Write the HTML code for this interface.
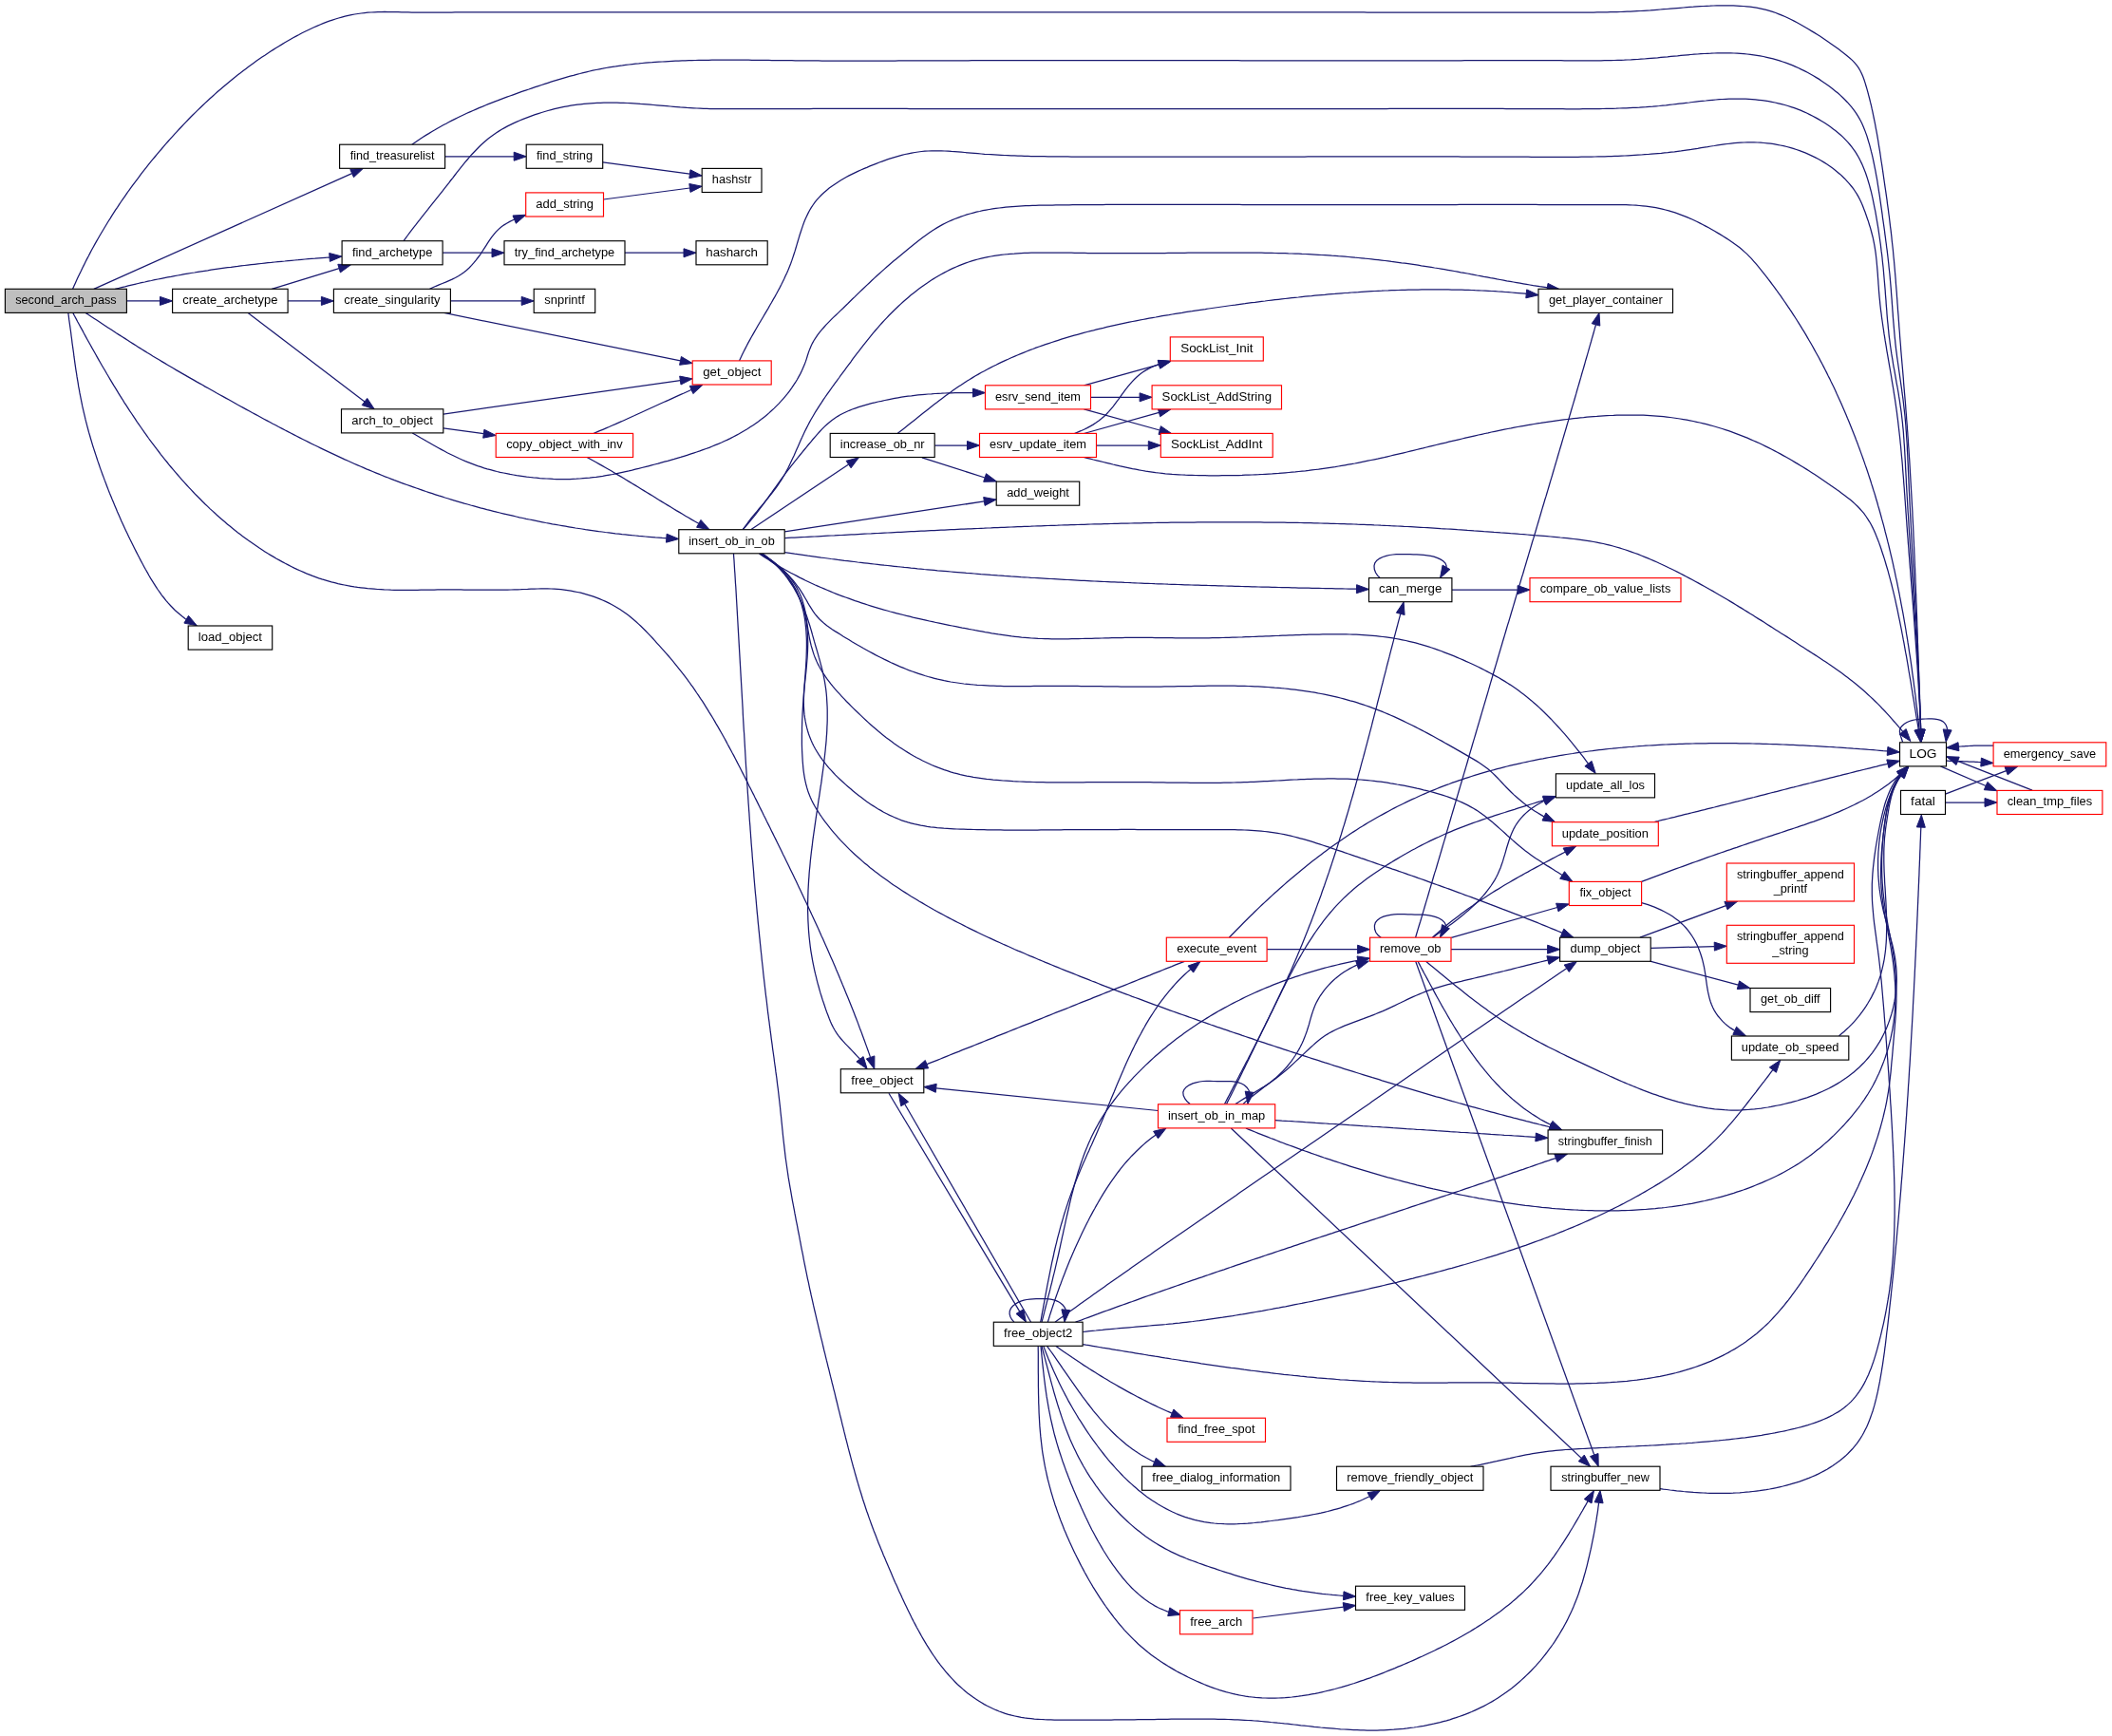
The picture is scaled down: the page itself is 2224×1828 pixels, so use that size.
<!DOCTYPE html>
<html><head><meta charset="utf-8"><title>second_arch_pass call graph</title><style>html,body{margin:0;padding:0;background:#fff;}body{width:2224px;height:1828px;overflow:hidden;}svg{display:block;}text{font-family:"Liberation Sans",sans-serif;}</style></head><body>
<svg xmlns="http://www.w3.org/2000/svg" width="2224" height="1828" viewBox="0 0 2224 1828">
<rect width="100%" height="100%" fill="#ffffff"/>
<g fill="none" stroke="#191970" stroke-width="1.25">
<path d="M76.5,304.4 77.9,301.2 79.4,297.9 80.8,294.7 82.3,291.5 83.8,288.4 85.4,285.2 86.9,282 88.5,278.9 90,275.7 91.6,272.6 93.3,269.5 94.9,266.4 96.5,263.3 98.2,260.2 99.9,257.1 101.6,254.1 103.4,251 105.1,248 106.9,245 108.7,242 110.5,239 112.3,236 114.1,233 116,230.1 117.8,227.1 119.7,224.2 121.6,221.2 123.6,218.3 125.5,215.4 127.4,212.5 129.4,209.6 131.4,206.8 133.4,203.9 135.4,201 137.5,198.2 139.5,195.4 141.6,192.6 143.7,189.8 145.8,187 147.9,184.2 150,181.4 152.2,178.7 154.4,175.9 156.5,173.2 158.7,170.4 161,167.7 163.2,165 165.4,162.3 167.7,159.6 170,157 172.2,154.3 174.5,151.7 176.9,149 179.2,146.4 181.5,143.8 183.9,141.2 186.3,138.6 188.7,136 191.1,133.5 193.5,130.9 195.9,128.4 198.4,125.8 200.8,123.3 203.3,120.8 205.8,118.4 208.3,115.9 210.8,113.5 213.4,111 215.9,108.6 218.5,106.2 221.1,103.8 223.7,101.5 226.3,99.1 228.9,96.8 231.6,94.5 234.2,92.2 236.9,89.9 239.6,87.7 242.3,85.4 245,83.2 247.8,81 250.5,78.8 253.3,76.7 256.1,74.5 258.9,72.4 261.7,70.3 264.5,68.2 267.3,66.2 270.2,64.1 273.1,62.1 276,60.1 278.9,58.2 281.8,56.2 284.7,54.3 287.7,52.4 290.6,50.5 293.6,48.7 296.6,46.9 299.6,45 302.6,43.3 305.7,41.5 308.7,39.8 311.8,38.1 314.9,36.5 318,34.8 321.1,33.3 324.3,31.7 327.4,30.2 330.6,28.8 333.8,27.4 337,26 340.2,24.7 343.4,23.4 346.7,22.2 350,21.1 353.3,20 356.6,19 359.9,18.1 363.3,17.2 366.7,16.4 370.1,15.7 373.5,15 376.9,14.5 380.4,14 383.9,13.6 387.3,13.2 390.9,13 394.4,12.8 397.9,12.7 401.5,12.6 405,12.5 408.6,12.6 412.2,12.6 415.8,12.6 419.3,12.7 422.9,12.8 426.5,12.9 430,12.9 433.5,13 437.1,13 440.6,13 444.1,13.1 447.6,13.1 451.1,13.1 454.6,13.1 458.1,13.1 461.6,13 465.1,13 468.6,13 472.1,13 475.6,13 479.1,12.9 482.6,12.9 486.1,12.9 489.5,12.9 493,12.9 496.5,12.9 500,12.9 503.5,12.9 507,12.8 510.5,12.8 514,12.8 517.5,12.8 521,12.8 524.5,12.8 528,12.8 531.5,12.8 535,12.8 538.5,12.8 542,12.8 545.5,12.8 549,12.8 552.6,12.8 556.1,12.8 559.6,12.8 563.1,12.8 566.6,12.8 570.1,12.8 573.6,12.8 577.1,12.8 580.6,12.8 584.1,12.8 587.6,12.8 591.1,12.8 594.6,12.8 598.1,12.8 601.6,12.8 605.1,12.8 608.7,12.8 612.2,12.8 615.7,12.8 619.2,12.8 622.7,12.8 626.2,12.8 629.7,12.8 633.2,12.8 636.7,12.8 640.2,12.8 643.7,12.8 647.2,12.8 650.8,12.8 654.3,12.8 657.8,12.8 661.3,12.8 664.8,12.8 668.3,12.8 671.8,12.8 675.3,12.8 678.8,12.8 682.3,12.8 685.8,12.8 689.3,12.8 692.9,12.8 696.4,12.8 699.9,12.8 703.4,12.8 706.9,12.8 710.4,12.8 713.9,12.8 717.4,12.8 720.9,12.8 724.4,12.8 727.9,12.8 731.4,12.8 734.9,12.8 738.5,12.8 742,12.9 745.5,12.9 749,12.9 752.5,12.9 756,12.9 759.5,12.9 763,12.9 766.5,12.9 770,12.9 773.5,12.9 777,12.9 780.5,12.9 784,12.9 787.6,12.9 791.1,12.9 794.6,12.9 798.1,12.9 801.6,12.9 805.1,12.9 808.6,12.9 812.1,12.9 815.6,12.9 819.1,12.9 822.6,12.9 826.1,12.9 829.6,12.9 833.1,12.9 836.7,12.9 840.2,12.9 843.7,12.9 847.2,12.9 850.7,12.9 854.2,12.9 857.7,12.9 861.2,12.9 864.7,12.9 868.2,12.9 871.7,12.9 875.2,12.9 878.7,12.9 882.2,12.9 885.8,12.9 889.3,12.9 892.8,12.9 896.3,12.9 899.8,12.9 903.3,12.9 906.8,12.9 910.3,12.9 913.8,12.9 917.3,12.9 920.8,12.9 924.3,12.9 927.8,12.9 931.3,12.9 934.8,12.9 938.4,12.9 941.9,12.9 945.4,12.9 948.9,12.9 952.4,12.9 955.9,12.9 959.4,12.9 962.9,12.9 966.4,12.9 969.9,12.9 973.4,12.9 976.9,12.9 980.4,12.9 983.9,12.9 987.4,12.9 990.9,12.9 994.5,12.9 998,12.9 1001.5,12.9 1005,12.9 1008.5,12.9 1012,12.9 1015.5,12.9 1019,12.9 1022.5,12.9 1026,12.9 1029.5,12.9 1033,12.9 1036.5,12.9 1040,12.9 1043.5,12.9 1047.1,12.9 1050.6,12.9 1054.1,12.9 1057.6,12.9 1061.1,12.9 1064.6,12.9 1068.1,12.9 1071.6,12.9 1075.1,12.9 1078.6,12.9 1082.1,12.9 1085.6,12.9 1089.1,12.9 1092.6,12.9 1096.1,12.9 1099.6,12.9 1103.2,12.9 1106.7,12.9 1110.2,12.9 1113.7,12.9 1117.2,12.9 1120.7,12.9 1124.2,12.9 1127.7,12.9 1131.2,12.9 1134.7,12.9 1138.2,12.9 1141.7,12.9 1145.2,12.9 1148.7,12.9 1152.2,12.9 1155.7,12.9 1159.3,12.9 1162.8,12.9 1166.3,12.9 1169.8,12.9 1173.3,12.9 1176.8,12.9 1180.3,12.9 1183.8,12.9 1187.3,12.9 1190.8,12.9 1194.3,12.9 1197.8,12.9 1201.3,12.9 1204.8,12.9 1208.3,12.9 1211.9,12.9 1215.4,12.9 1218.9,12.9 1222.4,12.9 1225.9,12.9 1229.4,12.9 1232.9,12.9 1236.4,12.9 1239.9,12.9 1243.4,12.9 1246.9,12.9 1250.4,12.9 1253.9,12.9 1257.4,12.9 1260.9,12.9 1264.4,12.9 1268,12.9 1271.5,12.9 1275,12.9 1278.5,12.9 1282,12.9 1285.5,12.9 1289,12.9 1292.5,12.9 1296,12.9 1299.5,12.9 1303,12.9 1306.5,12.9 1310,12.9 1313.5,12.9 1317.1,12.9 1320.6,12.9 1324.1,12.9 1327.6,12.9 1331.1,12.9 1334.6,12.9 1338.1,12.9 1341.6,12.9 1345.1,12.9 1348.6,12.9 1352.1,12.9 1355.6,12.9 1359.1,12.9 1362.6,12.9 1366.1,12.9 1369.7,12.9 1373.2,12.9 1376.7,12.9 1380.2,12.9 1383.7,12.9 1387.2,12.9 1390.7,12.9 1394.2,12.9 1397.7,12.9 1401.2,12.9 1404.7,12.9 1408.2,12.9 1411.7,12.9 1415.2,12.9 1418.8,12.9 1422.3,12.9 1425.8,12.9 1429.3,12.9 1432.8,12.9 1436.3,12.9 1439.8,13 1443.3,13 1446.8,13 1450.3,13 1453.8,13 1457.3,13 1460.8,13 1464.3,13 1467.9,13 1471.4,13 1474.9,13 1478.4,13 1481.9,13 1485.4,13 1488.9,13 1492.4,13 1495.9,13 1499.4,13 1502.9,13 1506.4,13 1509.9,13 1513.4,13 1517,13 1520.5,13 1524,13 1527.5,13 1531,13 1534.5,13 1538,13 1541.5,13 1545,13 1548.5,13 1552,13 1555.5,13 1559,13 1562.5,13 1566,13 1569.6,13 1573.1,13 1576.6,13 1580.1,13 1583.6,13 1587.1,13 1590.6,13 1594.1,13 1597.6,13 1601.1,13 1604.6,13 1608.1,13 1611.6,13 1615.1,13 1618.6,13 1622.2,13 1625.7,13 1629.2,13 1632.7,13 1636.2,13 1639.7,13 1643.2,13 1646.7,13.1 1650.2,13.1 1653.7,13.1 1657.2,13.1 1660.7,13.1 1664.2,13 1667.7,13 1671.2,13 1674.7,13 1678.3,13 1681.8,12.9 1685.3,12.9 1688.8,12.9 1692.3,12.8 1695.8,12.7 1699.3,12.7 1702.8,12.6 1706.3,12.5 1709.8,12.3 1713.3,12.2 1716.8,12.1 1720.3,11.9 1723.8,11.7 1727.3,11.5 1730.8,11.3 1734.3,11.1 1737.8,10.9 1741.3,10.6 1744.8,10.3 1748.3,10 1751.8,9.7 1755.3,9.5 1758.8,9.2 1762.3,8.9 1765.7,8.6 1769.2,8.3 1772.7,8 1776.2,7.7 1779.7,7.4 1783.2,7.2 1786.7,6.9 1790.2,6.7 1793.7,6.5 1797.2,6.3 1800.7,6.2 1804.2,6 1807.8,5.9 1811.3,5.9 1814.8,5.8 1818.3,5.8 1821.8,5.9 1825.3,5.9 1828.8,6.1 1832.3,6.3 1835.8,6.5 1839.3,6.8 1842.8,7.2 1846.2,7.7 1849.7,8.2 1853.1,8.8 1856.5,9.6 1859.9,10.4 1863.3,11.3 1866.6,12.4 1869.9,13.5 1873.2,14.8 1876.4,16.1 1879.7,17.5 1882.9,19 1886,20.5 1889.2,22.1 1892.3,23.8 1895.4,25.5 1898.5,27.2 1901.5,29 1904.5,30.8 1907.5,32.6 1910.5,34.4 1913.5,36.2 1916.4,38.1 1919.3,40 1922.2,41.9 1925.1,43.9 1927.9,45.9 1930.8,47.9 1933.7,50 1936.5,52.1 1939.3,54.3 1942.2,56.4 1945,58.7 1947.7,61 1950.4,63.4 1952.8,65.9 1955.1,68.6 1957.1,71.4 1958.8,74.3 1960.4,77.4 1961.7,80.6 1962.9,83.8 1964,87.1 1965,90.5 1966,93.8 1966.9,97.2 1967.8,100.6 1968.7,104 1969.5,107.4 1970.4,110.8 1971.1,114.2 1971.9,117.6 1972.6,121.1 1973.3,124.5 1974,127.9 1974.7,131.4 1975.3,134.8 1976,138.3 1976.6,141.7 1977.2,145.2 1977.8,148.7 1978.3,152.1 1978.9,155.6 1979.5,159.1 1980,162.5 1980.5,166 1981,169.5 1981.6,173 1982.1,176.4 1982.6,179.9 1983.1,183.4 1983.6,186.8 1984.1,190.3 1984.6,193.8 1985.1,197.3 1985.6,200.7 1986.1,204.2 1986.6,207.7 1987.1,211.1 1987.5,214.6 1988,218.1 1988.5,221.6 1988.9,225 1989.4,228.5 1989.8,232 1990.2,235.4 1990.6,238.9 1991.1,242.4 1991.5,245.9 1991.9,249.4 1992.2,252.8 1992.6,256.3 1993,259.8 1993.4,263.3 1993.7,266.8 1994,270.3 1994.4,273.7 1994.7,277.2 1995,280.7 1995.3,284.2 1995.6,287.7 1995.9,291.2 1996.2,294.7 1996.4,298.2 1996.7,301.7 1997,305.2 1997.3,308.7 1997.5,312.2 1997.8,315.7 1998,319.2 1998.3,322.7 1998.5,326.2 1998.8,329.7 1999.1,333.2 1999.3,336.7 1999.6,340.2 1999.8,343.7 2000.1,347.2 2000.4,350.7 2000.6,354.2 2000.9,357.7 2001.2,361.2 2001.5,364.7 2001.7,368.2 2002,371.7 2002.3,375.2 2002.6,378.7 2002.9,382.2 2003.2,385.6 2003.5,389.1 2003.8,392.6 2004.1,396.1 2004.4,399.6 2004.6,403.1 2004.9,406.6 2005.2,410.1 2005.5,413.6 2005.8,417.1 2006.1,420.6 2006.4,424.1 2006.7,427.6 2006.9,431.1 2007.2,434.5 2007.5,438 2007.7,441.5 2008,445 2008.3,448.5 2008.5,452 2008.8,455.5 2009,459 2009.3,462.5 2009.5,466 2009.7,469.5 2010,473 2010.2,476.5 2010.4,480 2010.7,483.5 2010.9,487 2011.1,490.5 2011.3,494 2011.5,497.5 2011.7,501 2011.9,504.5 2012.1,508 2012.3,511.5 2012.5,515 2012.7,518.5 2012.9,522 2013.1,525.5 2013.3,529 2013.5,532.5 2013.7,536 2013.9,539.5 2014,543 2014.2,546.5 2014.4,550 2014.6,553.5 2014.7,557 2014.9,560.5 2015,564 2015.2,567.5 2015.4,571 2015.5,574.5 2015.7,578 2015.8,581.5 2016,585 2016.1,588.6 2016.3,592.1 2016.4,595.6 2016.6,599.1 2016.7,602.6 2016.9,606.1 2017,609.6 2017.1,613.1 2017.3,616.6 2017.4,620.1 2017.5,623.6 2017.7,627.1 2017.8,630.6 2017.9,634.1 2018.1,637.6 2018.2,641.1 2018.3,644.6 2018.5,648.1 2018.6,651.6 2018.7,655.1 2018.8,658.7 2019,662.2 2019.1,665.7 2019.2,669.2 2019.3,672.7 2019.4,676.2 2019.6,679.7 2019.7,683.2 2019.8,686.7 2019.9,690.2 2020,693.7 2020.2,697.2 2020.3,700.7 2020.4,704.2 2020.5,707.7 2020.6,711.2 2020.7,714.7 2020.9,718.2 2021,721.7 2021.1,725.3 2021.2,728.8 2021.3,732.3 2021.4,735.8 2021.6,739.3 2021.7,742.8 2021.8,746.3 2021.9,749.8 2022,753.3 2022.2,756.8 2022.3,760.3 2022.4,763.8 2022.5,767.3 2022.6,768.3"/>
<path d="M98.8,304.4L370.6,182.6"/>
<path d="M121.2,304.4 124.7,303.5 128.1,302.6 131.6,301.8 135.1,300.9 138.5,300.1 142,299.3 145.4,298.5 148.9,297.7 152.4,297 155.8,296.2 159.3,295.5 162.8,294.7 166.3,294 169.8,293.3 173.2,292.6 176.7,291.9 180.2,291.3 183.7,290.6 187.2,290 190.7,289.4 194.2,288.7 197.7,288.1 201.2,287.5 204.7,287 208.2,286.4 211.7,285.8 215.2,285.3 218.7,284.8 222.2,284.2 225.7,283.7 229.3,283.2 232.8,282.7 236.3,282.2 239.8,281.7 243.3,281.3 246.8,280.8 250.4,280.4 253.9,279.9 257.4,279.5 260.9,279.1 264.5,278.7 268,278.3 271.5,277.9 275.1,277.5 278.6,277.1 282.1,276.7 285.7,276.4 289.2,276 292.7,275.6 296.3,275.3 299.8,275 303.3,274.6 306.9,274.3 310.4,274 314,273.7 317.5,273.3 321,273 324.6,272.7 328.1,272.4 331.7,272.2 335.2,271.9 338.7,271.6 342.3,271.3 345.8,271 347,271"/>
<path d="M133.4,316.9L168.5,316.9"/>
<path d="M90,329.4 93,331.3 95.9,333.3 98.9,335.2 101.8,337.1 104.8,339.1 107.7,341 110.7,342.9 113.7,344.9 116.6,346.8 119.6,348.7 122.5,350.7 125.5,352.6 128.5,354.5 131.5,356.4 134.4,358.3 137.4,360.2 140.4,362.1 143.4,364 146.3,365.9 149.3,367.7 152.3,369.6 155.3,371.5 158.3,373.3 161.3,375.2 164.3,377 167.4,378.8 170.4,380.6 173.4,382.4 176.4,384.2 179.5,386 182.5,387.8 185.5,389.6 188.6,391.4 191.6,393.1 194.7,394.9 197.7,396.6 200.8,398.4 203.9,400.1 206.9,401.9 210,403.6 213.1,405.3 216.1,407.1 219.2,408.8 222.3,410.5 225.4,412.2 228.4,414 231.5,415.7 234.6,417.4 237.7,419.1 240.8,420.8 243.9,422.5 246.9,424.2 250,426 253.1,427.7 256.2,429.4 259.3,431.1 262.4,432.8 265.5,434.5 268.6,436.1 271.7,437.8 274.8,439.5 277.9,441.2 281.1,442.9 284.2,444.5 287.3,446.2 290.4,447.8 293.5,449.5 296.7,451.1 299.8,452.8 302.9,454.4 306.1,456 309.2,457.6 312.4,459.3 315.5,460.9 318.7,462.5 321.8,464 325,465.6 328.1,467.2 331.3,468.8 334.5,470.3 337.7,471.9 340.8,473.4 344,474.9 347.2,476.4 350.4,477.9 353.6,479.4 356.8,480.9 360,482.4 363.2,483.9 366.4,485.3 369.7,486.8 372.9,488.2 376.1,489.6 379.4,491 382.6,492.4 385.8,493.8 389.1,495.1 392.4,496.5 395.6,497.8 398.9,499.1 402.2,500.5 405.4,501.8 408.7,503 412,504.3 415.3,505.6 418.6,506.8 421.9,508.1 425.2,509.3 428.5,510.5 431.8,511.7 435.2,512.9 438.5,514 441.8,515.2 445.2,516.3 448.5,517.5 451.8,518.6 455.2,519.7 458.5,520.8 461.9,521.9 465.3,522.9 468.6,524 472,525 475.4,526.1 478.7,527.1 482.1,528.1 485.5,529.1 488.9,530.1 492.3,531 495.7,532 499.1,532.9 502.5,533.8 505.9,534.8 509.3,535.7 512.7,536.6 516.1,537.4 519.6,538.3 523,539.2 526.4,540 529.8,540.8 533.3,541.6 536.7,542.4 540.2,543.2 543.6,544 547,544.8 550.5,545.5 553.9,546.3 557.4,547 560.9,547.7 564.3,548.4 567.8,549.1 571.2,549.8 574.7,550.5 578.2,551.1 581.6,551.8 585.1,552.4 588.6,553 592.1,553.6 595.6,554.2 599,554.8 602.5,555.4 606,556 609.5,556.5 613,557 616.5,557.6 620,558.1 623.5,558.6 627,559.1 630.5,559.6 634,560 637.5,560.5 641,560.9 644.5,561.3 648,561.8 651.5,562.2 655,562.6 658.5,562.9 662,563.3 665.5,563.7 669.1,564 672.6,564.4 676.1,564.7 679.6,565 683.1,565.3 686.6,565.6 690.2,565.9 693.7,566.1 697.2,566.4 700.7,566.6 701.8,566.7"/>
<path d="M76.8,329.4 78.4,332.5 80.1,335.6 81.7,338.7 83.4,341.8 85.1,344.9 86.8,347.9 88.4,351 90.1,354.1 91.8,357.2 93.5,360.3 95.2,363.3 96.9,366.4 98.7,369.5 100.4,372.5 102.1,375.6 103.8,378.6 105.6,381.7 107.3,384.7 109.1,387.8 110.9,390.8 112.6,393.8 114.4,396.8 116.2,399.9 118,402.9 119.8,405.9 121.7,408.9 123.5,411.9 125.3,414.8 127.2,417.8 129.1,420.8 130.9,423.8 132.8,426.7 134.7,429.7 136.6,432.6 138.6,435.5 140.5,438.4 142.5,441.4 144.4,444.3 146.4,447.1 148.4,450 150.4,452.9 152.5,455.8 154.5,458.6 156.5,461.5 158.6,464.3 160.7,467.1 162.8,469.9 164.9,472.7 167.1,475.5 169.2,478.3 171.4,481.1 173.6,483.8 175.8,486.5 178,489.3 180.2,492 182.5,494.7 184.8,497.4 187.1,500 189.4,502.7 191.7,505.3 194,507.9 196.4,510.5 198.8,513.1 201.2,515.7 203.6,518.2 206,520.8 208.5,523.3 211,525.8 213.4,528.2 215.9,530.7 218.5,533.1 221,535.6 223.6,537.9 226.2,540.3 228.8,542.7 231.4,545 234,547.3 236.7,549.6 239.4,551.9 242.1,554.1 244.8,556.3 247.5,558.5 250.3,560.7 253.1,562.8 255.9,564.9 258.7,567 261.5,569.1 264.4,571.1 267.3,573.1 270.2,575.1 273.1,577.1 276.1,579 279,580.9 282,582.8 285,584.6 288.1,586.4 291.1,588.2 294.2,589.9 297.3,591.6 300.4,593.3 303.5,594.9 306.6,596.5 309.8,598.1 313,599.6 316.2,601 319.4,602.4 322.6,603.8 325.9,605.1 329.1,606.4 332.4,607.6 335.7,608.8 339,609.9 342.4,610.9 345.7,611.9 349.1,612.9 352.5,613.7 355.9,614.6 359.3,615.3 362.7,616 366.1,616.7 369.6,617.3 373,617.9 376.5,618.4 380,618.8 383.5,619.2 387,619.6 390.5,619.9 394,620.2 397.5,620.5 401,620.7 404.5,620.9 408,621 411.6,621.2 415.1,621.3 418.6,621.3 422.1,621.4 425.7,621.4 429.2,621.4 432.7,621.4 436.2,621.3 439.7,621.3 443.2,621.2 446.7,621.2 450.2,621.1 453.7,621 457.3,621 460.8,620.9 464.3,620.9 467.8,620.9 471.3,620.8 474.8,620.9 478.3,620.9 481.8,620.9 485.3,620.9 488.8,621 492.3,621 495.9,621.1 499.4,621.1 502.9,621.1 506.4,621.2 509.9,621.2 513.4,621.2 516.9,621.2 520.4,621.2 523.9,621.2 527.5,621.2 531,621.2 534.5,621.1 538,621 541.5,620.9 545,620.8 548.5,620.7 552.1,620.5 555.6,620.4 559.1,620.2 562.6,620.1 566.1,620 569.7,619.9 573.2,619.9 576.7,619.9 580.2,620 583.7,620.2 587.2,620.4 590.7,620.7 594.2,621.1 597.7,621.6 601.2,622.1 604.6,622.8 608,623.5 611.5,624.2 614.9,625.1 618.2,626.1 621.6,627.1 624.9,628.2 628.2,629.4 631.4,630.6 634.6,632 637.8,633.4 640.9,634.9 644,636.5 647.1,638.2 650.1,640 653,641.8 655.9,643.7 658.8,645.7 661.6,647.8 664.3,650 667,652.2 669.6,654.5 672.2,656.9 674.8,659.3 677.3,661.8 679.8,664.3 682.3,666.9 684.7,669.4 687.2,672 689.6,674.7 691.9,677.3 694.3,679.9 696.7,682.6 699,685.2 701.4,687.9 703.7,690.5 706,693.2 708.3,695.9 710.5,698.6 712.7,701.3 714.9,704.1 717.1,706.8 719.3,709.6 721.4,712.4 723.5,715.2 725.6,718 727.6,720.9 729.7,723.7 731.7,726.6 733.6,729.5 735.6,732.4 737.5,735.3 739.5,738.2 741.4,741.2 743.2,744.1 745.1,747.1 746.9,750.1 748.8,753.1 750.6,756 752.4,759.1 754.1,762.1 755.9,765.1 757.6,768.1 759.4,771.2 761.1,774.3 762.8,777.3 764.5,780.4 766.1,783.5 767.8,786.6 769.5,789.7 771.1,792.8 772.8,795.9 774.4,799 776,802.1 777.6,805.2 779.2,808.3 780.8,811.5 782.4,814.6 784,817.7 785.6,820.9 787.2,824 788.7,827.2 790.3,830.3 791.9,833.5 793.5,836.6 795,839.8 796.6,842.9 798.2,846.1 799.7,849.2 801.3,852.4 802.9,855.5 804.4,858.7 806,861.8 807.5,865 809.1,868.1 810.7,871.3 812.2,874.4 813.8,877.6 815.3,880.7 816.9,883.9 818.4,887 820,890.2 821.5,893.3 823.1,896.5 824.6,899.7 826.2,902.8 827.7,906 829.2,909.1 830.8,912.3 832.3,915.5 833.8,918.6 835.4,921.8 836.9,925 838.4,928.1 839.9,931.3 841.4,934.5 842.9,937.6 844.4,940.8 845.9,944 847.4,947.2 848.9,950.3 850.4,953.5 851.9,956.7 853.4,959.9 854.8,963.1 856.3,966.3 857.8,969.5 859.2,972.6 860.7,975.8 862.2,979 863.6,982.2 865,985.4 866.5,988.6 867.9,991.8 869.3,995 870.8,998.3 872.2,1001.5 873.6,1004.7 875,1007.9 876.4,1011.1 877.8,1014.3 879.2,1017.6 880.5,1020.8 881.9,1024 883.3,1027.3 884.6,1030.5 886,1033.7 887.3,1037 888.7,1040.2 890,1043.5 891.3,1046.7 892.7,1050 894,1053.2 895.3,1056.5 896.6,1059.7 897.9,1063 899.2,1066.3 900.4,1069.5 901.7,1072.8 903,1076.1 904.2,1079.4 905.4,1082.7 906.7,1085.9 907.9,1089.2 909.1,1092.5 910.3,1095.8 911.5,1099.1 912.7,1102.4 913.9,1105.8 915.1,1109.1 916.2,1112.4 916.6,1113.4"/>
<path d="M71.8,329.4 72.3,332.9 72.7,336.4 73.2,339.9 73.7,343.4 74.2,347 74.7,350.5 75.1,354 75.6,357.5 76,361.1 76.5,364.6 77,368.1 77.5,371.7 77.9,375.2 78.4,378.7 78.9,382.3 79.4,385.8 79.9,389.3 80.5,392.9 81,396.4 81.6,399.9 82.2,403.4 82.7,406.9 83.4,410.4 84,413.9 84.7,417.4 85.4,420.9 86.1,424.4 86.8,427.9 87.6,431.3 88.4,434.8 89.2,438.2 90,441.7 90.9,445.1 91.8,448.6 92.7,452 93.6,455.4 94.6,458.8 95.6,462.2 96.6,465.6 97.6,469 98.7,472.4 99.8,475.8 100.9,479.1 102,482.5 103.1,485.9 104.3,489.2 105.4,492.6 106.6,495.9 107.8,499.2 109.1,502.6 110.3,505.9 111.6,509.2 112.8,512.5 114.1,515.9 115.4,519.2 116.8,522.5 118.1,525.8 119.5,529.1 120.8,532.3 122.2,535.6 123.6,538.9 125.1,542.2 126.5,545.4 127.9,548.7 129.4,551.9 130.9,555.2 132.4,558.4 133.9,561.6 135.5,564.9 137,568.1 138.6,571.3 140.2,574.5 141.8,577.7 143.4,580.9 145,584 146.7,587.2 148.3,590.4 150,593.5 151.7,596.7 153.4,599.8 155.2,602.9 156.9,606 158.7,609.1 160.6,612.1 162.5,615.1 164.4,618.1 166.3,621 168.4,623.9 170.4,626.8 172.6,629.5 174.8,632.3 177,634.9 179.4,637.5 181.8,640 184.2,642.5 186.8,644.8 189.5,647.1 192.2,649.3 195,651.4 196.2,652.2"/>
<path d="M286.2,304.4L357.1,282.6"/>
<path d="M303.1,316.9L338.4,316.9"/>
<path d="M261.2,329.4L384,423"/>
<path d="M433.8,152.2 436.7,150.2 439.6,148.2 442.5,146.2 445.5,144.3 448.5,142.4 451.5,140.6 454.5,138.7 457.5,137 460.5,135.2 463.6,133.5 466.6,131.8 469.7,130.2 472.8,128.5 475.9,126.9 479,125.4 482.2,123.8 485.3,122.3 488.5,120.8 491.6,119.3 494.8,117.9 498,116.5 501.2,115.1 504.4,113.7 507.7,112.4 510.9,111 514.1,109.7 517.4,108.4 520.6,107.1 523.9,105.9 527.2,104.6 530.4,103.4 533.7,102.2 537,101 540.3,99.8 543.6,98.6 546.9,97.4 550.3,96.2 553.6,95.1 556.9,94 560.2,92.8 563.6,91.7 566.9,90.6 570.2,89.5 573.6,88.4 576.9,87.3 580.3,86.2 583.6,85.2 587,84.1 590.4,83.1 593.8,82.1 597.1,81.1 600.5,80.2 603.9,79.3 607.3,78.3 610.7,77.5 614.1,76.6 617.5,75.8 620.9,75 624.3,74.2 627.8,73.5 631.2,72.8 634.6,72.2 638.1,71.5 641.5,70.9 645,70.4 648.4,69.9 651.9,69.3 655.4,68.9 658.8,68.4 662.3,68 665.8,67.6 669.3,67.2 672.7,66.9 676.2,66.5 679.7,66.2 683.2,65.9 686.7,65.7 690.2,65.4 693.7,65.2 697.2,65 700.7,64.8 704.2,64.6 707.7,64.4 711.2,64.2 714.7,64.1 718.2,63.9 721.7,63.8 725.2,63.7 728.7,63.6 732.2,63.5 735.7,63.4 739.2,63.4 742.7,63.3 746.2,63.3 749.7,63.2 753.2,63.2 756.7,63.2 760.2,63.1 763.7,63.1 767.2,63.1 770.7,63.1 774.2,63.1 777.7,63.2 781.2,63.2 784.8,63.2 788.3,63.2 791.8,63.3 795.3,63.3 798.8,63.3 802.3,63.4 805.8,63.4 809.3,63.4 812.8,63.5 816.3,63.5 819.8,63.6 823.4,63.6 826.9,63.6 830.4,63.7 833.9,63.7 837.4,63.8 840.9,63.8 844.4,63.8 847.9,63.8 851.4,63.9 854.9,63.9 858.4,63.9 861.9,63.9 865.5,64 869,64 872.5,64 876,64 879.5,64 883,64 886.5,64 890,64 893.5,64 897,64 900.5,64 904,64 907.5,64 911,64 914.6,64 918.1,64 921.6,64 925.1,64 928.6,64 932.1,64 935.6,64 939.1,64 942.6,64 946.1,63.9 949.6,63.9 953.1,63.9 956.6,63.9 960.1,63.9 963.6,63.9 967.1,63.9 970.7,63.9 974.2,63.9 977.7,63.9 981.2,63.8 984.7,63.8 988.2,63.8 991.7,63.8 995.2,63.8 998.7,63.8 1002.2,63.8 1005.7,63.8 1009.2,63.8 1012.7,63.8 1016.2,63.8 1019.7,63.8 1023.2,63.7 1026.8,63.7 1030.3,63.7 1033.8,63.7 1037.3,63.7 1040.8,63.7 1044.3,63.7 1047.8,63.7 1051.3,63.7 1054.8,63.7 1058.3,63.7 1061.8,63.7 1065.3,63.7 1068.8,63.7 1072.3,63.7 1075.8,63.7 1079.3,63.7 1082.9,63.7 1086.4,63.7 1089.9,63.7 1093.4,63.7 1096.9,63.7 1100.4,63.7 1103.9,63.7 1107.4,63.7 1110.9,63.7 1114.4,63.7 1117.9,63.7 1121.4,63.7 1124.9,63.7 1128.4,63.7 1131.9,63.7 1135.4,63.7 1139,63.7 1142.5,63.7 1146,63.7 1149.5,63.7 1153,63.7 1156.5,63.7 1160,63.7 1163.5,63.7 1167,63.7 1170.5,63.7 1174,63.7 1177.5,63.7 1181,63.7 1184.5,63.7 1188,63.7 1191.6,63.7 1195.1,63.7 1198.6,63.7 1202.1,63.7 1205.6,63.7 1209.1,63.7 1212.6,63.7 1216.1,63.7 1219.6,63.7 1223.1,63.7 1226.6,63.7 1230.1,63.7 1233.6,63.7 1237.1,63.7 1240.6,63.7 1244.2,63.7 1247.7,63.7 1251.2,63.7 1254.7,63.7 1258.2,63.7 1261.7,63.7 1265.2,63.7 1268.7,63.7 1272.2,63.7 1275.7,63.7 1279.2,63.7 1282.7,63.7 1286.2,63.7 1289.7,63.7 1293.3,63.7 1296.8,63.7 1300.3,63.7 1303.8,63.7 1307.3,63.8 1310.8,63.8 1314.3,63.8 1317.8,63.8 1321.3,63.8 1324.8,63.8 1328.3,63.8 1331.8,63.8 1335.3,63.8 1338.8,63.8 1342.3,63.8 1345.9,63.8 1349.4,63.8 1352.9,63.8 1356.4,63.8 1359.9,63.8 1363.4,63.8 1366.9,63.8 1370.4,63.8 1373.9,63.8 1377.4,63.8 1380.9,63.8 1384.4,63.8 1387.9,63.8 1391.4,63.8 1394.9,63.8 1398.5,63.8 1402,63.8 1405.5,63.8 1409,63.8 1412.5,63.8 1416,63.8 1419.5,63.8 1423,63.8 1426.5,63.8 1430,63.8 1433.5,63.8 1437,63.8 1440.5,63.8 1444,63.8 1447.6,63.8 1451.1,63.8 1454.6,63.8 1458.1,63.8 1461.6,63.8 1465.1,63.8 1468.6,63.8 1472.1,63.8 1475.6,63.8 1479.1,63.8 1482.6,63.8 1486.1,63.8 1489.6,63.8 1493.1,63.8 1496.6,63.8 1500.2,63.8 1503.7,63.8 1507.2,63.8 1510.7,63.8 1514.2,63.8 1517.7,63.8 1521.2,63.8 1524.7,63.8 1528.2,63.8 1531.7,63.8 1535.2,63.8 1538.7,63.8 1542.2,63.7 1545.7,63.7 1549.3,63.7 1552.8,63.7 1556.3,63.7 1559.8,63.7 1563.3,63.7 1566.8,63.7 1570.3,63.7 1573.8,63.7 1577.3,63.7 1580.8,63.7 1584.3,63.7 1587.8,63.7 1591.3,63.7 1594.8,63.7 1598.3,63.7 1601.9,63.7 1605.4,63.7 1608.9,63.7 1612.4,63.7 1615.9,63.7 1619.4,63.7 1622.9,63.7 1626.4,63.7 1629.9,63.7 1633.4,63.7 1636.9,63.7 1640.4,63.7 1643.9,63.7 1647.4,63.8 1650.9,63.8 1654.4,63.8 1657.9,63.8 1661.4,63.8 1664.9,63.8 1668.4,63.8 1672,63.8 1675.5,63.8 1679,63.8 1682.5,63.8 1686,63.8 1689.5,63.7 1693,63.7 1696.5,63.6 1700,63.5 1703.5,63.4 1707,63.3 1710.5,63.2 1714,63 1717.5,62.9 1721,62.7 1724.5,62.5 1728,62.2 1731.5,62 1735,61.7 1738.5,61.4 1742,61.1 1745.5,60.8 1749,60.4 1752.5,60.1 1756,59.8 1759.5,59.4 1763,59.1 1766.5,58.8 1770,58.4 1773.5,58.1 1777,57.8 1780.5,57.5 1784,57.2 1787.5,57 1791,56.7 1794.5,56.5 1798,56.3 1801.5,56.2 1805,56 1808.5,55.9 1812,55.9 1815.5,55.8 1819,55.9 1822.4,55.9 1825.9,56 1829.4,56.2 1832.8,56.4 1836.3,56.7 1839.8,57 1843.2,57.4 1846.6,57.8 1850.1,58.3 1853.5,58.9 1856.9,59.5 1860.3,60.3 1863.7,61.1 1867.1,61.9 1870.5,62.9 1873.9,63.9 1877.2,65 1880.6,66.2 1883.9,67.4 1887.2,68.7 1890.5,70.1 1893.7,71.5 1896.9,73.1 1900.1,74.6 1903.3,76.3 1906.4,78 1909.5,79.7 1912.6,81.6 1915.6,83.4 1918.5,85.4 1921.5,87.4 1924.4,89.4 1927.2,91.5 1930,93.7 1932.7,95.9 1935.4,98.1 1938,100.4 1940.5,102.8 1943,105.2 1945.4,107.7 1947.7,110.3 1949.9,112.9 1952,115.6 1954,118.3 1955.8,121.2 1957.6,124.1 1959.2,127 1960.7,130.1 1962.1,133.2 1963.4,136.4 1964.6,139.6 1965.8,142.9 1966.8,146.2 1967.8,149.6 1968.8,152.9 1969.7,156.3 1970.5,159.7 1971.4,163.1 1972.2,166.6 1972.9,170 1973.6,173.4 1974.3,176.9 1975,180.4 1975.6,183.8 1976.3,187.3 1976.9,190.8 1977.4,194.3 1978,197.8 1978.5,201.3 1979.1,204.8 1979.6,208.3 1980.1,211.8 1980.6,215.3 1981.1,218.8 1981.6,222.3 1982.1,225.8 1982.5,229.3 1983,232.7 1983.5,236.2 1984,239.7 1984.5,243.1 1984.9,246.6 1985.4,250.1 1985.8,253.5 1986.3,257 1986.7,260.5 1987.2,263.9 1987.6,267.4 1988,270.8 1988.4,274.3 1988.8,277.8 1989.1,281.2 1989.5,284.7 1989.9,288.2 1990.2,291.6 1990.5,295.1 1990.8,298.6 1991.1,302.1 1991.4,305.6 1991.6,309.1 1991.9,312.6 1992.2,316.1 1992.4,319.6 1992.7,323.1 1992.9,326.6 1993.2,330.1 1993.4,333.6 1993.7,337.1 1994,340.6 1994.3,344.1 1994.6,347.6 1994.9,351.1 1995.2,354.6 1995.6,358.1 1995.9,361.6 1996.3,365.1 1996.7,368.6 1997.2,372.1 1997.6,375.6 1998.1,379 1998.6,382.5 1999.1,386 1999.6,389.5 2000.1,392.9 2000.6,396.4 2001.1,399.9 2001.6,403.3 2002.1,406.8 2002.6,410.3 2003,413.7 2003.5,417.2 2004,420.7 2004.4,424.2 2004.8,427.6 2005.2,431.1 2005.6,434.6 2006,438.1 2006.3,441.6 2006.6,445.1 2006.9,448.5 2007.1,452 2007.4,455.5 2007.6,459 2007.8,462.5 2008.1,466 2008.3,469.5 2008.4,473 2008.6,476.5 2008.8,480 2008.9,483.5 2009.1,487.1 2009.3,490.6 2009.4,494.1 2009.6,497.6 2009.7,501.1 2009.9,504.6 2010,508.1 2010.2,511.6 2010.3,515.1 2010.5,518.6 2010.7,522.1 2010.8,525.6 2011,529.1 2011.2,532.6 2011.4,536.1 2011.5,539.6 2011.7,543.1 2011.9,546.6 2012.1,550.1 2012.3,553.6 2012.5,557.1 2012.6,560.6 2012.8,564.2 2013,567.7 2013.2,571.2 2013.4,574.7 2013.6,578.2 2013.8,581.7 2014,585.2 2014.2,588.7 2014.4,592.2 2014.6,595.7 2014.8,599.2 2015,602.7 2015.2,606.2 2015.4,609.7 2015.5,613.2 2015.7,616.7 2015.9,620.2 2016.1,623.7 2016.3,627.2 2016.5,630.7 2016.7,634.2 2016.9,637.7 2017.1,641.2 2017.3,644.7 2017.5,648.2 2017.7,651.7 2017.9,655.2 2018,658.7 2018.2,662.2 2018.4,665.7 2018.6,669.2 2018.8,672.7 2019,676.2 2019.1,679.7 2019.3,683.2 2019.5,686.7 2019.6,690.2 2019.8,693.7 2020,697.2 2020.1,700.7 2020.3,704.2 2020.5,707.7 2020.6,711.2 2020.8,714.7 2020.9,718.2 2021.1,721.7 2021.2,725.2 2021.3,728.7 2021.5,732.2 2021.6,735.7 2021.7,739.2 2021.9,742.7 2022,746.2 2022.1,749.7 2022.2,753.2 2022.3,756.8 2022.4,760.3 2022.6,763.8 2022.7,767.3 2022.7,768.3"/>
<path d="M468.6,164.8L541.2,164.8"/>
<path d="M425,253.7 427.1,250.9 429.2,248 431.3,245.2 433.4,242.4 435.5,239.6 437.7,236.9 439.8,234.1 442,231.4 444.1,228.6 446.3,225.9 448.5,223.1 450.7,220.4 452.8,217.7 455,214.9 457.2,212.2 459.4,209.4 461.6,206.7 463.8,203.9 466,201.2 468.1,198.4 470.3,195.6 472.5,192.8 474.6,190 476.8,187.3 478.9,184.5 481.1,181.7 483.3,178.9 485.5,176.1 487.7,173.4 489.9,170.7 492.2,168 494.4,165.3 496.7,162.7 499.1,160.2 501.5,157.7 503.9,155.2 506.4,152.8 508.9,150.5 511.5,148.2 514.1,146 516.8,143.9 519.6,141.9 522.4,139.9 525.3,138.1 528.3,136.3 531.3,134.6 534.4,132.9 537.5,131.4 540.6,129.9 543.8,128.4 547,127 550.3,125.7 553.6,124.4 556.9,123.1 560.2,121.9 563.5,120.7 566.9,119.6 570.3,118.5 573.6,117.5 577,116.5 580.4,115.6 583.9,114.7 587.3,113.9 590.7,113.1 594.1,112.4 597.6,111.8 601,111.2 604.5,110.7 608,110.2 611.4,109.8 614.9,109.4 618.4,109.1 621.9,108.8 625.3,108.6 628.8,108.4 632.3,108.3 635.8,108.2 639.3,108.1 642.8,108.1 646.3,108.1 649.8,108.2 653.3,108.3 656.8,108.4 660.3,108.5 663.8,108.7 667.3,108.9 670.8,109.1 674.3,109.4 677.8,109.6 681.3,109.9 684.8,110.2 688.3,110.5 691.8,110.8 695.3,111.1 698.8,111.4 702.3,111.7 705.8,112 709.3,112.3 712.8,112.6 716.3,112.9 719.8,113.1 723.3,113.4 726.8,113.6 730.3,113.8 733.8,114 737.3,114.1 740.8,114.3 744.3,114.4 747.8,114.5 751.3,114.5 754.8,114.6 758.4,114.7 761.9,114.7 765.4,114.7 768.9,114.7 772.4,114.7 775.9,114.7 779.4,114.7 782.9,114.7 786.4,114.7 789.9,114.7 793.4,114.7 796.9,114.7 800.4,114.6 803.9,114.6 807.4,114.6 811,114.6 814.5,114.6 818,114.5 821.5,114.5 825,114.5 828.5,114.5 832,114.5 835.5,114.5 839,114.5 842.5,114.5 846,114.5 849.5,114.5 853,114.5 856.5,114.4 860.1,114.4 863.6,114.4 867.1,114.4 870.6,114.4 874.1,114.4 877.6,114.4 881.1,114.4 884.6,114.4 888.1,114.4 891.6,114.4 895.1,114.4 898.6,114.4 902.2,114.4 905.7,114.4 909.2,114.4 912.7,114.4 916.2,114.4 919.7,114.4 923.2,114.4 926.7,114.4 930.2,114.4 933.7,114.4 937.2,114.4 940.7,114.4 944.2,114.4 947.8,114.4 951.3,114.4 954.8,114.4 958.3,114.5 961.8,114.5 965.3,114.5 968.8,114.5 972.3,114.5 975.8,114.5 979.3,114.5 982.8,114.5 986.3,114.5 989.8,114.5 993.4,114.5 996.9,114.5 1000.4,114.5 1003.9,114.5 1007.4,114.5 1010.9,114.5 1014.4,114.5 1017.9,114.5 1021.4,114.5 1024.9,114.5 1028.4,114.5 1031.9,114.5 1035.4,114.5 1039,114.5 1042.5,114.5 1046,114.5 1049.5,114.5 1053,114.5 1056.5,114.5 1060,114.5 1063.5,114.5 1067,114.5 1070.5,114.5 1074,114.5 1077.5,114.5 1081,114.5 1084.6,114.5 1088.1,114.5 1091.6,114.5 1095.1,114.5 1098.6,114.5 1102.1,114.5 1105.6,114.5 1109.1,114.5 1112.6,114.5 1116.1,114.5 1119.6,114.5 1123.1,114.5 1126.6,114.5 1130.1,114.5 1133.7,114.5 1137.2,114.5 1140.7,114.5 1144.2,114.5 1147.7,114.5 1151.2,114.5 1154.7,114.5 1158.2,114.5 1161.7,114.5 1165.2,114.5 1168.7,114.5 1172.2,114.5 1175.7,114.5 1179.3,114.5 1182.8,114.5 1186.3,114.5 1189.8,114.5 1193.3,114.5 1196.8,114.5 1200.3,114.5 1203.8,114.5 1207.3,114.5 1210.8,114.5 1214.3,114.5 1217.8,114.5 1221.3,114.5 1224.9,114.5 1228.4,114.5 1231.9,114.5 1235.4,114.5 1238.9,114.5 1242.4,114.5 1245.9,114.5 1249.4,114.5 1252.9,114.5 1256.4,114.5 1259.9,114.5 1263.4,114.5 1266.9,114.5 1270.4,114.5 1274,114.5 1277.5,114.5 1281,114.5 1284.5,114.5 1288,114.5 1291.5,114.5 1295,114.5 1298.5,114.5 1302,114.5 1305.5,114.5 1309,114.5 1312.5,114.5 1316,114.5 1319.6,114.5 1323.1,114.5 1326.6,114.5 1330.1,114.5 1333.6,114.5 1337.1,114.5 1340.6,114.5 1344.1,114.5 1347.6,114.5 1351.1,114.5 1354.6,114.5 1358.1,114.5 1361.6,114.5 1365.2,114.5 1368.7,114.5 1372.2,114.5 1375.7,114.5 1379.2,114.5 1382.7,114.5 1386.2,114.5 1389.7,114.5 1393.2,114.5 1396.7,114.5 1400.2,114.5 1403.7,114.5 1407.2,114.5 1410.8,114.5 1414.3,114.5 1417.8,114.5 1421.3,114.5 1424.8,114.5 1428.3,114.5 1431.8,114.5 1435.3,114.5 1438.8,114.5 1442.3,114.5 1445.8,114.5 1449.3,114.5 1452.8,114.5 1456.4,114.5 1459.9,114.5 1463.4,114.4 1466.9,114.4 1470.4,114.4 1473.9,114.4 1477.4,114.4 1480.9,114.4 1484.4,114.4 1487.9,114.4 1491.4,114.4 1494.9,114.4 1498.4,114.4 1502,114.4 1505.5,114.4 1509,114.4 1512.5,114.4 1516,114.4 1519.5,114.4 1523,114.4 1526.5,114.4 1530,114.4 1533.5,114.4 1537,114.4 1540.5,114.4 1544.1,114.4 1547.6,114.4 1551.1,114.4 1554.6,114.4 1558.1,114.4 1561.6,114.4 1565.1,114.4 1568.6,114.4 1572.1,114.4 1575.6,114.4 1579.1,114.4 1582.6,114.4 1586.1,114.5 1589.7,114.5 1593.2,114.5 1596.7,114.5 1600.2,114.5 1603.7,114.5 1607.2,114.5 1610.7,114.6 1614.2,114.6 1617.7,114.6 1621.2,114.6 1624.7,114.6 1628.2,114.7 1631.7,114.7 1635.2,114.7 1638.8,114.7 1642.3,114.7 1645.8,114.7 1649.3,114.8 1652.8,114.8 1656.3,114.8 1659.8,114.8 1663.3,114.8 1666.8,114.7 1670.3,114.7 1673.8,114.7 1677.3,114.7 1680.8,114.6 1684.3,114.6 1687.8,114.5 1691.3,114.4 1694.8,114.4 1698.3,114.3 1701.9,114.2 1705.4,114 1708.9,113.9 1712.4,113.8 1715.9,113.6 1719.4,113.4 1722.9,113.3 1726.4,113.1 1729.9,112.8 1733.4,112.6 1736.9,112.3 1740.4,112.1 1743.9,111.8 1747.4,111.5 1750.9,111.1 1754.4,110.8 1757.9,110.4 1761.4,110 1764.8,109.6 1768.3,109.2 1771.8,108.8 1775.3,108.4 1778.8,108 1782.3,107.5 1785.8,107.1 1789.3,106.7 1792.8,106.3 1796.3,106 1799.8,105.6 1803.3,105.3 1806.8,105 1810.3,104.7 1813.8,104.5 1817.2,104.3 1820.7,104.2 1824.2,104.1 1827.7,104 1831.2,104 1834.7,104.1 1838.2,104.2 1841.7,104.4 1845.1,104.6 1848.6,104.9 1852.1,105.3 1855.5,105.7 1859,106.2 1862.4,106.7 1865.8,107.3 1869.2,108 1872.6,108.8 1876,109.6 1879.4,110.5 1882.8,111.5 1886.1,112.6 1889.4,113.7 1892.7,114.9 1896,116.2 1899.3,117.6 1902.5,119 1905.7,120.6 1908.9,122.2 1912,123.9 1915.1,125.6 1918.2,127.5 1921.2,129.3 1924.2,131.3 1927.1,133.3 1929.9,135.4 1932.7,137.6 1935.4,139.8 1938.1,142.1 1940.7,144.4 1943.1,146.9 1945.5,149.4 1947.8,152 1949.9,154.6 1951.9,157.3 1953.9,160.2 1955.7,163.1 1957.4,166 1958.9,169.1 1960.4,172.1 1961.8,175.3 1963.1,178.5 1964.4,181.7 1965.5,185 1966.6,188.4 1967.6,191.7 1968.6,195.1 1969.5,198.5 1970.4,201.9 1971.2,205.4 1972,208.8 1972.7,212.3 1973.4,215.8 1974.1,219.3 1974.8,222.7 1975.4,226.2 1976,229.7 1976.6,233.2 1977.2,236.6 1977.8,240.1 1978.3,243.6 1978.8,247 1979.3,250.5 1979.8,254 1980.3,257.4 1980.7,260.9 1981.1,264.4 1981.6,267.8 1982,271.3 1982.3,274.8 1982.7,278.3 1983.1,281.7 1983.4,285.2 1983.7,288.7 1984,292.2 1984.3,295.7 1984.6,299.1 1984.9,302.6 1985.2,306.1 1985.4,309.6 1985.7,313.1 1986,316.6 1986.2,320.1 1986.5,323.6 1986.8,327.1 1987,330.6 1987.3,334.1 1987.6,337.6 1988,341.1 1988.3,344.6 1988.7,348.1 1989,351.6 1989.4,355.1 1989.9,358.5 1990.3,362 1990.8,365.5 1991.3,369 1991.8,372.4 1992.4,375.9 1993,379.4 1993.5,382.8 1994.1,386.3 1994.8,389.7 1995.4,393.2 1996,396.6 1996.6,400.1 1997.2,403.6 1997.9,407 1998.5,410.5 1999.1,413.9 1999.6,417.4 2000.2,420.8 2000.7,424.3 2001.2,427.8 2001.7,431.2 2002.2,434.7 2002.6,438.2 2003,441.7 2003.4,445.1 2003.7,448.6 2004.1,452.1 2004.4,455.6 2004.6,459.1 2004.9,462.6 2005.1,466.1 2005.4,469.6 2005.6,473.1 2005.8,476.6 2006,480.1 2006.2,483.6 2006.4,487.1 2006.5,490.6 2006.7,494.1 2006.9,497.6 2007.1,501.1 2007.3,504.6 2007.4,508.2 2007.6,511.7 2007.8,515.2 2008,518.7 2008.2,522.2 2008.4,525.7 2008.6,529.2 2008.8,532.7 2009,536.2 2009.2,539.7 2009.5,543.2 2009.7,546.7 2009.9,550.2 2010.1,553.7 2010.3,557.2 2010.5,560.7 2010.8,564.2 2011,567.7 2011.2,571.2 2011.5,574.7 2011.7,578.2 2011.9,581.7 2012.2,585.2 2012.4,588.7 2012.6,592.2 2012.9,595.7 2013.1,599.2 2013.3,602.7 2013.6,606.2 2013.8,609.7 2014,613.2 2014.3,616.7 2014.5,620.2 2014.7,623.7 2015,627.2 2015.2,630.7 2015.4,634.2 2015.7,637.7 2015.9,641.2 2016.1,644.7 2016.4,648.2 2016.6,651.7 2016.8,655.2 2017,658.7 2017.3,662.2 2017.5,665.7 2017.7,669.2 2017.9,672.7 2018.1,676.2 2018.4,679.7 2018.6,683.2 2018.8,686.7 2019,690.2 2019.2,693.7 2019.4,697.2 2019.6,700.7 2019.8,704.2 2020,707.7 2020.2,711.2 2020.3,714.7 2020.5,718.2 2020.7,721.7 2020.9,725.2 2021,728.7 2021.2,732.2 2021.4,735.7 2021.5,739.2 2021.7,742.7 2021.8,746.2 2022,749.7 2022.1,753.2 2022.2,756.7 2022.4,760.3 2022.5,763.8 2022.6,767.3 2022.6,768.3"/>
<path d="M466.1,266.2L518,266.2"/>
<path d="M452.5,304.4 455.7,302.8 459,301.3 462.4,299.9 465.8,298.5 469.3,297.1 472.7,295.6 476.1,294.1 479.4,292.5 482.6,290.7 485.7,288.8 488.6,286.7 491.4,284.4 494.1,282 496.6,279.4 499,276.7 501.3,273.9 503.5,271 505.7,268.1 507.7,265 509.7,261.9 511.7,258.8 513.7,255.7 515.7,252.7 517.8,249.7 520,246.9 522.3,244.1 524.8,241.6 527.5,239.2 530.4,237.1 533.5,235.2 536.7,233.4 540.1,231.8 541.7,231.1"/>
<path d="M474.4,316.9L549.2,316.9"/>
<path d="M467.5,329.4L716.5,379.9"/>
<path d="M466.8,436.1L716.4,400.6"/>
<path d="M466.8,450.8L509.3,456.7"/>
<path d="M434.3,456 437.4,457.8 440.4,459.5 443.4,461.3 446.5,463 449.5,464.8 452.6,466.5 455.6,468.3 458.7,470 461.8,471.7 464.8,473.4 467.9,475 471,476.7 474.1,478.2 477.3,479.8 480.4,481.3 483.6,482.8 486.8,484.2 490,485.6 493.2,486.9 496.5,488.2 499.7,489.4 503,490.6 506.4,491.7 509.7,492.8 513.1,493.8 516.5,494.7 519.9,495.6 523.3,496.5 526.7,497.3 530.2,498 533.6,498.7 537.1,499.4 540.5,500 544,500.6 547.5,501.1 551,501.6 554.5,502.1 558,502.5 561.5,502.9 565,503.2 568.5,503.6 572,503.8 575.5,504 579,504.2 582.5,504.4 586,504.5 589.5,504.5 593,504.5 596.5,504.5 600,504.5 603.5,504.3 607,504.2 610.5,504 613.9,503.7 617.4,503.4 620.9,503.1 624.4,502.7 627.8,502.3 631.3,501.8 634.7,501.3 638.2,500.7 641.6,500.1 645.1,499.5 648.5,498.8 651.9,498.1 655.3,497.4 658.8,496.6 662.2,495.9 665.6,495.1 669,494.2 672.5,493.4 675.9,492.5 679.3,491.7 682.7,490.8 686.1,489.9 689.5,489 693,488.1 696.4,487.1 699.8,486.2 703.2,485.3 706.6,484.3 710,483.4 713.4,482.4 716.8,481.4 720.2,480.3 723.5,479.3 726.9,478.2 730.2,477.1 733.6,476 736.9,474.9 740.2,473.7 743.5,472.5 746.8,471.3 750,470 753.2,468.7 756.5,467.4 759.7,466 762.8,464.5 766,463.1 769.1,461.6 772.2,460 775.3,458.4 778.3,456.8 781.3,455 784.3,453.3 787.3,451.5 790.2,449.6 793.1,447.7 796,445.7 798.8,443.7 801.6,441.6 804.4,439.4 807.1,437.2 809.8,434.9 812.4,432.5 815,430.1 817.5,427.6 820,425.1 822.5,422.4 824.8,419.8 827.1,417.1 829.4,414.3 831.5,411.5 833.6,408.6 835.6,405.7 837.6,402.7 839.4,399.7 841.1,396.6 842.8,393.6 844.3,390.4 845.7,387.3 847.1,384.1 848.3,380.9 849.4,377.6 850.4,374.3 851.4,371.1 852.6,367.9 853.9,364.7 855.4,361.6 857.1,358.5 859,355.6 861,352.7 863.1,349.9 865.4,347.2 867.7,344.5 870,341.9 872.5,339.4 874.9,336.9 877.4,334.4 880,332 882.5,329.6 885,327.1 887.6,324.7 890.1,322.2 892.7,319.8 895.2,317.3 897.7,314.8 900.3,312.4 902.8,309.9 905.4,307.4 907.9,305 910.5,302.5 913,300.1 915.6,297.7 918.1,295.3 920.7,292.9 923.3,290.5 925.8,288.2 928.4,285.9 931,283.6 933.6,281.3 936.2,279 938.8,276.8 941.4,274.6 944,272.4 946.7,270.2 949.4,268 952.1,265.8 954.8,263.6 957.5,261.3 960.3,259.1 963.1,256.8 965.9,254.5 968.8,252.3 971.7,250.1 974.6,247.9 977.6,245.8 980.5,243.7 983.6,241.8 986.6,239.9 989.6,238.1 992.7,236.4 995.9,234.8 999,233.3 1002.2,231.9 1005.4,230.5 1008.6,229.3 1011.8,228.1 1015.1,227 1018.3,225.9 1021.6,225 1025,224.1 1028.3,223.2 1031.7,222.5 1035,221.7 1038.4,221.1 1041.8,220.5 1045.2,219.9 1048.7,219.4 1052.1,219 1055.6,218.6 1059,218.2 1062.5,217.9 1066,217.6 1069.5,217.3 1073,217.1 1076.5,216.9 1080,216.7 1083.5,216.6 1087.1,216.4 1090.6,216.3 1094.1,216.2 1097.7,216.2 1101.2,216.1 1104.7,216 1108.3,216 1111.8,215.9 1115.4,215.9 1118.9,215.8 1122.4,215.8 1126,215.8 1129.5,215.7 1133,215.7 1136.5,215.7 1140.1,215.6 1143.6,215.6 1147.1,215.6 1150.6,215.5 1154.2,215.5 1157.7,215.5 1161.2,215.5 1164.7,215.4 1168.3,215.4 1171.8,215.4 1175.3,215.4 1178.8,215.4 1182.3,215.4 1185.8,215.3 1189.4,215.3 1192.9,215.3 1196.4,215.3 1199.9,215.3 1203.4,215.3 1206.9,215.3 1210.4,215.3 1213.9,215.3 1217.4,215.3 1220.9,215.3 1224.5,215.3 1228,215.3 1231.5,215.3 1235,215.3 1238.5,215.3 1242,215.3 1245.5,215.3 1249,215.3 1252.5,215.3 1256,215.3 1259.5,215.3 1263,215.3 1266.5,215.3 1270,215.4 1273.5,215.4 1277,215.4 1280.5,215.4 1284,215.4 1287.5,215.4 1291,215.4 1294.5,215.4 1298,215.4 1301.5,215.4 1305.1,215.4 1308.6,215.5 1312.1,215.5 1315.6,215.5 1319.1,215.5 1322.6,215.5 1326.1,215.5 1329.6,215.5 1333.1,215.5 1336.6,215.5 1340.1,215.5 1343.6,215.6 1347.1,215.6 1350.6,215.6 1354.1,215.6 1357.6,215.6 1361.1,215.6 1364.6,215.6 1368.1,215.6 1371.6,215.6 1375.2,215.6 1378.7,215.6 1382.2,215.6 1385.7,215.6 1389.2,215.6 1392.7,215.6 1396.2,215.6 1399.7,215.6 1403.2,215.6 1406.7,215.6 1410.3,215.6 1413.8,215.6 1417.3,215.6 1420.8,215.6 1424.3,215.6 1427.8,215.6 1431.3,215.6 1434.9,215.6 1438.4,215.6 1441.9,215.6 1445.4,215.6 1448.9,215.6 1452.4,215.6 1455.9,215.6 1459.5,215.6 1463,215.6 1466.5,215.6 1470,215.6 1473.5,215.5 1477,215.5 1480.5,215.5 1484.1,215.5 1487.6,215.5 1491.1,215.5 1494.6,215.5 1498.1,215.5 1501.6,215.5 1505.2,215.5 1508.7,215.5 1512.2,215.5 1515.7,215.5 1519.2,215.5 1522.7,215.5 1526.2,215.5 1529.8,215.5 1533.3,215.5 1536.8,215.4 1540.3,215.4 1543.8,215.4 1547.3,215.4 1550.8,215.4 1554.3,215.4 1557.9,215.4 1561.4,215.4 1564.9,215.4 1568.4,215.4 1571.9,215.4 1575.4,215.4 1578.9,215.4 1582.4,215.4 1585.9,215.4 1589.4,215.4 1592.9,215.4 1596.4,215.4 1600,215.4 1603.5,215.4 1607,215.4 1610.5,215.4 1614,215.4 1617.5,215.4 1621,215.5 1624.5,215.5 1628,215.5 1631.5,215.5 1635,215.5 1638.5,215.5 1642,215.5 1645.5,215.5 1649,215.5 1652.5,215.5 1656,215.5 1659.5,215.5 1663,215.5 1666.5,215.5 1670,215.5 1673.6,215.5 1677.1,215.5 1680.6,215.5 1684.1,215.5 1687.6,215.5 1691.2,215.5 1694.7,215.5 1698.2,215.5 1701.8,215.5 1705.3,215.5 1708.8,215.6 1712.3,215.7 1715.8,215.8 1719.3,216 1722.8,216.2 1726.3,216.5 1729.8,216.8 1733.3,217.2 1736.7,217.6 1740.2,218.1 1743.6,218.7 1747,219.4 1750.4,220.1 1753.8,221 1757.2,221.9 1760.5,222.9 1763.9,223.9 1767.2,225.1 1770.5,226.3 1773.8,227.6 1777,228.9 1780.3,230.3 1783.5,231.8 1786.7,233.3 1789.9,234.9 1793,236.5 1796.1,238.1 1799.3,239.8 1802.3,241.5 1805.4,243.3 1808.5,245.1 1811.5,246.9 1814.5,248.7 1817.5,250.6 1820.4,252.4 1823.3,254.4 1826.1,256.4 1828.9,258.4 1831.7,260.6 1834.3,262.8 1836.9,265.1 1839.5,267.4 1841.9,269.9 1844.4,272.4 1846.7,275.1 1849,277.7 1851.3,280.4 1853.5,283.1 1855.7,285.9 1857.9,288.7 1860.1,291.4 1862.2,294.2 1864.4,297 1866.5,299.8 1868.6,302.7 1870.7,305.5 1872.7,308.4 1874.8,311.2 1876.8,314.1 1878.8,317 1880.8,319.9 1882.8,322.8 1884.7,325.7 1886.7,328.6 1888.6,331.6 1890.5,334.5 1892.4,337.5 1894.2,340.4 1896.1,343.4 1897.9,346.4 1899.8,349.4 1901.6,352.4 1903.3,355.4 1905.1,358.5 1906.9,361.5 1908.6,364.5 1910.3,367.6 1912,370.7 1913.7,373.7 1915.4,376.8 1917,379.9 1918.7,383 1920.3,386.1 1921.9,389.2 1923.5,392.4 1925,395.5 1926.6,398.6 1928.1,401.8 1929.7,405 1931.2,408.1 1932.7,411.3 1934.1,414.5 1935.6,417.7 1937.1,420.9 1938.5,424.1 1939.9,427.3 1941.3,430.5 1942.7,433.7 1944.1,436.9 1945.4,440.2 1946.8,443.4 1948.1,446.7 1949.4,449.9 1950.7,453.2 1952,456.4 1953.3,459.7 1954.5,463 1955.8,466.3 1957,469.6 1958.2,472.8 1959.4,476.1 1960.6,479.4 1961.8,482.8 1963,486.1 1964.1,489.4 1965.3,492.7 1966.4,496 1967.5,499.4 1968.6,502.7 1969.7,506 1970.7,509.4 1971.8,512.7 1972.8,516.1 1973.9,519.4 1974.9,522.8 1975.9,526.2 1976.9,529.5 1977.8,532.9 1978.8,536.3 1979.8,539.7 1980.7,543 1981.6,546.4 1982.6,549.8 1983.5,553.2 1984.4,556.6 1985.2,560 1986.1,563.4 1987,566.8 1987.8,570.2 1988.7,573.6 1989.5,577 1990.3,580.4 1991.1,583.8 1991.9,587.2 1992.7,590.7 1993.5,594.1 1994.2,597.5 1995,600.9 1995.7,604.4 1996.4,607.8 1997.2,611.2 1997.9,614.7 1998.6,618.1 1999.3,621.6 2000,625 2000.6,628.4 2001.3,631.9 2001.9,635.3 2002.6,638.8 2003.2,642.2 2003.9,645.7 2004.5,649.2 2005.1,652.6 2005.7,656.1 2006.3,659.5 2006.9,663 2007.4,666.5 2008,669.9 2008.6,673.4 2009.1,676.9 2009.7,680.3 2010.2,683.8 2010.7,687.3 2011.3,690.8 2011.8,694.2 2012.3,697.7 2012.8,701.2 2013.3,704.7 2013.7,708.1 2014.2,711.6 2014.7,715.1 2015.2,718.6 2015.6,722.1 2016.1,725.5 2016.5,729 2017,732.5 2017.4,736 2017.8,739.5 2018.2,743 2018.7,746.4 2019.1,749.9 2019.5,753.4 2019.9,756.9 2020.3,760.4 2020.6,763.9 2021,767.4 2021.1,768.4"/>
<path d="M634.8,170.8L726.4,183.2"/>
<path d="M635.5,210L726.4,198"/>
<path d="M658,266.2L720,266.2"/>
<path d="M624.8,456.5 628.1,455.1 631.4,453.7 634.8,452.3 638.1,450.9 641.4,449.5 644.7,448 648,446.6 651.3,445.1 654.6,443.7 657.9,442.2 661.1,440.7 664.4,439.2 667.7,437.8 671,436.3 674.3,434.8 677.6,433.3 680.8,431.8 684.1,430.3 687.4,428.8 690.7,427.3 693.9,425.8 697.2,424.3 700.5,422.8 703.8,421.4 707.1,419.9 710.3,418.4 713.6,416.9 716.9,415.4 720.2,414 723.5,412.5 726.8,411 728.1,410.5"/>
<path d="M618.1,481.5 621.3,483.2 624.5,485 627.7,486.8 630.9,488.6 634.1,490.4 637.3,492.2 640.4,494 643.6,495.8 646.7,497.7 649.9,499.6 653,501.4 656.2,503.3 659.3,505.2 662.4,507.1 665.5,509 668.7,510.9 671.8,512.8 674.9,514.7 678,516.6 681.1,518.5 684.2,520.4 687.4,522.3 690.5,524.2 693.6,526.2 696.7,528.1 699.8,530 702.9,531.9 706.1,533.8 709.2,535.7 712.3,537.6 715.4,539.4 718.6,541.3 721.7,543.2 724.9,545 728,546.9 731.2,548.7 734.4,550.5 735.8,551.3"/>
<path d="M778.5,380 780,376.8 781.5,373.6 783,370.5 784.6,367.4 786.2,364.2 787.8,361.1 789.5,358.1 791.2,355 793,351.9 794.7,348.9 796.5,345.8 798.2,342.8 800,339.7 801.8,336.7 803.6,333.7 805.4,330.6 807.2,327.6 809,324.6 810.7,321.5 812.5,318.5 814.2,315.4 816,312.4 817.7,309.3 819.3,306.2 821,303.1 822.6,300 824.1,296.9 825.7,293.7 827.1,290.6 828.6,287.4 830,284.2 831.3,280.9 832.6,277.7 833.8,274.4 834.9,271.1 836,267.7 837.1,264.4 838.1,261 839.1,257.6 840.1,254.3 841.1,250.9 842.1,247.5 843.2,244.2 844.3,240.9 845.4,237.6 846.6,234.3 847.9,231.1 849.3,228 850.8,224.9 852.4,221.8 854.1,218.9 856,216 858,213.1 860.2,210.4 862.5,207.8 865,205.2 867.7,202.7 870.4,200.4 873.2,198.1 876.1,195.9 879.1,193.9 882.1,191.9 885.1,190 888.1,188.2 891.1,186.5 894.1,184.9 897.2,183.4 900.3,181.9 903.4,180.4 906.5,179 909.6,177.6 912.8,176.3 916,174.9 919.3,173.6 922.6,172.3 925.9,171 929.2,169.8 932.5,168.6 935.9,167.4 939.3,166.3 942.7,165.3 946.1,164.3 949.6,163.4 953,162.5 956.5,161.8 960,161.1 963.4,160.5 966.9,160 970.4,159.5 973.9,159.2 977.4,159 980.9,158.8 984.3,158.8 987.8,158.8 991.3,158.9 994.8,159 998.3,159.1 1001.8,159.4 1005.3,159.6 1008.8,159.9 1012.3,160.2 1015.8,160.5 1019.3,160.8 1022.8,161.1 1026.2,161.4 1029.7,161.7 1033.2,162 1036.7,162.3 1040.2,162.5 1043.7,162.7 1047.2,162.9 1050.8,163.1 1054.3,163.3 1057.8,163.5 1061.3,163.6 1064.8,163.8 1068.3,163.9 1071.8,164.1 1075.3,164.2 1078.8,164.3 1082.3,164.4 1085.8,164.5 1089.3,164.5 1092.8,164.6 1096.4,164.7 1099.9,164.7 1103.4,164.8 1106.9,164.8 1110.4,164.8 1113.9,164.9 1117.4,164.9 1120.9,164.9 1124.5,164.9 1128,165 1131.5,165 1135,165 1138.5,165 1142,165 1145.5,165 1149,165 1152.6,165 1156.1,165 1159.6,165 1163.1,165.1 1166.6,165.1 1170.1,165.1 1173.6,165.1 1177.1,165.1 1180.7,165.1 1184.2,165.1 1187.7,165.1 1191.2,165.1 1194.7,165.1 1198.2,165.1 1201.7,165.1 1205.2,165.1 1208.8,165.1 1212.3,165.1 1215.8,165.1 1219.3,165.1 1222.8,165.1 1226.3,165.1 1229.8,165.1 1233.3,165.1 1236.9,165.1 1240.4,165.1 1243.9,165.1 1247.4,165.1 1250.9,165.1 1254.4,165.1 1257.9,165.1 1261.4,165.1 1264.9,165.1 1268.5,165.1 1272,165.1 1275.5,165.1 1279,165.1 1282.5,165.1 1286,165.1 1289.5,165.1 1293,165.1 1296.6,165.1 1300.1,165.1 1303.6,165.1 1307.1,165.1 1310.6,165 1314.1,165 1317.6,165 1321.1,165 1324.6,165 1328.2,165 1331.7,165 1335.2,165 1338.7,165 1342.2,165 1345.7,165 1349.2,165 1352.7,165 1356.2,165 1359.8,165 1363.3,165 1366.8,165 1370.3,165 1373.8,165 1377.3,164.9 1380.8,164.9 1384.3,164.9 1387.9,164.9 1391.4,164.9 1394.9,164.9 1398.4,164.9 1401.9,164.9 1405.4,164.9 1408.9,164.9 1412.4,164.9 1415.9,164.9 1419.5,164.9 1423,164.9 1426.5,164.9 1430,164.9 1433.5,164.9 1437,164.9 1440.5,164.9 1444,164.9 1447.6,164.9 1451.1,164.9 1454.6,164.9 1458.1,164.9 1461.6,164.9 1465.1,164.9 1468.6,164.9 1472.1,164.9 1475.6,164.9 1479.2,164.9 1482.7,164.9 1486.2,164.9 1489.7,164.9 1493.2,164.9 1496.7,164.9 1500.2,164.9 1503.7,164.9 1507.3,164.9 1510.8,164.9 1514.3,164.9 1517.8,164.9 1521.3,164.9 1524.8,164.9 1528.3,164.9 1531.8,164.9 1535.4,164.9 1538.9,165 1542.4,165 1545.9,165 1549.4,165 1552.9,165 1556.4,165 1560,165 1563.5,165 1567,165 1570.5,165.1 1574,165.1 1577.5,165.1 1581,165.1 1584.5,165.1 1588.1,165.1 1591.6,165.1 1595.1,165.2 1598.6,165.2 1602.1,165.2 1605.6,165.2 1609.1,165.2 1612.7,165.3 1616.2,165.3 1619.7,165.3 1623.2,165.3 1626.7,165.3 1630.2,165.3 1633.7,165.3 1637.3,165.4 1640.8,165.4 1644.3,165.4 1647.8,165.3 1651.3,165.3 1654.8,165.3 1658.3,165.3 1661.8,165.3 1665.3,165.2 1668.9,165.2 1672.4,165.1 1675.9,165.1 1679.4,165 1682.9,164.9 1686.4,164.9 1689.9,164.8 1693.4,164.7 1696.9,164.6 1700.4,164.4 1703.9,164.3 1707.4,164.1 1710.9,164 1714.4,163.8 1717.9,163.6 1721.4,163.4 1724.9,163.2 1728.4,163 1731.9,162.7 1735.4,162.5 1738.9,162.2 1742.4,161.9 1745.9,161.6 1749.4,161.3 1752.9,160.9 1756.3,160.6 1759.8,160.2 1763.3,159.8 1766.8,159.3 1770.3,158.9 1773.8,158.4 1777.3,157.9 1780.8,157.4 1784.3,156.8 1787.7,156.3 1791.2,155.7 1794.7,155.1 1798.2,154.6 1801.7,154 1805.2,153.5 1808.7,152.9 1812.2,152.4 1815.7,151.9 1819.1,151.5 1822.6,151.1 1826.1,150.7 1829.6,150.4 1833.1,150.2 1836.6,150 1840.1,149.9 1843.6,149.9 1847.1,149.9 1850.6,150 1854,150.2 1857.5,150.5 1861,150.8 1864.4,151.2 1867.9,151.7 1871.3,152.3 1874.7,153 1878.2,153.7 1881.6,154.5 1884.9,155.4 1888.3,156.4 1891.7,157.5 1895,158.6 1898.3,159.8 1901.6,161.2 1904.8,162.6 1908,164.1 1911.2,165.6 1914.4,167.3 1917.5,169 1920.6,170.9 1923.6,172.8 1926.5,174.7 1929.4,176.8 1932.2,178.9 1934.9,181.2 1937.6,183.4 1940.1,185.8 1942.6,188.2 1945,190.8 1947.3,193.3 1949.5,196 1951.6,198.7 1953.5,201.5 1955.4,204.4 1957.1,207.4 1958.7,210.4 1960.1,213.6 1961.5,216.8 1962.7,220 1964,223.3 1965.2,226.7 1966.3,230 1967.5,233.4 1968.5,236.7 1969.6,240.1 1970.5,243.5 1971.4,247 1972.3,250.4 1973,253.8 1973.7,257.3 1974.3,260.8 1974.8,264.2 1975.3,267.7 1975.7,271.2 1976.1,274.7 1976.4,278.2 1976.7,281.6 1977,285.1 1977.3,288.6 1977.5,292.1 1977.8,295.7 1978,299.2 1978.3,302.7 1978.5,306.2 1978.8,309.6 1979.1,313.1 1979.5,316.6 1979.8,320.1 1980.2,323.6 1980.6,327.1 1981.1,330.6 1981.5,334.1 1982,337.5 1982.5,341 1983,344.5 1983.5,347.9 1984,351.4 1984.6,354.9 1985.1,358.4 1985.7,361.8 1986.3,365.3 1986.8,368.8 1987.4,372.2 1988,375.7 1988.6,379.1 1989.2,382.6 1989.8,386.1 1990.4,389.5 1991,393 1991.6,396.5 1992.1,399.9 1992.7,403.4 1993.3,406.9 1993.9,410.3 1994.4,413.8 1995,417.3 1995.5,420.7 1996,424.2 1996.5,427.7 1997,431.1 1997.5,434.6 1997.9,438.1 1998.4,441.6 1998.8,445.1 1999.2,448.6 1999.6,452 2000,455.5 2000.4,459 2000.8,462.5 2001.1,466 2001.5,469.5 2001.8,473 2002.1,476.5 2002.4,480 2002.8,483.5 2003.1,487 2003.4,490.5 2003.6,494 2003.9,497.5 2004.2,501 2004.5,504.5 2004.7,508 2005,511.5 2005.3,515 2005.5,518.5 2005.8,522 2006,525.5 2006.3,529 2006.5,532.5 2006.8,536 2007,539.5 2007.3,543 2007.5,546.5 2007.8,550 2008,553.5 2008.3,557 2008.5,560.5 2008.8,564 2009.1,567.5 2009.3,571 2009.6,574.5 2009.9,578 2010.1,581.6 2010.4,585.1 2010.7,588.6 2010.9,592.1 2011.2,595.6 2011.5,599.1 2011.8,602.6 2012,606.1 2012.3,609.6 2012.6,613.1 2012.8,616.6 2013.1,620.1 2013.4,623.6 2013.7,627.1 2013.9,630.6 2014.2,634.1 2014.5,637.6 2014.7,641.1 2015,644.6 2015.3,648.1 2015.5,651.6 2015.8,655.1 2016,658.6 2016.3,662.1 2016.5,665.6 2016.8,669.1 2017,672.6 2017.3,676.1 2017.5,679.6 2017.8,683.1 2018,686.6 2018.3,690.1 2018.5,693.6 2018.7,697.1 2019,700.6 2019.2,704.1 2019.4,707.6 2019.6,711.1 2019.8,714.6 2020,718.1 2020.2,721.7 2020.4,725.2 2020.6,728.7 2020.8,732.2 2021,735.7 2021.2,739.2 2021.4,742.7 2021.6,746.2 2021.7,749.7 2021.9,753.2 2022,756.7 2022.2,760.2 2022.3,763.7 2022.5,767.3 2022.5,768.3"/>
<path d="M782.2,557.7 784.2,554.8 786.3,552 788.4,549.2 790.5,546.5 792.7,543.7 795,541 797.2,538.3 799.5,535.5 801.8,532.8 804.1,530.1 806.3,527.4 808.6,524.6 810.8,521.9 813,519.1 815.1,516.3 817.2,513.5 819.3,510.6 821.2,507.7 823.1,504.8 824.9,501.8 826.7,498.7 828.3,495.7 830,492.6 831.5,489.4 833,486.3 834.5,483.1 836,479.9 837.4,476.7 838.8,473.5 840.3,470.2 841.7,467 843.1,463.8 844.6,460.6 846,457.4 847.5,454.2 849.1,451.1 850.7,448 852.3,444.9 854,441.8 855.8,438.7 857.5,435.7 859.4,432.7 861.2,429.8 863.1,426.8 865.1,423.9 867,420.9 869,418 871,415.1 873,412.3 875.1,409.4 877.1,406.5 879.2,403.7 881.3,400.8 883.4,398 885.4,395.2 887.5,392.3 889.6,389.5 891.7,386.7 893.8,383.9 895.9,381.1 897.9,378.2 900,375.4 902.1,372.6 904.3,369.9 906.4,367.1 908.5,364.3 910.7,361.6 912.9,358.8 915.1,356.1 917.3,353.4 919.5,350.7 921.8,348 924.1,345.3 926.4,342.7 928.8,340 931.2,337.4 933.6,334.9 936,332.3 938.5,329.8 941,327.3 943.6,324.8 946.2,322.3 948.8,319.9 951.4,317.5 954,315.2 956.7,312.9 959.4,310.6 962.2,308.4 965,306.2 967.8,304.1 970.6,302 973.5,299.9 976.4,298 979.3,296 982.2,294.1 985.2,292.3 988.2,290.5 991.3,288.8 994.3,287.1 997.4,285.5 1000.5,283.9 1003.7,282.4 1006.9,281 1010.1,279.7 1013.3,278.4 1016.5,277.2 1019.8,276 1023.1,274.9 1026.5,273.9 1029.8,273 1033.2,272.2 1036.6,271.4 1040.1,270.7 1043.5,270 1047,269.4 1050.5,268.9 1054,268.4 1057.5,268 1061.1,267.7 1064.6,267.3 1068.1,267.1 1071.7,266.8 1075.2,266.6 1078.8,266.4 1082.3,266.3 1085.9,266.2 1089.4,266.1 1093,266 1096.5,266 1100.1,266 1103.6,266 1107.1,266 1110.6,266 1114.1,266 1117.7,266 1121.2,266.1 1124.7,266.1 1128.2,266.2 1131.7,266.3 1135.2,266.3 1138.7,266.4 1142.2,266.4 1145.7,266.5 1149.2,266.5 1152.7,266.6 1156.2,266.6 1159.7,266.7 1163.2,266.7 1166.7,266.7 1170.3,266.7 1173.8,266.7 1177.3,266.7 1180.8,266.7 1184.3,266.7 1187.8,266.7 1191.3,266.7 1194.8,266.7 1198.4,266.7 1201.9,266.7 1205.4,266.7 1208.9,266.6 1212.4,266.6 1215.9,266.6 1219.4,266.5 1223,266.5 1226.5,266.5 1230,266.4 1233.5,266.4 1237,266.4 1240.6,266.3 1244.1,266.3 1247.6,266.3 1251.1,266.2 1254.6,266.2 1258.2,266.2 1261.7,266.1 1265.2,266.1 1268.7,266.1 1272.2,266.1 1275.8,266 1279.3,266 1282.8,266 1286.3,266 1289.8,266 1293.4,266 1296.9,266 1300.4,266 1303.9,266 1307.5,266 1311,266 1314.5,266.1 1318,266.1 1321.5,266.1 1325.1,266.2 1328.6,266.2 1332.1,266.3 1335.6,266.3 1339.1,266.4 1342.6,266.5 1346.2,266.6 1349.7,266.6 1353.2,266.7 1356.7,266.9 1360.2,267 1363.7,267.1 1367.3,267.2 1370.8,267.4 1374.3,267.5 1377.8,267.7 1381.3,267.9 1384.8,268.1 1388.3,268.3 1391.8,268.5 1395.3,268.7 1398.9,268.9 1402.4,269.2 1405.9,269.4 1409.4,269.7 1412.9,269.9 1416.4,270.2 1419.9,270.5 1423.4,270.8 1426.9,271.2 1430.4,271.5 1433.9,271.8 1437.4,272.2 1440.9,272.5 1444.4,272.9 1447.9,273.3 1451.4,273.7 1454.9,274.1 1458.4,274.5 1461.8,274.9 1465.3,275.4 1468.8,275.8 1472.3,276.3 1475.8,276.8 1479.3,277.2 1482.8,277.7 1486.2,278.2 1489.7,278.7 1493.2,279.2 1496.7,279.8 1500.2,280.3 1503.6,280.8 1507.1,281.4 1510.6,282 1514.1,282.5 1517.5,283.1 1521,283.7 1524.5,284.3 1527.9,284.9 1531.4,285.5 1534.9,286.1 1538.3,286.8 1541.8,287.4 1545.2,288 1548.7,288.7 1552.2,289.3 1555.6,290 1559.1,290.6 1562.5,291.3 1566,291.9 1569.5,292.6 1572.9,293.2 1576.4,293.9 1579.8,294.5 1583.3,295.1 1586.7,295.8 1590.2,296.4 1593.7,297 1597.1,297.6 1600.6,298.2 1604.1,298.8 1607.5,299.4 1611,300 1614.5,300.6 1617.9,301.1 1621.4,301.7 1624.9,302.2 1628.4,302.7 1629.4,302.9"/>
<path d="M782.2,557.7 784.6,555.1 786.9,552.4 789.2,549.7 791.4,546.9 793.7,544.2 795.9,541.4 798,538.6 800.2,535.7 802.3,532.9 804.4,530.1 806.5,527.2 808.6,524.3 810.6,521.4 812.7,518.6 814.7,515.7 816.8,512.8 818.9,509.9 820.9,507.1 823,504.2 825.1,501.4 827.2,498.5 829.3,495.7 831.5,492.9 833.6,490.1 835.8,487.3 838,484.6 840.2,481.8 842.5,479 844.7,476.3 847,473.5 849.2,470.8 851.5,468 853.8,465.3 856.1,462.5 858.4,459.8 860.8,457.1 863.2,454.5 865.6,451.9 868.1,449.4 870.7,447 873.3,444.7 876.1,442.5 878.9,440.5 881.8,438.6 884.8,436.8 887.8,435.2 891,433.7 894.2,432.3 897.4,431 900.8,429.8 904.1,428.6 907.5,427.6 910.9,426.6 914.4,425.6 917.8,424.7 921.3,423.9 924.8,423 928.3,422.3 931.8,421.5 935.2,420.8 938.7,420.1 942.2,419.4 945.7,418.8 949.2,418.2 952.7,417.7 956.2,417.2 959.7,416.8 963.2,416.3 966.8,415.9 970.3,415.6 973.8,415.3 977.3,415 980.8,414.8 984.4,414.5 987.9,414.3 991.4,414.2 995,414 998.5,413.9 1002,413.8 1005.6,413.7 1009.1,413.7 1012.7,413.6 1016.2,413.6 1019.8,413.6 1023.3,413.6 1024.5,413.6"/>
<path d="M790.6,557.7L893.6,489"/>
<path d="M984.2,469L1018.5,469"/>
<path d="M970.9,481.8L1037.1,503"/>
<path d="M826.2,559.8L1036.4,527.9"/>
<path d="M826.2,566.6 829.7,566.4 833.2,566.2 836.7,566.1 840.2,565.9 843.7,565.7 847.2,565.5 850.7,565.3 854.2,565.1 857.7,565 861.2,564.8 864.7,564.6 868.2,564.4 871.7,564.2 875.2,564 878.7,563.9 882.3,563.7 885.8,563.5 889.3,563.3 892.8,563.1 896.3,562.9 899.8,562.8 903.3,562.6 906.8,562.4 910.3,562.2 913.8,562 917.3,561.9 920.8,561.7 924.3,561.5 927.8,561.3 931.3,561.1 934.8,561 938.3,560.8 941.8,560.6 945.3,560.4 948.8,560.3 952.4,560.1 955.9,559.9 959.4,559.7 962.9,559.6 966.4,559.4 969.9,559.2 973.4,559.1 976.9,558.9 980.4,558.7 983.9,558.6 987.4,558.4 990.9,558.2 994.4,558.1 997.9,557.9 1001.4,557.7 1005,557.6 1008.5,557.4 1012,557.2 1015.5,557.1 1019,556.9 1022.5,556.8 1026,556.6 1029.5,556.5 1033,556.3 1036.5,556.2 1040,556 1043.5,555.9 1047,555.7 1050.5,555.6 1054.1,555.4 1057.6,555.3 1061.1,555.1 1064.6,555 1068.1,554.8 1071.6,554.7 1075.1,554.6 1078.6,554.4 1082.1,554.3 1085.6,554.2 1089.1,554 1092.6,553.9 1096.2,553.8 1099.7,553.6 1103.2,553.5 1106.7,553.4 1110.2,553.3 1113.7,553.2 1117.2,553 1120.7,552.9 1124.2,552.8 1127.7,552.7 1131.2,552.6 1134.7,552.5 1138.3,552.4 1141.8,552.3 1145.3,552.1 1148.8,552 1152.3,551.9 1155.8,551.8 1159.3,551.8 1162.8,551.7 1166.3,551.6 1169.8,551.5 1173.3,551.4 1176.9,551.3 1180.4,551.2 1183.9,551.1 1187.4,551.1 1190.9,551 1194.4,550.9 1197.9,550.8 1201.4,550.8 1204.9,550.7 1208.4,550.6 1211.9,550.6 1215.4,550.5 1219,550.4 1222.5,550.4 1226,550.3 1229.5,550.3 1233,550.2 1236.5,550.2 1240,550.1 1243.5,550.1 1247,550.1 1250.5,550 1254,550 1257.6,550 1261.1,549.9 1264.6,549.9 1268.1,549.9 1271.6,549.9 1275.1,549.8 1278.6,549.8 1282.1,549.8 1285.6,549.8 1289.1,549.8 1292.6,549.8 1296.1,549.8 1299.7,549.8 1303.2,549.8 1306.7,549.8 1310.2,549.8 1313.7,549.8 1317.2,549.9 1320.7,549.9 1324.2,549.9 1327.7,549.9 1331.2,550 1334.7,550 1338.2,550 1341.8,550.1 1345.3,550.1 1348.8,550.2 1352.3,550.2 1355.8,550.3 1359.3,550.3 1362.8,550.4 1366.3,550.4 1369.8,550.5 1373.3,550.6 1376.8,550.7 1380.3,550.7 1383.8,550.8 1387.4,550.9 1390.9,551 1394.4,551.1 1397.9,551.2 1401.4,551.3 1404.9,551.4 1408.4,551.5 1411.9,551.6 1415.4,551.7 1418.9,551.8 1422.4,551.9 1425.9,552 1429.4,552.2 1432.9,552.3 1436.5,552.4 1440,552.6 1443.5,552.7 1447,552.9 1450.5,553 1454,553.2 1457.5,553.3 1461,553.5 1464.5,553.7 1468,553.8 1471.5,554 1475,554.2 1478.5,554.4 1482,554.5 1485.5,554.7 1489,554.9 1492.5,555.1 1496,555.3 1499.6,555.5 1503.1,555.7 1506.6,555.9 1510.1,556.1 1513.6,556.3 1517.1,556.6 1520.6,556.8 1524.1,557 1527.6,557.2 1531.1,557.4 1534.6,557.7 1538.1,557.9 1541.6,558.1 1545.1,558.4 1548.6,558.6 1552.1,558.9 1555.6,559.1 1559.1,559.3 1562.6,559.6 1566.1,559.8 1569.6,560.1 1573.1,560.4 1576.7,560.6 1580.2,560.9 1583.7,561.1 1587.2,561.4 1590.7,561.7 1594.2,561.9 1597.7,562.2 1601.2,562.5 1604.7,562.7 1608.2,563 1611.7,563.3 1615.2,563.6 1618.7,563.8 1622.2,564.1 1625.7,564.4 1629.2,564.7 1632.7,565 1636.2,565.3 1639.7,565.6 1643.2,566 1646.7,566.3 1650.2,566.7 1653.7,567.1 1657.2,567.5 1660.7,567.9 1664.2,568.4 1667.7,568.9 1671.1,569.4 1674.6,569.9 1678.1,570.5 1681.5,571.1 1684.9,571.8 1688.4,572.5 1691.8,573.3 1695.2,574.2 1698.5,575 1701.9,576 1705.2,576.9 1708.6,578 1711.9,579 1715.2,580.2 1718.5,581.3 1721.8,582.5 1725.1,583.7 1728.3,585 1731.6,586.3 1734.8,587.6 1738,589 1741.2,590.4 1744.4,591.8 1747.6,593.3 1750.8,594.7 1754,596.2 1757.1,597.8 1760.3,599.3 1763.4,600.8 1766.6,602.4 1769.7,604 1772.8,605.6 1775.9,607.2 1779,608.9 1782.1,610.5 1785.2,612.2 1788.3,613.9 1791.4,615.6 1794.4,617.3 1797.5,619 1800.6,620.7 1803.6,622.4 1806.7,624.2 1809.7,626 1812.7,627.7 1815.7,629.5 1818.8,631.3 1821.8,633.1 1824.8,634.9 1827.8,636.7 1830.8,638.6 1833.8,640.4 1836.8,642.3 1839.8,644.1 1842.8,646 1845.8,647.8 1848.7,649.7 1851.7,651.6 1854.7,653.4 1857.7,655.3 1860.6,657.2 1863.6,659.1 1866.6,661 1869.5,662.9 1872.5,664.8 1875.4,666.7 1878.4,668.5 1881.4,670.4 1884.3,672.3 1887.3,674.2 1890.2,676.1 1893.2,678 1896.1,679.9 1899.1,681.8 1902,683.7 1905,685.6 1907.9,687.5 1910.9,689.4 1913.8,691.3 1916.8,693.2 1919.7,695.2 1922.6,697.1 1925.5,699.1 1928.4,701 1931.3,703 1934.1,705 1937,707.1 1939.8,709.1 1942.6,711.2 1945.4,713.3 1948.2,715.4 1950.9,717.6 1953.7,719.7 1956.4,722 1959.1,724.2 1961.7,726.5 1964.3,728.8 1966.9,731.2 1969.5,733.6 1972.1,736 1974.6,738.5 1977.1,740.9 1979.6,743.4 1982,746 1984.5,748.5 1986.9,751.1 1989.2,753.7 1991.6,756.3 1993.9,759 1996.3,761.6 1998.6,764.3 2000.8,766.9 2003.1,769.6 2003.7,770.4"/>
<path d="M826.2,581.6 829.7,582.1 833.2,582.6 836.7,583.2 840.2,583.7 843.7,584.2 847.1,584.7 850.6,585.2 854.1,585.6 857.6,586.1 861.1,586.6 864.6,587.1 868.1,587.5 871.6,588 875.1,588.5 878.6,588.9 882.1,589.4 885.6,589.8 889.1,590.3 892.6,590.7 896.1,591.1 899.6,591.5 903.1,592 906.6,592.4 910.1,592.8 913.6,593.2 917.1,593.6 920.6,594 924.1,594.4 927.6,594.8 931.1,595.2 934.6,595.5 938.1,595.9 941.6,596.3 945.1,596.7 948.6,597 952.1,597.4 955.6,597.7 959.2,598.1 962.7,598.4 966.2,598.8 969.7,599.1 973.2,599.5 976.7,599.8 980.2,600.1 983.7,600.4 987.2,600.8 990.7,601.1 994.2,601.4 997.8,601.7 1001.3,602 1004.8,602.3 1008.3,602.6 1011.8,602.9 1015.3,603.2 1018.8,603.5 1022.3,603.7 1025.9,604 1029.4,604.3 1032.9,604.6 1036.4,604.8 1039.9,605.1 1043.4,605.4 1046.9,605.6 1050.5,605.9 1054,606.1 1057.5,606.4 1061,606.6 1064.5,606.9 1068,607.1 1071.6,607.3 1075.1,607.6 1078.6,607.8 1082.1,608 1085.6,608.3 1089.1,608.5 1092.7,608.7 1096.2,608.9 1099.7,609.1 1103.2,609.3 1106.7,609.5 1110.3,609.7 1113.8,609.9 1117.3,610.1 1120.8,610.3 1124.3,610.5 1127.9,610.7 1131.4,610.9 1134.9,611.1 1138.4,611.3 1141.9,611.4 1145.5,611.6 1149,611.8 1152.5,612 1156,612.1 1159.6,612.3 1163.1,612.5 1166.6,612.6 1170.1,612.8 1173.6,612.9 1177.2,613.1 1180.7,613.2 1184.2,613.4 1187.7,613.5 1191.3,613.7 1194.8,613.8 1198.3,614 1201.8,614.1 1205.4,614.3 1208.9,614.4 1212.4,614.5 1215.9,614.7 1219.5,614.8 1223,614.9 1226.5,615 1230,615.2 1233.6,615.3 1237.1,615.4 1240.6,615.5 1244.1,615.6 1247.7,615.8 1251.2,615.9 1254.7,616 1258.2,616.1 1261.8,616.2 1265.3,616.3 1268.8,616.4 1272.3,616.5 1275.9,616.6 1279.4,616.7 1282.9,616.8 1286.4,616.9 1290,617 1293.5,617.1 1297,617.2 1300.5,617.3 1304.1,617.4 1307.6,617.5 1311.1,617.6 1314.6,617.7 1318.2,617.8 1321.7,617.9 1325.2,618 1328.7,618.1 1332.3,618.1 1335.8,618.2 1339.3,618.3 1342.8,618.4 1346.4,618.5 1349.9,618.6 1353.4,618.6 1356.9,618.7 1360.5,618.8 1364,618.9 1367.5,619 1371,619 1374.6,619.1 1378.1,619.2 1381.6,619.3 1385.1,619.3 1388.7,619.4 1392.2,619.5 1395.7,619.6 1399.2,619.6 1402.7,619.7 1406.3,619.8 1409.8,619.9 1413.3,619.9 1416.8,620 1420.4,620.1 1423.9,620.1 1427.4,620.2 1428.5,620.2"/>
<path d="M799.5,583 802.4,585 805.4,586.9 808.4,588.8 811.3,590.7 814.3,592.6 817.4,594.4 820.4,596.2 823.4,598 826.5,599.8 829.6,601.5 832.7,603.2 835.8,604.8 838.9,606.4 842,608.1 845.2,609.6 848.3,611.2 851.5,612.7 854.7,614.2 857.9,615.7 861.1,617.1 864.3,618.5 867.6,619.9 870.8,621.3 874.1,622.7 877.3,624 880.6,625.3 883.9,626.6 887.2,627.8 890.5,629 893.8,630.2 897.1,631.4 900.4,632.6 903.8,633.7 907.1,634.8 910.5,635.9 913.8,637 917.2,638.1 920.5,639.1 923.9,640.1 927.3,641.1 930.7,642.1 934.1,643 937.5,644 940.9,644.9 944.3,645.8 947.7,646.7 951.1,647.5 954.5,648.4 958,649.2 961.4,650.1 964.8,650.9 968.3,651.7 971.7,652.4 975.1,653.2 978.6,654 982,654.7 985.5,655.5 988.9,656.2 992.4,656.9 995.9,657.6 999.3,658.3 1002.8,659 1006.2,659.7 1009.7,660.4 1013.2,661.1 1016.6,661.7 1020.1,662.4 1023.6,663 1027,663.7 1030.5,664.3 1034,664.9 1037.4,665.6 1040.9,666.2 1044.4,666.8 1047.8,667.3 1051.3,667.9 1054.8,668.4 1058.3,668.9 1061.7,669.4 1065.2,669.9 1068.7,670.3 1072.2,670.7 1075.7,671.1 1079.2,671.4 1082.7,671.7 1086.2,672 1089.7,672.2 1093.2,672.4 1096.8,672.5 1100.3,672.6 1103.8,672.7 1107.3,672.8 1110.9,672.8 1114.4,672.9 1117.9,672.9 1121.5,672.8 1125,672.8 1128.5,672.7 1132.1,672.7 1135.6,672.6 1139.1,672.5 1142.6,672.4 1146.2,672.4 1149.7,672.3 1153.2,672.2 1156.8,672.1 1160.3,672 1163.8,671.9 1167.3,671.8 1170.8,671.7 1174.4,671.6 1177.9,671.5 1181.4,671.5 1184.9,671.4 1188.5,671.4 1192,671.3 1195.5,671.3 1199,671.3 1202.6,671.3 1206.1,671.4 1209.6,671.4 1213.1,671.4 1216.7,671.5 1220.2,671.5 1223.7,671.6 1227.3,671.6 1230.8,671.7 1234.3,671.7 1237.8,671.8 1241.4,671.8 1244.9,671.9 1248.4,671.9 1251.9,671.9 1255.5,671.9 1259,671.9 1262.5,671.9 1266,671.9 1269.6,671.8 1273.1,671.8 1276.6,671.7 1280.1,671.6 1283.6,671.6 1287.2,671.5 1290.7,671.4 1294.2,671.3 1297.7,671.2 1301.2,671.1 1304.8,671 1308.3,670.9 1311.8,670.7 1315.3,670.6 1318.8,670.5 1322.4,670.3 1325.9,670.2 1329.4,670.1 1332.9,669.9 1336.4,669.8 1340,669.6 1343.5,669.5 1347,669.4 1350.5,669.2 1354.1,669.1 1357.6,668.9 1361.1,668.8 1364.6,668.7 1368.2,668.6 1371.7,668.4 1375.2,668.3 1378.8,668.2 1382.3,668.1 1385.8,668 1389.4,668 1392.9,667.9 1396.4,667.8 1400,667.8 1403.5,667.8 1407,667.8 1410.5,667.8 1414.1,667.8 1417.6,667.9 1421.1,668 1424.6,668.1 1428.1,668.2 1431.6,668.4 1435.1,668.6 1438.7,668.8 1442.1,669.1 1445.6,669.4 1449.1,669.7 1452.6,670.1 1456.1,670.5 1459.6,670.9 1463,671.4 1466.5,671.9 1469.9,672.5 1473.4,673.1 1476.8,673.8 1480.3,674.5 1483.7,675.3 1487.1,676.1 1490.5,676.9 1493.9,677.9 1497.3,678.8 1500.7,679.8 1504.1,680.9 1507.5,682 1510.8,683.1 1514.2,684.3 1517.5,685.5 1520.8,686.8 1524.1,688.1 1527.4,689.4 1530.7,690.7 1534,692.1 1537.3,693.5 1540.6,694.9 1543.8,696.4 1547,697.8 1550.3,699.3 1553.5,700.8 1556.7,702.3 1559.8,703.9 1563,705.5 1566.1,707.1 1569.2,708.7 1572.3,710.4 1575.4,712.1 1578.5,713.8 1581.5,715.6 1584.5,717.4 1587.4,719.2 1590.4,721.1 1593.3,723.1 1596.2,725.1 1599,727.1 1601.8,729.2 1604.6,731.3 1607.4,733.5 1610.1,735.7 1612.8,737.9 1615.4,740.2 1618.1,742.5 1620.7,744.9 1623.2,747.3 1625.8,749.7 1628.3,752.2 1630.8,754.7 1633.3,757.2 1635.7,759.8 1638.1,762.4 1640.5,765 1642.9,767.6 1645.3,770.3 1647.6,772.9 1649.9,775.6 1652.2,778.4 1654.5,781.1 1656.7,783.8 1658.9,786.6 1661.1,789.3 1663.3,792.1 1665.5,794.9 1667.7,797.7 1669.8,800.5 1671.9,803.3 1672.5,804.1"/>
<path d="M800,583 803.1,584.7 806.2,586.5 809.2,588.4 812.1,590.3 815,592.4 817.8,594.5 820.5,596.7 823.2,599 825.8,601.4 828.3,603.8 830.7,606.3 833.1,608.9 835.4,611.5 837.6,614.3 839.7,617.1 841.8,619.9 843.7,622.9 845.6,625.9 847.4,629 849.2,632 850.9,635.1 852.7,638.2 854.6,641.2 856.5,644.1 858.5,646.8 860.7,649.5 863,652 865.4,654.3 868,656.6 870.7,658.7 873.5,660.7 876.3,662.7 879.2,664.6 882.2,666.4 885.2,668.3 888.1,670.2 891.1,672 894.2,673.8 897.2,675.7 900.2,677.5 903.3,679.3 906.4,681 909.4,682.8 912.5,684.5 915.7,686.2 918.8,687.9 921.9,689.6 925.1,691.2 928.2,692.8 931.4,694.4 934.6,695.9 937.8,697.5 941,698.9 944.3,700.4 947.5,701.8 950.8,703.1 954.1,704.5 957.3,705.8 960.6,707 963.9,708.2 967.3,709.3 970.6,710.4 973.9,711.5 977.3,712.5 980.7,713.4 984,714.3 987.4,715.2 990.8,715.9 994.2,716.7 997.7,717.3 1001.1,718 1004.5,718.5 1008,719 1011.4,719.5 1014.9,720 1018.4,720.3 1021.9,720.7 1025.4,721 1028.9,721.3 1032.4,721.5 1035.9,721.7 1039.4,721.9 1042.9,722.1 1046.4,722.2 1049.9,722.3 1053.5,722.4 1057,722.5 1060.5,722.5 1064.1,722.5 1067.6,722.5 1071.2,722.5 1074.7,722.5 1078.3,722.5 1081.8,722.5 1085.3,722.5 1088.9,722.4 1092.4,722.4 1096,722.4 1099.5,722.3 1103,722.3 1106.6,722.3 1110.1,722.3 1113.6,722.3 1117.2,722.3 1120.7,722.3 1124.2,722.4 1127.7,722.4 1131.3,722.4 1134.8,722.4 1138.3,722.5 1141.8,722.5 1145.3,722.5 1148.8,722.6 1152.3,722.6 1155.9,722.7 1159.4,722.7 1162.9,722.8 1166.4,722.8 1169.9,722.8 1173.4,722.9 1176.9,722.9 1180.4,723 1183.9,723 1187.4,723 1190.9,723 1194.5,723.1 1198,723.1 1201.5,723.1 1205,723.1 1208.5,723.1 1212,723.1 1215.5,723 1219,723 1222.6,723 1226.1,722.9 1229.6,722.9 1233.1,722.8 1236.6,722.8 1240.2,722.7 1243.7,722.7 1247.2,722.6 1250.7,722.5 1254.3,722.5 1257.8,722.4 1261.3,722.4 1264.8,722.3 1268.4,722.3 1271.9,722.2 1275.4,722.2 1278.9,722.2 1282.5,722.2 1286,722.1 1289.5,722.1 1293.1,722.2 1296.6,722.2 1300.1,722.2 1303.6,722.3 1307.2,722.3 1310.7,722.4 1314.2,722.5 1317.7,722.6 1321.2,722.8 1324.8,722.9 1328.3,723.1 1331.8,723.3 1335.3,723.5 1338.8,723.8 1342.3,724.1 1345.9,724.3 1349.4,724.7 1352.9,725 1356.4,725.4 1359.9,725.8 1363.4,726.2 1366.8,726.6 1370.3,727.1 1373.8,727.6 1377.3,728.1 1380.7,728.7 1384.2,729.2 1387.7,729.9 1391.1,730.5 1394.6,731.2 1398,731.9 1401.4,732.6 1404.8,733.4 1408.2,734.2 1411.6,735 1415,735.9 1418.4,736.8 1421.8,737.8 1425.2,738.7 1428.5,739.7 1431.9,740.8 1435.2,741.9 1438.5,743 1441.8,744.2 1445.1,745.4 1448.4,746.6 1451.7,747.9 1455,749.2 1458.2,750.5 1461.5,751.9 1464.7,753.3 1468,754.7 1471.2,756.1 1474.4,757.6 1477.6,759.1 1480.8,760.7 1483.9,762.2 1487.1,763.8 1490.3,765.4 1493.4,767 1496.6,768.6 1499.7,770.3 1502.8,771.9 1506,773.6 1509.1,775.3 1512.2,777 1515.3,778.7 1518.4,780.4 1521.5,782.2 1524.5,783.9 1527.6,785.6 1530.7,787.4 1533.7,789.1 1536.8,790.9 1539.8,792.6 1542.9,794.4 1545.9,796.1 1548.9,797.9 1551.9,799.6 1554.9,801.4 1557.8,803.3 1560.7,805.2 1563.5,807.2 1566.3,809.3 1569,811.6 1571.6,813.9 1574.1,816.3 1576.6,818.8 1579.1,821.4 1581.5,824 1583.9,826.6 1586.4,829.2 1588.9,831.7 1591.4,834.2 1593.9,836.6 1596.6,839 1599.2,841.3 1601.9,843.6 1604.6,845.8 1607.4,847.9 1610.2,850 1613.1,852 1616,854 1619,855.8 1622,857.6 1625,859.4 1626,859.9"/>
<path d="M801,583 804.1,584.8 807.2,586.6 810.2,588.6 813.1,590.6 816,592.8 818.7,595 821.4,597.4 824,599.8 826.5,602.3 828.8,604.8 831.1,607.5 833.2,610.2 835.3,613.1 837.2,616 839,618.9 840.6,622 842.1,625.1 843.5,628.2 844.7,631.5 845.7,634.8 846.6,638.1 847.4,641.5 848.1,645 848.7,648.5 849.3,652 849.8,655.5 850.3,659 850.8,662.5 851.4,666 852,669.5 852.6,673 853.4,676.5 854.2,679.9 855.2,683.2 856.2,686.6 857.3,689.9 858.5,693.1 859.9,696.3 861.4,699.4 863,702.5 864.7,705.5 866.5,708.5 868.5,711.4 870.5,714.3 872.6,717.1 874.7,719.9 876.9,722.7 879.2,725.4 881.6,728.1 884,730.7 886.4,733.3 888.9,735.9 891.3,738.5 893.9,741 896.4,743.6 898.9,746.1 901.4,748.5 904,751 906.5,753.4 909.1,755.9 911.6,758.2 914.2,760.6 916.8,763 919.4,765.3 922.1,767.5 924.7,769.8 927.4,772 930.1,774.2 932.9,776.4 935.7,778.5 938.5,780.6 941.3,782.7 944.2,784.7 947.1,786.7 950,788.6 953,790.5 956,792.4 959,794.2 962.1,796 965.2,797.7 968.4,799.3 971.5,801 974.7,802.5 977.9,804 981.1,805.5 984.4,806.9 987.7,808.2 991,809.4 994.3,810.6 997.6,811.7 1001,812.8 1004.4,813.8 1007.8,814.7 1011.2,815.6 1014.6,816.3 1018,817.1 1021.5,817.7 1024.9,818.4 1028.4,818.9 1031.8,819.4 1035.3,819.9 1038.8,820.4 1042.3,820.7 1045.8,821.1 1049.3,821.4 1052.8,821.7 1056.3,822 1059.8,822.2 1063.4,822.4 1066.9,822.7 1070.4,822.8 1073.9,823 1077.4,823.1 1080.9,823.3 1084.5,823.4 1088,823.5 1091.5,823.6 1095,823.6 1098.6,823.7 1102.1,823.8 1105.6,823.8 1109.1,823.8 1112.6,823.8 1116.2,823.9 1119.7,823.9 1123.2,823.9 1126.7,823.8 1130.3,823.8 1133.8,823.8 1137.3,823.8 1140.8,823.8 1144.4,823.7 1147.9,823.7 1151.4,823.7 1154.9,823.6 1158.5,823.6 1162,823.6 1165.5,823.6 1169,823.5 1172.6,823.5 1176.1,823.5 1179.6,823.5 1183.1,823.5 1186.7,823.5 1190.2,823.5 1193.7,823.6 1197.2,823.6 1200.7,823.6 1204.3,823.6 1207.8,823.7 1211.3,823.7 1214.8,823.8 1218.3,823.8 1221.9,823.9 1225.4,823.9 1228.9,824 1232.4,824 1235.9,824.1 1239.5,824.1 1243,824.2 1246.5,824.2 1250,824.2 1253.5,824.3 1257,824.3 1260.6,824.3 1264.1,824.3 1267.6,824.3 1271.1,824.3 1274.6,824.3 1278.2,824.3 1281.7,824.3 1285.2,824.3 1288.7,824.2 1292.3,824.2 1295.8,824.1 1299.3,824 1302.8,823.9 1306.3,823.8 1309.9,823.7 1313.4,823.6 1316.9,823.4 1320.4,823.3 1324,823.1 1327.5,822.9 1331,822.7 1334.6,822.6 1338.1,822.4 1341.6,822.2 1345.1,822 1348.7,821.8 1352.2,821.6 1355.7,821.4 1359.2,821.2 1362.8,821 1366.3,820.9 1369.8,820.7 1373.3,820.6 1376.9,820.4 1380.4,820.3 1383.9,820.2 1387.4,820.1 1390.9,820 1394.5,820 1398,819.9 1401.5,819.9 1405,819.9 1408.5,820 1412,820 1415.5,820.1 1419,820.2 1422.5,820.4 1426,820.6 1429.5,820.8 1433,821 1436.5,821.3 1440,821.6 1443.5,822 1447,822.4 1450.4,822.8 1453.9,823.2 1457.4,823.7 1460.9,824.2 1464.4,824.8 1467.8,825.3 1471.3,826 1474.8,826.6 1478.2,827.2 1481.7,827.9 1485.2,828.6 1488.7,829.4 1492.1,830.2 1495.6,830.9 1499,831.8 1502.5,832.6 1506,833.5 1509.4,834.4 1512.8,835.4 1516.2,836.4 1519.6,837.4 1523,838.5 1526.3,839.6 1529.6,840.9 1532.9,842.1 1536.2,843.5 1539.4,844.9 1542.5,846.4 1545.6,847.9 1548.7,849.6 1551.7,851.3 1554.7,853.1 1557.6,855 1560.4,857 1563.2,859.1 1566,861.2 1568.7,863.4 1571.4,865.6 1574.1,867.9 1576.7,870.2 1579.4,872.6 1582,874.9 1584.6,877.3 1587.2,879.7 1589.9,882 1592.5,884.4 1595.2,886.7 1597.8,889 1600.5,891.3 1603.3,893.5 1606,895.7 1608.8,897.8 1611.7,899.9 1614.5,901.9 1617.4,903.9 1620.3,905.8 1623.3,907.8 1626.2,909.7 1629.2,911.6 1632.2,913.4 1635.2,915.3 1638.2,917.2 1641.2,919 1644.2,920.9 1645.1,921.5"/>
<path d="M802,583 805,584.8 807.9,586.8 810.7,588.9 813.5,591.1 816.2,593.4 818.8,595.8 821.3,598.2 823.7,600.8 826,603.5 828.2,606.2 830.4,609.1 832.4,612 834.3,614.9 836.2,618 837.9,621 839.5,624.2 841,627.4 842.4,630.6 843.7,633.9 844.9,637.2 846,640.5 846.9,643.9 847.7,647.2 848.4,650.6 849,654 849.5,657.5 849.9,660.9 850.2,664.4 850.4,667.9 850.6,671.4 850.7,674.9 850.7,678.4 850.6,681.9 850.5,685.4 850.3,688.9 850.1,692.5 849.8,696 849.5,699.6 849.2,703.1 848.9,706.7 848.5,710.2 848.1,713.7 847.8,717.3 847.4,720.8 847.1,724.3 846.8,727.8 846.6,731.4 846.4,734.9 846.3,738.4 846.3,741.9 846.5,745.4 846.7,748.9 847,752.4 847.5,755.9 848.1,759.4 848.8,762.8 849.6,766.2 850.5,769.5 851.5,772.8 852.7,776.1 854,779.3 855.4,782.4 856.9,785.5 858.5,788.5 860.3,791.5 862.1,794.4 864.1,797.3 866.1,800.1 868.2,802.9 870.4,805.6 872.6,808.3 875,810.9 877.4,813.5 879.8,816.1 882.4,818.6 884.9,821 887.6,823.5 890.2,825.9 892.9,828.3 895.6,830.6 898.4,832.9 901.2,835.2 904,837.4 906.8,839.6 909.7,841.8 912.6,843.9 915.5,845.9 918.4,847.9 921.4,849.8 924.4,851.7 927.5,853.4 930.5,855.2 933.6,856.8 936.7,858.4 939.9,859.8 943.1,861.2 946.3,862.5 949.5,863.8 952.8,864.9 956.1,865.9 959.4,866.8 962.8,867.7 966.2,868.4 969.6,869.1 973,869.7 976.4,870.3 979.9,870.8 983.4,871.2 986.8,871.6 990.3,871.9 993.8,872.2 997.4,872.4 1000.9,872.6 1004.4,872.8 1007.9,873 1011.5,873.1 1015,873.2 1018.6,873.3 1022.1,873.4 1025.6,873.5 1029.1,873.6 1032.7,873.7 1036.2,873.7 1039.7,873.8 1043.3,873.8 1046.8,873.9 1050.3,873.9 1053.8,873.9 1057.4,874 1060.9,874 1064.4,874 1067.9,874 1071.4,874 1074.9,874 1078.5,874 1082,874 1085.5,874 1089,874 1092.5,874 1096,873.9 1099.6,873.9 1103.1,873.9 1106.6,873.9 1110.1,873.8 1113.6,873.8 1117.1,873.8 1120.6,873.7 1124.1,873.7 1127.7,873.7 1131.2,873.7 1134.7,873.6 1138.2,873.6 1141.7,873.6 1145.2,873.6 1148.7,873.5 1152.2,873.5 1155.7,873.5 1159.3,873.5 1162.8,873.5 1166.3,873.5 1169.8,873.5 1173.3,873.5 1176.8,873.5 1180.3,873.4 1183.9,873.4 1187.4,873.4 1190.9,873.4 1194.4,873.4 1197.9,873.5 1201.4,873.5 1205,873.5 1208.5,873.5 1212,873.5 1215.5,873.5 1219,873.5 1222.6,873.5 1226.1,873.5 1229.6,873.5 1233.1,873.5 1236.6,873.5 1240.2,873.5 1243.7,873.5 1247.2,873.5 1250.7,873.6 1254.2,873.6 1257.8,873.6 1261.3,873.6 1264.8,873.6 1268.3,873.6 1271.9,873.6 1275.4,873.6 1278.9,873.6 1282.5,873.6 1286,873.6 1289.5,873.6 1293,873.7 1296.6,873.7 1300.1,873.7 1303.6,873.8 1307.1,873.9 1310.6,874 1314.1,874.2 1317.6,874.4 1321.1,874.6 1324.6,874.9 1328.1,875.2 1331.6,875.5 1335.1,875.9 1338.5,876.4 1342,876.9 1345.4,877.4 1348.9,878 1352.3,878.7 1355.7,879.4 1359.1,880.2 1362.5,881 1365.9,881.9 1369.3,882.8 1372.7,883.7 1376.1,884.7 1379.5,885.7 1382.8,886.7 1386.2,887.8 1389.6,888.9 1392.9,890 1396.3,891.1 1399.6,892.2 1403,893.3 1406.3,894.5 1409.7,895.6 1413,896.7 1416.3,897.9 1419.7,899 1423,900.2 1426.4,901.3 1429.7,902.4 1433,903.6 1436.4,904.7 1439.7,905.9 1443,907 1446.4,908.2 1449.7,909.3 1453,910.5 1456.4,911.6 1459.7,912.8 1463,913.9 1466.3,915.1 1469.7,916.2 1473,917.4 1476.3,918.5 1479.6,919.7 1482.9,920.9 1486.3,922 1489.6,923.2 1492.9,924.4 1496.2,925.5 1499.5,926.7 1502.8,927.9 1506.1,929.1 1509.5,930.3 1512.8,931.5 1516.1,932.6 1519.4,933.8 1522.7,935 1526,936.2 1529.3,937.4 1532.6,938.6 1535.9,939.8 1539.2,941 1542.5,942.3 1545.8,943.5 1549.1,944.7 1552.3,945.9 1555.6,947.1 1558.9,948.4 1562.2,949.6 1565.5,950.8 1568.8,952.1 1572.1,953.3 1575.4,954.6 1578.6,955.8 1581.9,957.1 1585.2,958.3 1588.5,959.6 1591.7,960.9 1595,962.2 1598.3,963.4 1601.6,964.7 1604.8,966 1608.1,967.3 1611.4,968.6 1614.6,969.9 1617.9,971.2 1621.2,972.5 1624.4,973.8 1627.7,975.2 1631,976.5 1634.2,977.8 1637.5,979.2 1640.7,980.5 1644,981.8 1645,982.3"/>
<path d="M802,583 804.7,585.1 807.5,587.3 810.3,589.4 813,591.7 815.8,594 818.5,596.3 821.1,598.7 823.6,601.2 826.1,603.7 828.4,606.4 830.6,609.1 832.7,611.9 834.6,614.8 836.3,617.8 838,620.9 839.5,624 840.8,627.2 842.1,630.5 843.2,633.8 844.2,637.1 845.1,640.5 846,643.9 846.7,647.3 847.3,650.7 847.8,654.2 848.2,657.6 848.6,661.1 848.9,664.6 849.1,668.1 849.3,671.6 849.4,675.1 849.4,678.6 849.4,682.1 849.3,685.7 849.2,689.2 849.1,692.7 848.9,696.3 848.7,699.8 848.5,703.3 848.2,706.9 848,710.4 847.7,713.9 847.4,717.5 847.1,721 846.9,724.5 846.6,728 846.3,731.5 846.1,735 845.9,738.4 845.6,741.9 845.4,745.4 845.2,748.9 845,752.4 844.9,755.8 844.7,759.3 844.6,762.8 844.5,766.3 844.5,769.8 844.4,773.3 844.4,776.8 844.4,780.3 844.4,783.8 844.5,787.3 844.6,790.8 844.8,794.4 845,797.9 845.2,801.5 845.5,805 845.8,808.6 846.2,812.1 846.7,815.6 847.3,819.1 848,822.6 848.8,826 849.7,829.4 850.7,832.8 851.9,836.1 853.2,839.3 854.6,842.5 856.2,845.6 857.9,848.7 859.6,851.7 861.5,854.7 863.4,857.6 865.4,860.5 867.4,863.3 869.5,866.2 871.7,868.9 873.8,871.7 876,874.4 878.3,877.1 880.6,879.7 882.9,882.3 885.2,884.9 887.6,887.4 890.1,889.9 892.5,892.4 895,894.9 897.5,897.3 900.1,899.7 902.7,902 905.3,904.3 907.9,906.6 910.6,908.9 913.3,911.1 916,913.4 918.7,915.5 921.5,917.7 924.3,919.8 927.1,922 929.9,924 932.8,926.1 935.6,928.1 938.5,930.2 941.4,932.2 944.3,934.1 947.3,936.1 950.2,938 953.2,939.9 956.2,941.8 959.2,943.7 962.2,945.5 965.2,947.3 968.3,949.2 971.3,950.9 974.3,952.7 977.4,954.5 980.5,956.2 983.5,958 986.6,959.7 989.7,961.4 992.8,963 995.9,964.7 999,966.4 1002.1,968 1005.2,969.6 1008.3,971.2 1011.5,972.8 1014.6,974.4 1017.7,976 1020.9,977.6 1024,979.1 1027.2,980.6 1030.4,982.2 1033.5,983.7 1036.7,985.2 1039.9,986.7 1043,988.1 1046.2,989.6 1049.4,991.1 1052.6,992.5 1055.8,994 1059,995.4 1062.2,996.8 1065.4,998.2 1068.6,999.7 1071.8,1001.1 1075.1,1002.4 1078.3,1003.8 1081.5,1005.2 1084.7,1006.6 1088,1007.9 1091.2,1009.3 1094.4,1010.7 1097.7,1012 1100.9,1013.4 1104.1,1014.7 1107.4,1016 1110.6,1017.3 1113.9,1018.7 1117.1,1020 1120.4,1021.3 1123.6,1022.6 1126.9,1023.9 1130.1,1025.2 1133.4,1026.5 1136.7,1027.8 1139.9,1029.1 1143.2,1030.4 1146.5,1031.7 1149.7,1033 1153,1034.2 1156.3,1035.5 1159.5,1036.8 1162.8,1038.1 1166.1,1039.3 1169.4,1040.6 1172.6,1041.8 1175.9,1043.1 1179.2,1044.3 1182.5,1045.6 1185.8,1046.8 1189.1,1048 1192.3,1049.3 1195.6,1050.5 1198.9,1051.7 1202.2,1052.9 1205.5,1054.2 1208.8,1055.4 1212.1,1056.6 1215.4,1057.8 1218.7,1059 1222,1060.2 1225.3,1061.4 1228.6,1062.6 1231.9,1063.8 1235.2,1065 1238.5,1066.2 1241.8,1067.3 1245.1,1068.5 1248.5,1069.7 1251.8,1070.9 1255.1,1072 1258.4,1073.2 1261.7,1074.4 1265,1075.5 1268.3,1076.7 1271.7,1077.8 1275,1079 1278.3,1080.1 1281.6,1081.3 1284.9,1082.4 1288.3,1083.6 1291.6,1084.7 1294.9,1085.9 1298.2,1087 1301.6,1088.1 1304.9,1089.2 1308.2,1090.4 1311.6,1091.5 1314.9,1092.6 1318.2,1093.7 1321.5,1094.9 1324.9,1096 1328.2,1097.1 1331.5,1098.2 1334.9,1099.3 1338.2,1100.4 1341.6,1101.5 1344.9,1102.6 1348.2,1103.7 1351.6,1104.8 1354.9,1105.9 1358.2,1107 1361.6,1108.1 1364.9,1109.2 1368.3,1110.3 1371.6,1111.3 1374.9,1112.4 1378.3,1113.5 1381.6,1114.6 1385,1115.7 1388.3,1116.7 1391.7,1117.8 1395,1118.9 1398.4,1119.9 1401.7,1121 1405,1122.1 1408.4,1123.1 1411.7,1124.2 1415.1,1125.3 1418.4,1126.3 1421.8,1127.4 1425.1,1128.4 1428.5,1129.5 1431.8,1130.5 1435.2,1131.6 1438.5,1132.6 1441.9,1133.6 1445.2,1134.7 1448.6,1135.7 1452,1136.7 1455.3,1137.8 1458.7,1138.8 1462,1139.8 1465.4,1140.8 1468.7,1141.8 1472.1,1142.8 1475.5,1143.9 1478.8,1144.9 1482.2,1145.9 1485.6,1146.9 1488.9,1147.9 1492.3,1148.9 1495.7,1149.9 1499,1150.8 1502.4,1151.8 1505.8,1152.8 1509.1,1153.8 1512.5,1154.8 1515.9,1155.7 1519.3,1156.7 1522.6,1157.7 1526,1158.6 1529.4,1159.6 1532.8,1160.5 1536.1,1161.5 1539.5,1162.4 1542.9,1163.4 1546.3,1164.3 1549.7,1165.3 1553,1166.2 1556.4,1167.1 1559.8,1168 1563.2,1169 1566.6,1169.9 1570,1170.8 1573.4,1171.7 1576.8,1172.6 1580.2,1173.5 1583.6,1174.4 1587,1175.3 1590.4,1176.2 1593.8,1177.1 1597.2,1177.9 1600.6,1178.8 1604,1179.7 1607.4,1180.6 1610.8,1181.4 1614.2,1182.3 1617.6,1183.1 1621,1184 1624.4,1184.8 1627.8,1185.7 1631.2,1186.5 1632.3,1186.7"/>
<path d="M803,583 805.9,585.1 808.7,587.2 811.4,589.5 814.1,591.8 816.6,594.3 819.1,596.8 821.5,599.3 823.8,602 826,604.7 828.2,607.5 830.2,610.4 832.2,613.3 834.2,616.3 836,619.3 837.8,622.4 839.5,625.5 841.1,628.6 842.6,631.8 844.1,635 845.5,638.3 846.8,641.6 848.1,644.9 849.3,648.2 850.4,651.5 851.5,654.9 852.6,658.2 853.6,661.6 854.6,665 855.5,668.4 856.5,671.8 857.4,675.2 858.4,678.6 859.4,682 860.4,685.4 861.4,688.8 862.3,692.2 863.3,695.6 864.2,699.1 865.1,702.5 866,705.9 866.8,709.4 867.5,712.8 868.2,716.3 868.8,719.8 869.3,723.2 869.8,726.7 870.2,730.2 870.5,733.7 870.7,737.2 870.9,740.8 871.1,744.3 871.2,747.8 871.2,751.3 871.2,754.9 871.2,758.4 871.1,761.9 870.9,765.5 870.8,769 870.6,772.6 870.3,776.1 870.1,779.6 869.8,783.1 869.4,786.7 869.1,790.2 868.7,793.7 868.3,797.2 867.9,800.7 867.5,804.2 867.1,807.7 866.6,811.2 866.1,814.7 865.6,818.2 865.2,821.7 864.7,825.2 864.1,828.7 863.6,832.2 863.1,835.7 862.6,839.2 862,842.7 861.5,846.2 861,849.7 860.5,853.2 859.9,856.7 859.4,860.2 858.9,863.7 858.4,867.2 857.9,870.7 857.4,874.2 856.9,877.7 856.4,881.2 855.9,884.7 855.5,888.2 855.1,891.7 854.6,895.3 854.2,898.8 853.8,902.3 853.4,905.8 853.1,909.3 852.8,912.8 852.4,916.3 852.1,919.9 851.9,923.4 851.6,926.9 851.4,930.4 851.2,933.9 851,937.5 850.9,941 850.8,944.5 850.7,948 850.6,951.5 850.6,955 850.6,958.6 850.7,962.1 850.8,965.6 850.9,969.1 851.1,972.6 851.3,976.2 851.5,979.7 851.8,983.2 852.1,986.7 852.5,990.2 852.9,993.7 853.3,997.2 853.8,1000.8 854.4,1004.3 855,1007.8 855.6,1011.3 856.3,1014.8 857,1018.3 857.7,1021.7 858.5,1025.2 859.4,1028.7 860.2,1032.1 861.1,1035.6 862.1,1039 863,1042.4 864,1045.9 865.1,1049.2 866.1,1052.6 867.3,1056 868.4,1059.3 869.5,1062.6 870.7,1066 872,1069.2 873.2,1072.5 874.5,1075.7 875.9,1078.9 877.5,1082 879.2,1085 881,1087.9 883.1,1090.8 885.3,1093.5 887.6,1096.2 890,1098.8 892.5,1101.4 895,1104 897.5,1106.6 900,1109.2 902.4,1111.8 904.8,1114.4 905.5,1115.2"/>
<path d="M772.5,583 772.7,586.5 773,590 773.2,593.5 773.4,597 773.6,600.5 773.9,604 774.1,607.5 774.3,611 774.5,614.5 774.8,618 775,621.5 775.2,625 775.4,628.5 775.6,632 775.8,635.5 776,639 776.2,642.5 776.4,646 776.6,649.5 776.8,653 777,656.5 777.2,660.1 777.4,663.6 777.6,667.1 777.8,670.6 778,674.1 778.2,677.6 778.4,681.1 778.6,684.6 778.8,688.1 779,691.6 779.2,695.1 779.4,698.6 779.6,702.1 779.8,705.6 780,709.1 780.2,712.6 780.4,716.1 780.6,719.6 780.8,723.1 781,726.6 781.2,730.1 781.4,733.6 781.6,737.1 781.8,740.6 782,744.1 782.2,747.6 782.3,751.1 782.5,754.7 782.7,758.2 782.9,761.7 783.1,765.2 783.3,768.7 783.6,772.2 783.8,775.7 784,779.2 784.2,782.7 784.4,786.2 784.6,789.7 784.8,793.2 785,796.7 785.2,800.2 785.4,803.7 785.6,807.2 785.9,810.7 786.1,814.2 786.3,817.7 786.5,821.2 786.7,824.7 787,828.2 787.2,831.7 787.4,835.2 787.7,838.7 787.9,842.2 788.1,845.7 788.4,849.2 788.6,852.7 788.9,856.2 789.1,859.7 789.3,863.2 789.6,866.7 789.9,870.2 790.1,873.7 790.4,877.2 790.6,880.7 790.9,884.2 791.1,887.7 791.4,891.2 791.7,894.7 792,898.2 792.2,901.7 792.5,905.2 792.8,908.7 793.1,912.2 793.4,915.7 793.7,919.2 793.9,922.7 794.2,926.2 794.5,929.7 794.8,933.2 795.1,936.7 795.4,940.2 795.8,943.7 796.1,947.2 796.4,950.7 796.7,954.2 797,957.6 797.3,961.1 797.7,964.6 798,968.1 798.3,971.6 798.7,975.1 799,978.6 799.4,982.1 799.7,985.6 800.1,989.1 800.4,992.6 800.8,996.1 801.1,999.5 801.5,1003 801.9,1006.5 802.2,1010 802.6,1013.5 803,1017 803.4,1020.5 803.7,1024 804.1,1027.5 804.5,1030.9 804.9,1034.4 805.3,1037.9 805.7,1041.4 806.1,1044.9 806.5,1048.4 807,1051.9 807.4,1055.3 807.8,1058.8 808.2,1062.3 808.6,1065.8 809.1,1069.3 809.5,1072.8 810,1076.2 810.4,1079.7 810.9,1083.2 811.3,1086.7 811.8,1090.2 812.2,1093.6 812.7,1097.1 813.2,1100.6 813.6,1104.1 814.1,1107.5 814.6,1111 815.1,1114.5 815.5,1118 816,1121.5 816.5,1124.9 816.9,1128.4 817.4,1131.9 817.9,1135.4 818.3,1138.9 818.7,1142.3 819.2,1145.8 819.6,1149.3 820,1152.8 820.4,1156.3 820.8,1159.8 821.2,1163.3 821.6,1166.7 821.9,1170.2 822.3,1173.7 822.7,1177.2 823,1180.7 823.4,1184.2 823.7,1187.7 824.1,1191.2 824.4,1194.7 824.8,1198.2 825.2,1201.7 825.6,1205.1 826,1208.6 826.4,1212.1 826.8,1215.6 827.2,1219.1 827.7,1222.5 828.2,1226 828.7,1229.5 829.2,1233 829.7,1236.4 830.2,1239.9 830.8,1243.3 831.4,1246.8 832,1250.3 832.6,1253.7 833.2,1257.2 833.8,1260.6 834.4,1264.1 835.1,1267.5 835.7,1271 836.4,1274.4 837,1277.9 837.7,1281.3 838.3,1284.8 839,1288.2 839.7,1291.6 840.3,1295.1 841,1298.5 841.7,1302 842.3,1305.4 843,1308.9 843.6,1312.3 844.3,1315.8 845,1319.2 845.7,1322.7 846.3,1326.1 847,1329.6 847.7,1333 848.4,1336.5 849.1,1339.9 849.8,1343.3 850.5,1346.8 851.3,1350.2 852,1353.6 852.7,1357.1 853.5,1360.5 854.2,1363.9 855,1367.3 855.8,1370.8 856.5,1374.2 857.3,1377.6 858.1,1381 858.9,1384.4 859.7,1387.9 860.5,1391.3 861.3,1394.7 862.1,1398.1 862.9,1401.5 863.7,1404.9 864.5,1408.3 865.4,1411.7 866.2,1415.1 867,1418.5 867.8,1422 868.7,1425.4 869.5,1428.8 870.3,1432.2 871.2,1435.6 872,1439 872.9,1442.4 873.7,1445.8 874.5,1449.2 875.4,1452.6 876.2,1456 877.1,1459.4 877.9,1462.8 878.8,1466.2 879.6,1469.6 880.4,1473 881.3,1476.5 882.1,1479.9 882.9,1483.3 883.8,1486.7 884.6,1490.1 885.5,1493.5 886.3,1496.9 887.1,1500.3 888,1503.7 888.8,1507.2 889.7,1510.6 890.5,1514 891.4,1517.4 892.3,1520.8 893.1,1524.2 894,1527.6 894.9,1531 895.8,1534.4 896.7,1537.8 897.6,1541.1 898.5,1544.5 899.5,1547.9 900.4,1551.3 901.4,1554.7 902.3,1558 903.3,1561.4 904.3,1564.8 905.3,1568.1 906.4,1571.5 907.4,1574.8 908.4,1578.2 909.5,1581.5 910.6,1584.8 911.7,1588.2 912.8,1591.5 914,1594.8 915.1,1598.1 916.3,1601.4 917.5,1604.7 918.7,1608 919.9,1611.3 921.2,1614.6 922.5,1617.8 923.7,1621.1 925,1624.4 926.3,1627.6 927.7,1630.9 929,1634.1 930.3,1637.4 931.7,1640.6 933,1643.8 934.4,1647.1 935.8,1650.3 937.2,1653.5 938.6,1656.7 939.9,1659.9 941.3,1663.2 942.7,1666.4 944.2,1669.6 945.6,1672.8 947,1676 948.5,1679.1 949.9,1682.3 951.4,1685.5 952.9,1688.7 954.4,1691.8 955.9,1695 957.4,1698.1 959,1701.3 960.5,1704.4 962.1,1707.5 963.8,1710.6 965.4,1713.7 967.1,1716.8 968.8,1719.9 970.5,1723 972.3,1726.1 974.1,1729.1 975.9,1732.1 977.8,1735.1 979.7,1738.1 981.6,1741.1 983.6,1744 985.6,1746.9 987.7,1749.8 989.8,1752.6 992,1755.4 994.2,1758.1 996.4,1760.8 998.7,1763.5 1001.1,1766.1 1003.5,1768.7 1005.9,1771.2 1008.4,1773.7 1011,1776 1013.6,1778.4 1016.3,1780.7 1019,1782.9 1021.8,1785 1024.6,1787.1 1027.5,1789.1 1030.5,1791 1033.4,1792.8 1036.4,1794.6 1039.5,1796.3 1042.6,1797.8 1045.7,1799.3 1048.9,1800.7 1052.1,1802 1055.3,1803.2 1058.6,1804.3 1061.9,1805.3 1065.2,1806.2 1068.6,1807 1071.9,1807.7 1075.3,1808.4 1078.8,1808.9 1082.2,1809.3 1085.7,1809.7 1089.2,1810.1 1092.7,1810.3 1096.2,1810.5 1099.7,1810.7 1103.2,1810.8 1106.7,1810.9 1110.3,1811 1113.8,1811 1117.4,1811 1120.9,1811 1124.4,1811 1128,1811 1131.5,1811 1135,1811 1138.5,1811 1142.1,1811 1145.6,1811 1149.1,1811 1152.6,1811 1156.1,1811 1159.6,1811 1163.1,1811 1166.6,1811 1170.1,1811 1173.6,1810.9 1177.1,1810.9 1180.6,1810.9 1184.1,1810.9 1187.6,1810.8 1191.1,1810.8 1194.6,1810.8 1198.1,1810.7 1201.6,1810.7 1205.1,1810.6 1208.6,1810.6 1212.1,1810.5 1215.6,1810.5 1219.2,1810.4 1222.7,1810.4 1226.2,1810.3 1229.7,1810.3 1233.2,1810.2 1236.7,1810.2 1240.3,1810.1 1243.8,1810.1 1247.3,1810.1 1250.8,1810.1 1254.3,1810 1257.8,1810 1261.4,1810 1264.9,1810 1268.4,1810.1 1271.9,1810.1 1275.4,1810.1 1278.9,1810.2 1282.5,1810.3 1286,1810.3 1289.5,1810.4 1293,1810.5 1296.5,1810.6 1300,1810.8 1303.5,1810.9 1307,1811.1 1310.5,1811.3 1314,1811.5 1317.5,1811.7 1321,1812 1324.5,1812.2 1328,1812.5 1331.5,1812.8 1335,1813.1 1338.5,1813.5 1342,1813.8 1345.4,1814.2 1348.9,1814.5 1352.4,1814.9 1355.9,1815.2 1359.4,1815.6 1362.8,1816 1366.3,1816.4 1369.8,1816.8 1373.3,1817.1 1376.8,1817.5 1380.2,1817.9 1383.7,1818.3 1387.2,1818.6 1390.7,1819 1394.2,1819.3 1397.7,1819.6 1401.1,1819.9 1404.6,1820.2 1408.1,1820.5 1411.6,1820.8 1415.1,1821 1418.6,1821.2 1422.1,1821.4 1425.6,1821.6 1429.1,1821.7 1432.6,1821.8 1436.1,1821.9 1439.6,1822 1443.1,1822 1446.6,1822 1450.1,1822 1453.7,1821.9 1457.2,1821.8 1460.7,1821.6 1464.2,1821.4 1467.8,1821.2 1471.3,1820.9 1474.8,1820.6 1478.3,1820.3 1481.8,1819.9 1485.3,1819.4 1488.9,1819 1492.3,1818.5 1495.8,1817.9 1499.3,1817.3 1502.8,1816.6 1506.2,1815.9 1509.7,1815.2 1513.1,1814.4 1516.5,1813.6 1519.9,1812.7 1523.3,1811.8 1526.7,1810.8 1530,1809.7 1533.3,1808.7 1536.6,1807.5 1539.9,1806.3 1543.2,1805.1 1546.4,1803.8 1549.7,1802.5 1552.8,1801.1 1556,1799.6 1559.1,1798.1 1562.3,1796.6 1565.3,1795 1568.4,1793.3 1571.4,1791.6 1574.4,1789.8 1577.3,1787.9 1580.2,1786 1583.1,1784.1 1586,1782.1 1588.8,1780 1591.6,1777.9 1594.3,1775.7 1597,1773.5 1599.7,1771.2 1602.3,1768.9 1604.9,1766.5 1607.4,1764.1 1609.9,1761.7 1612.4,1759.2 1614.8,1756.6 1617.2,1754.1 1619.6,1751.4 1621.9,1748.8 1624.1,1746.1 1626.3,1743.3 1628.5,1740.5 1630.6,1737.7 1632.7,1734.9 1634.8,1732 1636.8,1729.1 1638.7,1726.1 1640.6,1723.2 1642.4,1720.2 1644.2,1717.1 1646,1714.1 1647.7,1711 1649.4,1707.9 1651,1704.7 1652.5,1701.6 1654,1698.4 1655.5,1695.2 1656.9,1692 1658.2,1688.8 1659.5,1685.5 1660.8,1682.2 1662,1679 1663.1,1675.7 1664.2,1672.3 1665.3,1669 1666.4,1665.7 1667.4,1662.3 1668.3,1659 1669.3,1655.6 1670.2,1652.2 1671.1,1648.8 1671.9,1645.4 1672.7,1642 1673.5,1638.6 1674.3,1635.1 1675.1,1631.7 1675.8,1628.3 1676.5,1624.8 1677.2,1621.4 1677.9,1618 1678.6,1614.5 1679.2,1611.1 1679.8,1607.6 1680.4,1604.1 1681,1600.7 1681.5,1597.2 1682.1,1593.7 1682.6,1590.3 1683,1586.8 1683.5,1583.3 1683.6,1582.3"/>
<path d="M945.1,456.5 947.9,454.3 950.6,452.2 953.4,450 956.1,447.8 958.9,445.6 961.6,443.4 964.4,441.2 967.1,439 969.9,436.8 972.7,434.6 975.4,432.4 978.2,430.2 981,428 983.8,425.8 986.6,423.7 989.4,421.5 992.2,419.4 995,417.3 997.8,415.2 1000.7,413.2 1003.6,411.1 1006.5,409.1 1009.4,407.1 1012.3,405.2 1015.2,403.2 1018.2,401.3 1021.2,399.5 1024.2,397.6 1027.2,395.8 1030.2,394.1 1033.3,392.3 1036.4,390.7 1039.5,389 1042.6,387.4 1045.7,385.7 1048.9,384.2 1052,382.6 1055.2,381.1 1058.4,379.6 1061.6,378.2 1064.8,376.7 1068.1,375.3 1071.3,374 1074.6,372.6 1077.8,371.3 1081.1,370 1084.4,368.7 1087.7,367.5 1091,366.2 1094.3,365 1097.6,363.9 1101,362.7 1104.3,361.6 1107.6,360.5 1111,359.4 1114.3,358.3 1117.7,357.2 1121.1,356.2 1124.4,355.2 1127.8,354.2 1131.2,353.2 1134.5,352.3 1137.9,351.3 1141.3,350.4 1144.7,349.5 1148.1,348.6 1151.5,347.8 1154.9,346.9 1158.4,346.1 1161.8,345.3 1165.2,344.4 1168.6,343.7 1172.1,342.9 1175.5,342.1 1178.9,341.4 1182.4,340.6 1185.8,339.9 1189.3,339.2 1192.7,338.5 1196.2,337.8 1199.6,337.2 1203.1,336.5 1206.6,335.8 1210,335.2 1213.5,334.6 1217,334 1220.4,333.3 1223.9,332.7 1227.4,332.1 1230.9,331.6 1234.3,331 1237.8,330.4 1241.3,329.8 1244.8,329.3 1248.3,328.7 1251.8,328.2 1255.3,327.7 1258.7,327.1 1262.2,326.6 1265.7,326.1 1269.2,325.6 1272.7,325 1276.2,324.5 1279.7,324 1283.2,323.5 1286.7,323 1290.2,322.5 1293.7,322 1297.2,321.5 1300.7,321.1 1304.2,320.6 1307.7,320.1 1311.1,319.7 1314.6,319.2 1318.1,318.7 1321.6,318.3 1325.1,317.8 1328.6,317.4 1332.1,317 1335.6,316.5 1339.1,316.1 1342.6,315.7 1346.1,315.3 1349.6,314.9 1353.1,314.5 1356.6,314.1 1360.2,313.7 1363.7,313.3 1367.2,313 1370.7,312.6 1374.2,312.2 1377.7,311.9 1381.2,311.6 1384.7,311.2 1388.2,310.9 1391.7,310.6 1395.2,310.3 1398.7,309.9 1402.2,309.6 1405.7,309.4 1409.2,309.1 1412.7,308.8 1416.2,308.5 1419.8,308.3 1423.3,308 1426.8,307.8 1430.3,307.6 1433.8,307.3 1437.3,307.1 1440.8,306.9 1444.3,306.7 1447.8,306.5 1451.4,306.3 1454.9,306.2 1458.4,306 1461.9,305.9 1465.4,305.7 1468.9,305.6 1472.4,305.5 1475.9,305.4 1479.5,305.3 1483,305.2 1486.5,305.1 1490,305 1493.5,305 1497,304.9 1500.5,304.9 1504.1,304.9 1507.6,304.8 1511.1,304.8 1514.6,304.8 1518.1,304.9 1521.6,304.9 1525.2,304.9 1528.7,305 1532.2,305 1535.7,305.1 1539.2,305.2 1542.8,305.3 1546.3,305.4 1549.8,305.5 1553.3,305.7 1556.8,305.8 1560.4,306 1563.9,306.1 1567.4,306.3 1570.9,306.5 1574.4,306.7 1577.9,307 1581.5,307.2 1585,307.5 1588.5,307.7 1592,308 1595.6,308.3 1599.1,308.6 1602.6,308.9 1606.1,309.2 1607.3,309.4"/>
<path d="M1141.4,405.8L1220.5,383.8"/>
<path d="M1148.5,418.3L1200.1,418.3"/>
<path d="M1141.4,430.9L1221.2,453"/>
<path d="M1131.4,456.5 1134.8,455.1 1138.2,453.7 1141.5,452.2 1144.8,450.6 1148,448.9 1151.1,447.1 1154.2,445.1 1157.1,443 1159.9,440.8 1162.6,438.5 1165.2,436 1167.6,433.4 1170,430.6 1172.3,427.8 1174.5,424.9 1176.7,422 1178.8,419.1 1180.9,416.1 1183.1,413.1 1185.3,410.2 1187.5,407.4 1189.8,404.6 1192.2,401.9 1194.7,399.3 1197.3,396.8 1199.9,394.5 1202.8,392.3 1205.7,390.4 1208.8,388.6 1212.1,387 1215.4,385.5 1218.8,384.2 1220.5,383.7"/>
<path d="M1141.4,456.5L1220.5,434.4"/>
<path d="M1154.5,469L1209.3,469"/>
<path d="M1141.2,481.5 1144.6,482.3 1148,483.1 1151.4,484 1154.8,484.8 1158.2,485.6 1161.7,486.5 1165.1,487.3 1168.5,488.1 1171.9,489 1175.4,489.8 1178.8,490.6 1182.2,491.3 1185.7,492.1 1189.1,492.8 1192.5,493.6 1196,494.2 1199.4,494.9 1202.9,495.5 1206.4,496.1 1209.8,496.6 1213.3,497.1 1216.8,497.6 1220.2,498 1223.7,498.4 1227.2,498.8 1230.7,499.1 1234.2,499.4 1237.7,499.6 1241.2,499.8 1244.7,500 1248.2,500.2 1251.7,500.3 1255.2,500.4 1258.7,500.5 1262.3,500.6 1265.8,500.7 1269.3,500.7 1272.8,500.8 1276.3,500.8 1279.8,500.8 1283.4,500.8 1286.9,500.7 1290.4,500.7 1293.9,500.7 1297.4,500.6 1300.9,500.5 1304.5,500.5 1308,500.4 1311.5,500.2 1315,500.1 1318.5,500 1322,499.8 1325.6,499.7 1329.1,499.5 1332.6,499.3 1336.1,499.1 1339.6,498.9 1343.1,498.6 1346.6,498.4 1350.1,498.1 1353.6,497.8 1357.1,497.5 1360.6,497.2 1364.1,496.9 1367.6,496.5 1371.1,496.1 1374.6,495.8 1378.1,495.4 1381.6,494.9 1385.1,494.5 1388.5,494.1 1392,493.6 1395.5,493.1 1399,492.6 1402.4,492.1 1405.9,491.6 1409.4,491 1412.8,490.4 1416.3,489.8 1419.7,489.2 1423.2,488.6 1426.6,488 1430.1,487.3 1433.5,486.6 1437,485.9 1440.4,485.2 1443.8,484.5 1447.3,483.8 1450.7,483.1 1454.1,482.3 1457.6,481.6 1461,480.8 1464.4,480 1467.8,479.2 1471.2,478.4 1474.7,477.6 1478.1,476.8 1481.5,476 1484.9,475.2 1488.3,474.4 1491.8,473.5 1495.2,472.7 1498.6,471.9 1502,471 1505.4,470.2 1508.8,469.4 1512.3,468.5 1515.7,467.7 1519.1,466.9 1522.5,466.1 1525.9,465.2 1529.4,464.4 1532.8,463.6 1536.2,462.8 1539.6,462 1543,461.2 1546.5,460.4 1549.9,459.6 1553.3,458.8 1556.8,458 1560.2,457.3 1563.7,456.5 1567.1,455.8 1570.5,455 1574,454.3 1577.4,453.6 1580.9,452.9 1584.3,452.2 1587.8,451.5 1591.2,450.9 1594.7,450.2 1598.1,449.5 1601.6,448.9 1605.1,448.3 1608.5,447.7 1612,447.1 1615.4,446.5 1618.9,445.9 1622.4,445.4 1625.8,444.8 1629.3,444.3 1632.8,443.8 1636.3,443.3 1639.7,442.8 1643.2,442.3 1646.7,441.9 1650.2,441.5 1653.7,441.1 1657.1,440.7 1660.6,440.3 1664.1,439.9 1667.6,439.6 1671.1,439.2 1674.6,438.9 1678.1,438.6 1681.6,438.4 1685.1,438.1 1688.6,437.9 1692.1,437.7 1695.6,437.5 1699.1,437.4 1702.6,437.2 1706.1,437.1 1709.6,437 1713.1,437 1716.6,437 1720.1,437 1723.6,437 1727.1,437.1 1730.6,437.2 1734.1,437.4 1737.6,437.6 1741.1,437.8 1744.6,438.1 1748.2,438.4 1751.7,438.7 1755.2,439.1 1758.7,439.5 1762.2,440 1765.7,440.5 1769.1,441 1772.6,441.6 1776.1,442.2 1779.6,442.8 1783,443.5 1786.5,444.3 1789.9,445 1793.4,445.8 1796.8,446.7 1800.2,447.6 1803.6,448.5 1807,449.5 1810.3,450.5 1813.7,451.5 1817,452.6 1820.3,453.7 1823.7,454.9 1826.9,456.1 1830.2,457.3 1833.5,458.6 1836.7,459.9 1840,461.2 1843.2,462.6 1846.4,464 1849.6,465.4 1852.8,466.8 1855.9,468.3 1859.1,469.9 1862.2,471.4 1865.4,473 1868.5,474.6 1871.6,476.2 1874.7,477.9 1877.7,479.6 1880.8,481.3 1883.9,483 1886.9,484.8 1889.9,486.6 1892.9,488.4 1895.9,490.2 1898.9,492 1901.9,493.9 1904.9,495.8 1907.9,497.7 1910.8,499.6 1913.8,501.5 1916.7,503.5 1919.6,505.5 1922.5,507.5 1925.4,509.5 1928.3,511.5 1931.2,513.5 1934.1,515.6 1937,517.6 1939.8,519.7 1942.6,521.8 1945.4,523.9 1948.2,526.1 1950.8,528.3 1953.4,530.6 1955.9,533 1958.3,535.5 1960.6,538.1 1962.8,540.7 1964.8,543.5 1966.7,546.3 1968.6,549.3 1970.3,552.3 1971.9,555.4 1973.4,558.5 1974.8,561.8 1976.1,565 1977.4,568.3 1978.7,571.6 1979.9,575 1981,578.3 1982.1,581.7 1983.2,585 1984.3,588.4 1985.3,591.8 1986.3,595.2 1987.3,598.5 1988.3,601.9 1989.2,605.3 1990.1,608.7 1991,612.1 1991.9,615.5 1992.7,618.9 1993.6,622.4 1994.4,625.8 1995.2,629.2 1996,632.6 1996.7,636.1 1997.5,639.5 1998.2,642.9 1998.9,646.4 1999.6,649.8 2000.3,653.2 2001,656.7 2001.7,660.1 2002.4,663.6 2003,667 2003.7,670.5 2004.3,673.9 2005,677.4 2005.6,680.8 2006.2,684.3 2006.8,687.7 2007.5,691.2 2008.1,694.7 2008.7,698.1 2009.3,701.6 2009.8,705 2010.4,708.5 2011,712 2011.6,715.4 2012.2,718.9 2012.7,722.4 2013.3,725.8 2013.9,729.3 2014.4,732.8 2015,736.2 2015.6,739.7 2016.1,743.2 2016.7,746.6 2017.3,750.1 2017.8,753.6 2018.4,757 2019,760.5 2019.6,764 2020.1,767.4 2020.3,768.5"/>
<path d="M1453.4,608.6 1450.7,606.1 1448.6,603 1447.3,599.5 1447,595.9 1447.8,592.8 1449.8,590.2 1452.7,588.1 1456.1,586.5 1459.6,585.4 1463.1,584.5 1466.7,584 1470.3,583.6 1473.8,583.5 1477.4,583.5 1481,583.6 1484.7,583.7 1488.3,583.8 1491.9,583.9 1495.6,584.1 1499.2,584.4 1502.8,584.8 1506.4,585.4 1509.9,586.2 1513.3,587.4 1516.7,588.9 1519.7,590.8 1522,593.1 1523.1,595.9 1523,597.4"/>
<path d="M1528.9,621.1L1598.1,621.1"/>
<path d="M2003.6,781.5 2002.7,778.8 2001.7,775.8 2000.8,772.8 2000.4,769.9 2000.9,767.1 2002.6,764.7 2005,762.6 2007.7,760.8 2010.5,759.5 2013.2,758.6 2015.9,758 2018.7,757.6 2021.5,757.3 2024.5,757.1 2027.7,757 2030.9,756.9 2034.2,756.9 2037.4,757.1 2040.5,757.6 2043.3,758.4 2045.7,759.6 2047.7,761.3 2049.2,763.5 2050.2,766.2 2050.6,768.4"/>
<path d="M2099.1,785.1 2097.4,785.1 2095.7,785 2094,785 2092.2,785 2090.5,785 2088.8,785 2087.1,785 2085.4,785.1 2083.7,785.1 2082,785.1 2080.3,785.2 2078.5,785.2 2076.8,785.3 2075.1,785.4 2073.4,785.5 2071.7,785.6 2070,785.6 2068.3,785.8 2066.6,785.9 2064.9,786 2063.2,786.1 2062.4,786.2"/>
<path d="M2049.5,801.2 2051.2,801.2 2052.9,801.3 2054.6,801.3 2056.3,801.4 2058.1,801.4 2059.8,801.5 2061.5,801.5 2063.2,801.6 2064.9,801.6 2066.6,801.7 2068.3,801.8 2070,801.8 2071.8,801.9 2073.5,802 2075.2,802 2076.9,802.1 2078.6,802.2 2080.3,802.3 2082,802.4 2083.7,802.5 2085.4,802.6 2086.1,802.6"/>
<path d="M2140,832.2L2061.6,801.4"/>
<path d="M2043.4,806.9L2091.1,827.5"/>
<path d="M2048.5,836.2L2112.6,811.7"/>
<path d="M2048.5,845L2090,845"/>
<path d="M1294.3,987.2 1296.7,984.7 1299.2,982.2 1301.6,979.7 1304.1,977.2 1306.6,974.7 1309,972.2 1311.5,969.7 1314,967.2 1316.5,964.7 1319.1,962.3 1321.6,959.8 1324.1,957.4 1326.7,954.9 1329.2,952.5 1331.8,950.1 1334.4,947.7 1337,945.3 1339.6,942.9 1342.2,940.5 1344.8,938.2 1347.5,935.8 1350.1,933.5 1352.8,931.1 1355.4,928.8 1358.1,926.5 1360.8,924.2 1363.5,921.9 1366.2,919.7 1368.9,917.4 1371.6,915.2 1374.4,912.9 1377.1,910.7 1379.9,908.5 1382.7,906.3 1385.5,904.2 1388.3,902 1391.1,899.9 1393.9,897.8 1396.7,895.7 1399.6,893.6 1402.4,891.5 1405.3,889.5 1408.2,887.4 1411.1,885.4 1414,883.4 1416.9,881.4 1419.8,879.5 1422.7,877.5 1425.7,875.6 1428.7,873.7 1431.6,871.8 1434.6,870 1437.6,868.1 1440.6,866.3 1443.7,864.5 1446.7,862.7 1449.7,861 1452.8,859.3 1455.9,857.6 1459,855.9 1462.1,854.2 1465.2,852.5 1468.3,850.9 1471.4,849.3 1474.6,847.7 1477.7,846.2 1480.9,844.6 1484,843.1 1487.2,841.6 1490.4,840.2 1493.6,838.7 1496.8,837.3 1500.1,835.9 1503.3,834.5 1506.5,833.1 1509.8,831.8 1513.1,830.5 1516.3,829.2 1519.6,827.9 1522.9,826.7 1526.2,825.5 1529.5,824.2 1532.8,823.1 1536.2,821.9 1539.5,820.8 1542.8,819.7 1546.2,818.6 1549.5,817.5 1552.9,816.4 1556.3,815.4 1559.6,814.4 1563,813.4 1566.4,812.4 1569.8,811.5 1573.2,810.6 1576.6,809.6 1580,808.8 1583.5,807.9 1586.9,807 1590.3,806.2 1593.7,805.4 1597.2,804.6 1600.6,803.8 1604.1,803 1607.5,802.3 1611,801.5 1614.4,800.8 1617.9,800.1 1621.3,799.4 1624.8,798.8 1628.3,798.1 1631.7,797.5 1635.2,796.9 1638.7,796.3 1642.1,795.7 1645.6,795.1 1649.1,794.5 1652.6,794 1656,793.5 1659.5,792.9 1663,792.4 1666.5,792 1670,791.5 1673.5,791 1676.9,790.6 1680.4,790.1 1683.9,789.7 1687.4,789.3 1690.9,788.9 1694.4,788.5 1697.9,788.2 1701.4,787.8 1704.9,787.5 1708.4,787.2 1711.9,786.8 1715.4,786.5 1719,786.3 1722.5,786 1726,785.7 1729.5,785.5 1733,785.2 1736.5,785 1740,784.8 1743.5,784.6 1747.1,784.4 1750.6,784.2 1754.1,784 1757.6,783.8 1761.1,783.7 1764.6,783.6 1768.2,783.4 1771.7,783.3 1775.2,783.2 1778.7,783.1 1782.3,783 1785.8,782.9 1789.3,782.9 1792.8,782.8 1796.4,782.8 1799.9,782.7 1803.4,782.7 1806.9,782.7 1810.5,782.7 1814,782.6 1817.5,782.7 1821.1,782.7 1824.6,782.7 1828.1,782.7 1831.6,782.8 1835.2,782.8 1838.7,782.9 1842.2,782.9 1845.8,783 1849.3,783.1 1852.8,783.2 1856.4,783.3 1859.9,783.4 1863.4,783.5 1866.9,783.6 1870.5,783.7 1874,783.8 1877.5,784 1881,784.1 1884.6,784.3 1888.1,784.4 1891.6,784.6 1895.2,784.8 1898.7,784.9 1902.2,785.1 1905.7,785.3 1909.2,785.5 1912.8,785.7 1916.3,785.9 1919.8,786.1 1923.3,786.3 1926.9,786.5 1930.4,786.7 1933.9,787 1937.4,787.2 1940.9,787.4 1944.4,787.7 1947.9,787.9 1951.5,788.2 1955,788.4 1958.5,788.7 1962,788.9 1965.5,789.2 1969,789.5 1972.5,789.7 1976,790 1979.5,790.3 1983,790.6 1986.5,790.8 1987.5,790.9"/>
<path d="M1742.5,865.3 1746,864.5 1749.5,863.6 1753,862.8 1756.5,862 1760,861.1 1763.5,860.3 1767,859.4 1770.4,858.6 1773.9,857.7 1777.4,856.9 1780.9,856 1784.4,855.2 1787.9,854.3 1791.4,853.4 1794.9,852.6 1798.3,851.7 1801.8,850.8 1805.3,850 1808.8,849.1 1812.3,848.2 1815.8,847.4 1819.3,846.5 1822.7,845.6 1826.2,844.7 1829.7,843.9 1833.2,843 1836.7,842.1 1840.2,841.2 1843.6,840.3 1847.1,839.5 1850.6,838.6 1854.1,837.7 1857.6,836.8 1861.1,835.9 1864.5,835 1868,834.2 1871.5,833.3 1875,832.4 1878.5,831.5 1882,830.6 1885.4,829.7 1888.9,828.9 1892.4,828 1895.9,827.1 1899.4,826.2 1902.8,825.3 1906.3,824.5 1909.8,823.6 1913.3,822.7 1916.8,821.8 1920.3,820.9 1923.7,820.1 1927.2,819.2 1930.7,818.3 1934.2,817.4 1937.7,816.6 1941.2,815.7 1944.7,814.8 1948.1,814 1951.6,813.1 1955.1,812.2 1958.6,811.4 1962.1,810.5 1965.6,809.7 1969.1,808.8 1972.6,807.9 1976.1,807.1 1979.5,806.2 1983,805.4 1986.5,804.6 1987.9,804.2"/>
<path d="M1728.6,928.4 1731.9,927.1 1735.3,925.9 1738.6,924.6 1741.9,923.3 1745.3,922.1 1748.6,920.9 1751.9,919.6 1755.3,918.4 1758.6,917.1 1761.9,915.9 1765.3,914.7 1768.6,913.5 1771.9,912.3 1775.3,911.1 1778.6,909.9 1781.9,908.7 1785.3,907.5 1788.6,906.3 1792,905.1 1795.3,903.9 1798.6,902.7 1802,901.5 1805.3,900.4 1808.7,899.2 1812,898 1815.4,896.9 1818.7,895.7 1822.1,894.6 1825.4,893.4 1828.8,892.3 1832.2,891.1 1835.5,890 1838.9,888.8 1842.3,887.7 1845.6,886.6 1849,885.4 1852.4,884.3 1855.7,883.2 1859.1,882 1862.5,880.9 1865.9,879.8 1869.3,878.7 1872.6,877.6 1876,876.5 1879.4,875.3 1882.8,874.2 1886.2,873.1 1889.6,872 1893,870.9 1896.4,869.7 1899.8,868.6 1903.1,867.4 1906.5,866.2 1909.9,865.1 1913.2,863.9 1916.6,862.6 1919.9,861.4 1923.2,860.1 1926.5,858.8 1929.8,857.5 1933.1,856.2 1936.4,854.8 1939.6,853.4 1942.8,852 1946.1,850.5 1949.2,849 1952.4,847.5 1955.6,845.9 1958.7,844.3 1961.8,842.7 1964.9,841 1967.9,839.2 1971,837.5 1973.9,835.6 1976.9,833.7 1979.9,831.8 1982.8,829.8 1985.6,827.8 1988.5,825.7 1991.3,823.5 1994.1,821.3 1996.8,819 1999.5,816.6 2000.6,815.7"/>
<path d="M1454.2,987.2 1451.1,984.8 1448.8,981.8 1447.6,978.3 1447.4,974.8 1448.3,971.6 1450.4,968.9 1453.3,966.8 1456.8,965.2 1460.6,964.1 1464.3,963.3 1467.9,962.8 1471.6,962.6 1475.3,962.6 1478.9,962.7 1482.5,962.8 1486.2,962.9 1489.9,963 1493.6,963 1497.3,963.1 1501,963.4 1504.7,963.8 1508.4,964.6 1512,965.6 1515.5,967 1518.7,968.9 1521.1,971.3 1522.5,974.1 1522.5,975.7"/>
<path d="M1334.1,999.7L1429.6,999.7"/>
<path d="M1247.3,1012.3 1244,1013.6 1240.7,1014.9 1237.4,1016.2 1234.1,1017.6 1230.8,1018.9 1227.5,1020.2 1224.2,1021.5 1220.9,1022.8 1217.6,1024.1 1214.3,1025.4 1211,1026.8 1207.7,1028.1 1204.5,1029.4 1201.2,1030.7 1197.9,1032 1194.6,1033.3 1191.3,1034.7 1188,1036 1184.7,1037.3 1181.4,1038.6 1178.1,1039.9 1174.8,1041.2 1171.5,1042.5 1168.2,1043.9 1164.9,1045.2 1161.6,1046.5 1158.3,1047.8 1155,1049.1 1151.7,1050.4 1148.4,1051.8 1145.1,1053.1 1141.8,1054.4 1138.5,1055.7 1135.2,1057 1131.9,1058.3 1128.7,1059.6 1125.4,1061 1122.1,1062.3 1118.8,1063.6 1115.5,1064.9 1112.2,1066.2 1108.9,1067.5 1105.6,1068.9 1102.3,1070.2 1099,1071.5 1095.7,1072.8 1092.4,1074.1 1089.1,1075.4 1085.8,1076.8 1082.5,1078.1 1079.2,1079.4 1075.9,1080.7 1072.6,1082 1069.3,1083.3 1066,1084.7 1062.7,1086 1059.5,1087.3 1056.2,1088.6 1052.9,1089.9 1049.6,1091.2 1046.3,1092.6 1043,1093.9 1039.7,1095.2 1036.4,1096.5 1033.1,1097.8 1029.8,1099.2 1026.5,1100.5 1023.2,1101.8 1019.9,1103.1 1016.6,1104.4 1013.3,1105.7 1010,1107.1 1006.7,1108.4 1003.4,1109.7 1000.1,1111 996.8,1112.3 993.6,1113.6 990.3,1115 987,1116.3 983.7,1117.6 980.4,1118.9 977.1,1120.2 976,1120.7"/>
<path d="M1490.6,987.2 1491.6,983.8 1492.6,980.4 1493.6,977 1494.6,973.7 1495.7,970.3 1496.7,966.9 1497.7,963.5 1498.7,960.1 1499.7,956.7 1500.7,953.3 1501.7,949.9 1502.7,946.6 1503.7,943.2 1504.7,939.8 1505.7,936.4 1506.7,933 1507.7,929.6 1508.7,926.2 1509.7,922.8 1510.7,919.4 1511.8,916.1 1512.8,912.7 1513.8,909.3 1514.8,905.9 1515.8,902.5 1516.8,899.1 1517.8,895.7 1518.8,892.3 1519.8,888.9 1520.8,885.6 1521.8,882.2 1522.8,878.8 1523.7,875.4 1524.7,872 1525.7,868.6 1526.7,865.2 1527.7,861.8 1528.7,858.4 1529.7,855 1530.7,851.7 1531.7,848.3 1532.7,844.9 1533.7,841.5 1534.7,838.1 1535.7,834.7 1536.7,831.3 1537.7,827.9 1538.7,824.5 1539.7,821.1 1540.7,817.7 1541.7,814.4 1542.7,811 1543.7,807.6 1544.7,804.2 1545.7,800.8 1546.6,797.4 1547.6,794 1548.6,790.6 1549.6,787.2 1550.6,783.8 1551.6,780.4 1552.6,777.1 1553.6,773.7 1554.6,770.3 1555.6,766.9 1556.6,763.5 1557.6,760.1 1558.6,756.7 1559.6,753.3 1560.6,749.9 1561.6,746.5 1562.6,743.1 1563.6,739.8 1564.6,736.4 1565.6,733 1566.6,729.6 1567.6,726.2 1568.5,722.8 1569.5,719.4 1570.5,716 1571.5,712.6 1572.5,709.2 1573.5,705.8 1574.5,702.5 1575.5,699.1 1576.5,695.7 1577.5,692.3 1578.5,688.9 1579.5,685.5 1580.5,682.1 1581.5,678.7 1582.5,675.3 1583.5,672 1584.5,668.6 1585.5,665.2 1586.5,661.8 1587.5,658.4 1588.6,655 1589.6,651.6 1590.6,648.2 1591.6,644.8 1592.6,641.5 1593.6,638.1 1594.6,634.7 1595.6,631.3 1596.6,627.9 1597.6,624.5 1598.6,621.1 1599.6,617.7 1600.6,614.4 1601.6,611 1602.6,607.6 1603.7,604.2 1604.7,600.8 1605.7,597.4 1606.7,594 1607.7,590.6 1608.7,587.3 1609.7,583.9 1610.7,580.5 1611.7,577.1 1612.7,573.7 1613.7,570.3 1614.8,566.9 1615.8,563.5 1616.8,560.2 1617.8,556.8 1618.8,553.4 1619.8,550 1620.8,546.6 1621.8,543.2 1622.8,539.8 1623.8,536.4 1624.8,533 1625.8,529.7 1626.8,526.3 1627.9,522.9 1628.9,519.5 1629.9,516.1 1630.9,512.7 1631.9,509.3 1632.9,505.9 1633.9,502.6 1634.9,499.2 1635.9,495.8 1636.9,492.4 1637.9,489 1638.9,485.6 1639.9,482.2 1640.9,478.8 1641.9,475.4 1642.9,472 1643.9,468.7 1644.9,465.3 1645.9,461.9 1646.9,458.5 1647.9,455.1 1648.9,451.7 1649.9,448.3 1650.9,444.9 1651.9,441.5 1652.8,438.1 1653.8,434.7 1654.8,431.3 1655.8,427.9 1656.8,424.6 1657.8,421.2 1658.8,417.8 1659.8,414.4 1660.7,411 1661.7,407.6 1662.7,404.2 1663.7,400.8 1664.7,397.4 1665.6,394 1666.6,390.6 1667.6,387.2 1668.6,383.8 1669.5,380.4 1670.5,377 1671.5,373.6 1672.5,370.2 1673.4,366.8 1674.4,363.4 1675.4,360 1676.3,356.6 1677.3,353.2 1678.3,349.8 1679.2,346.4 1680.2,343 1680.5,341.9"/>
<path d="M1508.8,987.2 1511.7,985.1 1514.5,983 1517.4,980.9 1520.3,978.8 1523.3,976.7 1526.2,974.6 1529.1,972.4 1532,970.2 1534.9,968 1537.7,965.7 1540.5,963.5 1543.3,961.1 1546.1,958.8 1548.8,956.4 1551.5,953.9 1554.1,951.5 1556.6,948.9 1559.1,946.3 1561.5,943.7 1563.8,941 1566,938.2 1568.1,935.4 1570.2,932.5 1572.1,929.6 1574,926.6 1575.7,923.5 1577.3,920.3 1578.7,917 1580.1,913.7 1581.3,910.3 1582.5,906.9 1583.5,903.4 1584.6,899.9 1585.6,896.3 1586.6,892.8 1587.7,889.3 1588.8,885.8 1589.9,882.4 1591.2,879.1 1592.6,875.8 1594.1,872.6 1595.8,869.5 1597.7,866.6 1599.7,863.8 1602,861.1 1604.4,858.5 1606.9,856.1 1609.6,853.7 1612.5,851.6 1615.4,849.5 1618.5,847.5 1621.6,845.7 1624.9,844 1626.3,843.3"/>
<path d="M1508.4,987.2 1511.1,984.8 1513.8,982.4 1516.5,980 1519.3,977.7 1522,975.4 1524.8,973.1 1527.6,970.8 1530.5,968.6 1533.3,966.4 1536.2,964.2 1539,962.1 1541.9,959.9 1544.8,957.8 1547.7,955.7 1550.7,953.7 1553.6,951.6 1556.6,949.6 1559.6,947.6 1562.6,945.7 1565.6,943.7 1568.6,941.8 1571.7,939.8 1574.7,937.9 1577.8,936.1 1580.8,934.2 1583.9,932.3 1587,930.5 1590.1,928.7 1593.2,926.9 1596.3,925.1 1599.5,923.3 1602.6,921.6 1605.7,919.8 1608.9,918.1 1612,916.3 1615.2,914.6 1618.4,912.9 1621.5,911.2 1624.7,909.5 1627.9,907.8 1631.1,906.1 1634.2,904.4 1637.4,902.7 1640.6,901 1643.8,899.4 1647,897.7 1648.2,897.1"/>
<path d="M1528.3,987.4L1639.8,955.5"/>
<path d="M1528,999.7L1629.6,999.7"/>
<path d="M1501.2,1012.1 1503.9,1014.3 1506.6,1016.6 1509.4,1018.8 1512.1,1021 1514.8,1023.3 1517.5,1025.5 1520.3,1027.8 1523,1030 1525.7,1032.2 1528.5,1034.5 1531.2,1036.7 1534,1038.9 1536.7,1041.1 1539.5,1043.3 1542.2,1045.5 1545,1047.7 1547.8,1049.9 1550.6,1052.1 1553.4,1054.2 1556.2,1056.3 1559.1,1058.4 1561.9,1060.5 1564.8,1062.6 1567.6,1064.7 1570.5,1066.7 1573.4,1068.8 1576.3,1070.8 1579.2,1072.7 1582.2,1074.7 1585.1,1076.6 1588.1,1078.5 1591.1,1080.4 1594.1,1082.2 1597.1,1084 1600.1,1085.8 1603.1,1087.6 1606.2,1089.3 1609.2,1091.1 1612.3,1092.8 1615.4,1094.5 1618.5,1096.1 1621.6,1097.8 1624.7,1099.4 1627.9,1101.1 1631,1102.7 1634.2,1104.3 1637.3,1105.8 1640.5,1107.4 1643.6,1109 1646.8,1110.5 1650,1112.1 1653.2,1113.6 1656.4,1115.1 1659.6,1116.6 1662.8,1118.1 1666,1119.6 1669.2,1121.1 1672.4,1122.6 1675.6,1124.1 1678.8,1125.6 1682,1127.1 1685.2,1128.6 1688.4,1130 1691.7,1131.5 1694.9,1133 1698.1,1134.4 1701.3,1135.9 1704.6,1137.3 1707.8,1138.7 1711,1140.1 1714.3,1141.5 1717.6,1142.8 1720.8,1144.2 1724.1,1145.5 1727.4,1146.8 1730.6,1148.1 1733.9,1149.3 1737.2,1150.6 1740.5,1151.8 1743.9,1152.9 1747.2,1154.1 1750.5,1155.2 1753.9,1156.3 1757.2,1157.3 1760.6,1158.4 1764,1159.3 1767.4,1160.3 1770.8,1161.2 1774.2,1162.1 1777.7,1162.9 1781.1,1163.7 1784.6,1164.4 1788,1165.1 1791.5,1165.7 1795,1166.3 1798.5,1166.9 1802,1167.3 1805.5,1167.8 1809,1168.1 1812.5,1168.4 1816,1168.7 1819.5,1168.9 1823,1169 1826.6,1169 1830.1,1169 1833.6,1168.9 1837.1,1168.7 1840.6,1168.5 1844.1,1168.2 1847.6,1167.9 1851.1,1167.5 1854.6,1167.1 1858.1,1166.5 1861.6,1166 1865.1,1165.4 1868.5,1164.7 1872,1164 1875.5,1163.3 1878.9,1162.5 1882.3,1161.7 1885.8,1160.8 1889.2,1159.9 1892.6,1159 1896,1157.9 1899.3,1156.9 1902.7,1155.8 1906,1154.6 1909.3,1153.4 1912.6,1152.1 1915.9,1150.7 1919.1,1149.3 1922.3,1147.8 1925.5,1146.3 1928.6,1144.6 1931.7,1142.9 1934.8,1141.1 1937.8,1139.3 1940.8,1137.3 1943.7,1135.3 1946.6,1133.2 1949.4,1131.1 1952.1,1128.9 1954.8,1126.6 1957.5,1124.2 1960,1121.8 1962.5,1119.3 1964.9,1116.7 1967.2,1114 1969.4,1111.3 1971.6,1108.6 1973.7,1105.7 1975.6,1102.8 1977.5,1099.9 1979.4,1096.9 1981.1,1093.9 1982.7,1090.8 1984.3,1087.6 1985.7,1084.4 1987.1,1081.2 1988.4,1077.9 1989.6,1074.6 1990.7,1071.3 1991.8,1067.9 1992.7,1064.5 1993.6,1061.1 1994.3,1057.7 1995,1054.2 1995.6,1050.7 1996.1,1047.2 1996.5,1043.7 1996.8,1040.2 1997,1036.7 1997.2,1033.2 1997.2,1029.6 1997.1,1026.1 1997,1022.6 1996.8,1019.1 1996.4,1015.6 1996,1012.1 1995.5,1008.6 1994.9,1005.1 1994.2,1001.6 1993.5,998.2 1992.7,994.7 1991.8,991.3 1990.9,987.9 1990,984.5 1989.1,981 1988.2,977.6 1987.2,974.2 1986.3,970.8 1985.4,967.4 1984.5,963.9 1983.6,960.5 1982.8,957.1 1982.1,953.7 1981.4,950.2 1980.8,946.8 1980.2,943.3 1979.7,939.8 1979.2,936.4 1978.8,932.9 1978.5,929.4 1978.2,925.9 1977.9,922.4 1977.8,918.9 1977.6,915.4 1977.6,911.9 1977.6,908.4 1977.6,904.8 1977.8,901.3 1977.9,897.8 1978.2,894.2 1978.5,890.7 1978.8,887.1 1979.2,883.6 1979.7,880.1 1980.2,876.5 1980.8,873 1981.5,869.5 1982.2,866 1982.9,862.6 1983.7,859.1 1984.6,855.7 1985.5,852.2 1986.5,848.8 1987.5,845.5 1988.6,842.1 1989.8,838.9 1991.1,835.6 1992.5,832.4 1993.9,829.3 1995.5,826.2 1997.2,823.1 1999,820.2 2000.9,817.3 2001.5,816.5"/>
<path d="M1095.7,1392.2 1096.4,1388.7 1097,1385.2 1097.6,1381.8 1098.3,1378.3 1098.9,1374.8 1099.6,1371.3 1100.2,1367.8 1100.9,1364.3 1101.5,1360.8 1102.2,1357.3 1102.8,1353.9 1103.5,1350.4 1104.2,1346.9 1104.9,1343.4 1105.6,1339.9 1106.3,1336.4 1107,1332.9 1107.7,1329.4 1108.5,1326 1109.3,1322.5 1110,1319 1110.8,1315.5 1111.6,1312.1 1112.5,1308.6 1113.3,1305.2 1114.2,1301.7 1115.1,1298.3 1116,1294.8 1116.9,1291.4 1117.9,1288 1118.9,1284.6 1119.9,1281.1 1120.9,1277.7 1122,1274.4 1123.1,1271 1124.2,1267.6 1125.3,1264.2 1126.5,1260.9 1127.7,1257.5 1128.9,1254.2 1130.1,1250.9 1131.4,1247.6 1132.7,1244.3 1134,1241 1135.3,1237.7 1136.7,1234.4 1138,1231.2 1139.4,1228 1140.8,1224.7 1142.3,1221.5 1143.7,1218.3 1145.1,1215.1 1146.6,1211.9 1148,1208.6 1149.5,1205.4 1150.9,1202.2 1152.3,1199 1153.8,1195.7 1155.2,1192.5 1156.6,1189.2 1158,1186 1159.4,1182.7 1160.8,1179.4 1162.2,1176.1 1163.6,1172.8 1165,1169.5 1166.3,1166.2 1167.7,1162.9 1169.1,1159.6 1170.4,1156.3 1171.8,1153 1173.2,1149.7 1174.5,1146.4 1175.9,1143.1 1177.3,1139.8 1178.7,1136.5 1180.1,1133.2 1181.5,1129.9 1183,1126.6 1184.4,1123.3 1185.8,1120.1 1187.3,1116.8 1188.8,1113.6 1190.3,1110.4 1191.8,1107.1 1193.4,1103.9 1194.9,1100.7 1196.5,1097.6 1198.1,1094.4 1199.8,1091.3 1201.5,1088.2 1203.1,1085.1 1204.9,1082 1206.6,1078.9 1208.4,1075.9 1210.2,1072.9 1212.1,1069.9 1214,1067 1215.9,1064 1217.9,1061.1 1219.9,1058.2 1221.9,1055.4 1224,1052.6 1226.1,1049.8 1228.3,1047.1 1230.5,1044.3 1232.8,1041.7 1235.1,1039 1237.4,1036.4 1239.8,1033.8 1242.3,1031.3 1244.8,1028.8 1247.4,1026.3 1250,1023.9 1252.7,1021.5 1253.8,1020.6"/>
<path d="M1097,1392.2 1097.9,1388.8 1098.8,1385.3 1099.7,1381.9 1100.5,1378.5 1101.4,1375 1102.3,1371.6 1103.2,1368.2 1104,1364.7 1104.9,1361.3 1105.8,1357.9 1106.6,1354.4 1107.5,1351 1108.3,1347.6 1109.1,1344.1 1110,1340.7 1110.8,1337.3 1111.6,1333.8 1112.4,1330.4 1113.2,1326.9 1114,1323.5 1114.8,1320 1115.5,1316.6 1116.3,1313.1 1117,1309.6 1117.8,1306.2 1118.5,1302.7 1119.3,1299.3 1120,1295.8 1120.8,1292.3 1121.6,1288.9 1122.3,1285.4 1123.1,1281.9 1123.9,1278.5 1124.7,1275 1125.5,1271.6 1126.3,1268.1 1127.1,1264.6 1127.9,1261.2 1128.8,1257.7 1129.7,1254.3 1130.6,1250.9 1131.5,1247.4 1132.4,1244 1133.4,1240.6 1134.4,1237.2 1135.4,1233.8 1136.5,1230.4 1137.6,1227 1138.7,1223.7 1139.9,1220.4 1141.1,1217 1142.3,1213.7 1143.6,1210.4 1145,1207.2 1146.3,1203.9 1147.8,1200.7 1149.2,1197.5 1150.8,1194.3 1152.3,1191.2 1154,1188.1 1155.7,1185 1157.4,1181.9 1159.2,1178.9 1161.1,1175.9 1163,1172.9 1164.9,1170 1166.9,1167.1 1169,1164.2 1171.1,1161.3 1173.2,1158.5 1175.4,1155.7 1177.6,1152.9 1179.8,1150.2 1182.1,1147.4 1184.4,1144.7 1186.7,1142.1 1189.1,1139.4 1191.5,1136.8 1193.9,1134.2 1196.4,1131.6 1198.9,1129.1 1201.4,1126.6 1203.9,1124.1 1206.4,1121.6 1209,1119.2 1211.6,1116.8 1214.2,1114.4 1216.8,1112 1219.5,1109.7 1222.2,1107.4 1224.9,1105.1 1227.6,1102.9 1230.4,1100.6 1233.1,1098.4 1235.9,1096.2 1238.7,1094.1 1241.5,1092 1244.4,1089.9 1247.2,1087.8 1250.1,1085.7 1253,1083.7 1255.9,1081.7 1258.9,1079.7 1261.8,1077.8 1264.8,1075.9 1267.8,1074 1270.8,1072.1 1273.8,1070.2 1276.9,1068.4 1279.9,1066.6 1283,1064.8 1286.1,1063.1 1289.2,1061.4 1292.3,1059.7 1295.4,1058 1298.5,1056.4 1301.7,1054.7 1304.9,1053.2 1308,1051.6 1311.2,1050 1314.4,1048.5 1317.7,1047 1320.9,1045.5 1324.1,1044.1 1327.4,1042.7 1330.6,1041.3 1333.9,1039.9 1337.2,1038.6 1340.5,1037.2 1343.8,1035.9 1347.1,1034.7 1350.4,1033.4 1353.8,1032.2 1357.1,1031 1360.5,1029.8 1363.8,1028.7 1367.2,1027.6 1370.6,1026.5 1373.9,1025.4 1377.3,1024.3 1380.7,1023.3 1384.1,1022.3 1387.5,1021.3 1390.9,1020.4 1394.4,1019.4 1397.8,1018.5 1401.2,1017.7 1404.6,1016.8 1408.1,1016 1411.5,1015.2 1415,1014.4 1418.4,1013.6 1421.9,1012.9 1425.3,1012.2 1428.8,1011.5 1429.8,1011.3"/>
<path d="M1103.3,1392.2 1104.4,1388.8 1105.4,1385.4 1106.5,1382 1107.6,1378.6 1108.7,1375.2 1109.9,1371.8 1111,1368.4 1112.2,1365 1113.4,1361.6 1114.6,1358.2 1115.8,1354.8 1117.1,1351.5 1118.3,1348.1 1119.6,1344.7 1120.9,1341.4 1122.2,1338 1123.5,1334.7 1124.9,1331.3 1126.2,1328 1127.6,1324.7 1129,1321.4 1130.5,1318.1 1131.9,1314.8 1133.4,1311.5 1134.9,1308.2 1136.4,1304.9 1137.9,1301.7 1139.4,1298.4 1141,1295.2 1142.6,1291.9 1144.2,1288.7 1145.9,1285.5 1147.5,1282.3 1149.2,1279.1 1150.9,1275.9 1152.7,1272.8 1154.4,1269.6 1156.2,1266.5 1158,1263.4 1159.8,1260.3 1161.7,1257.2 1163.6,1254.1 1165.5,1251.1 1167.5,1248.1 1169.5,1245.1 1171.6,1242.2 1173.6,1239.3 1175.7,1236.4 1177.9,1233.5 1180.1,1230.7 1182.3,1227.9 1184.6,1225.2 1186.9,1222.5 1189.3,1219.9 1191.7,1217.2 1194.2,1214.7 1196.7,1212.2 1199.3,1209.7 1201.9,1207.3 1204.6,1204.9 1207.3,1202.6 1210.1,1200.3 1212.9,1198.1 1215.8,1196 1217.1,1195.1"/>
<path d="M1085.6,1392.2L952.7,1162.5"/>
<path d="M936,1151.2L1073.8,1381.1"/>
<path d="M1067.9,1392.2 1065.5,1389.5 1063.9,1386.5 1063.1,1383.5 1063.3,1380.5 1064.5,1377.7 1066.5,1375.3 1069.1,1373.2 1072,1371.4 1075,1370.1 1078.1,1369.2 1081.2,1368.5 1084.4,1368.1 1087.7,1367.9 1091,1367.7 1094.4,1367.6 1097.7,1367.6 1101.1,1367.6 1104.5,1367.9 1107.7,1368.4 1110.8,1369.2 1113.8,1370.3 1116.6,1372 1119,1374 1120.9,1376.4 1122.3,1379.2 1122.4,1379.3"/>
<path d="M1111,1392.2 1113.9,1390.1 1116.7,1388 1119.6,1386 1122.4,1383.9 1125.3,1381.8 1128.2,1379.8 1131.1,1377.7 1133.9,1375.7 1136.8,1373.6 1139.7,1371.5 1142.5,1369.5 1145.4,1367.4 1148.3,1365.4 1151.2,1363.3 1154.1,1361.3 1156.9,1359.2 1159.8,1357.2 1162.7,1355.2 1165.6,1353.1 1168.5,1351.1 1171.4,1349 1174.3,1347 1177.2,1345 1180.1,1342.9 1182.9,1340.9 1185.8,1338.9 1188.7,1336.9 1191.6,1334.8 1194.5,1332.8 1197.4,1330.8 1200.3,1328.8 1203.2,1326.7 1206.1,1324.7 1209,1322.7 1211.9,1320.7 1214.8,1318.6 1217.7,1316.6 1220.6,1314.6 1223.5,1312.6 1226.4,1310.6 1229.3,1308.6 1232.2,1306.6 1235.1,1304.5 1238,1302.5 1240.9,1300.5 1243.9,1298.5 1246.8,1296.5 1249.7,1294.5 1252.6,1292.5 1255.5,1290.5 1258.4,1288.5 1261.3,1286.4 1264.2,1284.4 1267.1,1282.4 1270,1280.4 1272.9,1278.4 1275.8,1276.4 1278.7,1274.4 1281.7,1272.4 1284.6,1270.4 1287.5,1268.4 1290.4,1266.4 1293.3,1264.4 1296.2,1262.4 1299.1,1260.4 1302,1258.4 1304.9,1256.3 1307.8,1254.3 1310.8,1252.3 1313.7,1250.3 1316.6,1248.3 1319.5,1246.3 1322.4,1244.3 1325.3,1242.3 1328.2,1240.3 1331.1,1238.3 1334.1,1236.3 1337,1234.3 1339.9,1232.3 1342.8,1230.3 1345.7,1228.3 1348.6,1226.3 1351.5,1224.3 1354.4,1222.3 1357.3,1220.3 1360.3,1218.3 1363.2,1216.3 1366.1,1214.3 1369,1212.3 1371.9,1210.3 1374.8,1208.3 1377.7,1206.3 1380.6,1204.3 1383.6,1202.2 1386.5,1200.2 1389.4,1198.2 1392.3,1196.2 1395.2,1194.2 1398.1,1192.2 1401,1190.2 1403.9,1188.2 1406.8,1186.2 1409.7,1184.2 1412.7,1182.2 1415.6,1180.2 1418.5,1178.2 1421.4,1176.2 1424.3,1174.2 1427.2,1172.2 1430.1,1170.2 1433,1168.2 1435.9,1166.2 1438.9,1164.2 1441.8,1162.2 1444.7,1160.1 1447.6,1158.1 1450.5,1156.1 1453.4,1154.1 1456.3,1152.1 1459.2,1150.1 1462.1,1148.1 1465.1,1146.1 1468,1144.1 1470.9,1142.1 1473.8,1140.1 1476.7,1138.1 1479.6,1136.1 1482.5,1134.1 1485.4,1132.1 1488.3,1130.1 1491.3,1128.1 1494.2,1126.1 1497.1,1124.1 1500,1122.1 1502.9,1120.1 1505.8,1118.1 1508.7,1116.1 1511.6,1114.1 1514.6,1112.1 1517.5,1110 1520.4,1108 1523.3,1106 1526.2,1104 1529.1,1102 1532,1100 1534.9,1098 1537.9,1096 1540.8,1094 1543.7,1092 1546.6,1090 1549.5,1088 1552.4,1086 1555.3,1084 1558.3,1082.1 1561.2,1080.1 1564.1,1078.1 1567,1076.1 1569.9,1074.1 1572.8,1072.1 1575.8,1070.1 1578.7,1068.1 1581.6,1066.1 1584.5,1064.1 1587.4,1062.1 1590.4,1060.1 1593.3,1058.1 1596.2,1056.1 1599.1,1054.1 1602,1052.1 1604.9,1050.1 1607.9,1048.1 1610.8,1046.2 1613.7,1044.2 1616.6,1042.2 1619.6,1040.2 1622.5,1038.2 1625.4,1036.2 1628.3,1034.2 1631.2,1032.2 1634.2,1030.3 1637.1,1028.3 1640,1026.3 1642.9,1024.3 1645.9,1022.3 1648.8,1020.3 1649.7,1019.7"/>
<path d="M1132.5,1392.2 1135.8,1391 1139.1,1389.8 1142.4,1388.5 1145.8,1387.3 1149.1,1386.1 1152.4,1384.9 1155.7,1383.7 1159,1382.4 1162.3,1381.2 1165.7,1380 1169,1378.8 1172.3,1377.6 1175.6,1376.4 1179,1375.2 1182.3,1374 1185.6,1372.8 1188.9,1371.6 1192.3,1370.5 1195.6,1369.3 1198.9,1368.1 1202.2,1366.9 1205.6,1365.7 1208.9,1364.5 1212.2,1363.4 1215.6,1362.2 1218.9,1361 1222.2,1359.8 1225.6,1358.7 1228.9,1357.5 1232.2,1356.3 1235.6,1355.2 1238.9,1354 1242.2,1352.9 1245.6,1351.7 1248.9,1350.5 1252.2,1349.4 1255.6,1348.2 1258.9,1347.1 1262.3,1345.9 1265.6,1344.8 1268.9,1343.6 1272.3,1342.5 1275.6,1341.3 1279,1340.2 1282.3,1339 1285.7,1337.9 1289,1336.8 1292.3,1335.6 1295.7,1334.5 1299,1333.3 1302.4,1332.2 1305.7,1331.1 1309.1,1329.9 1312.4,1328.8 1315.8,1327.7 1319.1,1326.5 1322.5,1325.4 1325.8,1324.3 1329.2,1323.2 1332.5,1322 1335.8,1320.9 1339.2,1319.8 1342.5,1318.7 1345.9,1317.5 1349.2,1316.4 1352.6,1315.3 1355.9,1314.2 1359.3,1313.1 1362.6,1311.9 1366,1310.8 1369.3,1309.7 1372.7,1308.6 1376,1307.5 1379.4,1306.4 1382.8,1305.2 1386.1,1304.1 1389.5,1303 1392.8,1301.9 1396.2,1300.8 1399.5,1299.7 1402.9,1298.6 1406.2,1297.4 1409.6,1296.3 1412.9,1295.2 1416.3,1294.1 1419.6,1293 1423,1291.9 1426.3,1290.8 1429.7,1289.7 1433,1288.5 1436.4,1287.4 1439.8,1286.3 1443.1,1285.2 1446.5,1284.1 1449.8,1283 1453.2,1281.9 1456.5,1280.8 1459.9,1279.7 1463.2,1278.5 1466.6,1277.4 1469.9,1276.3 1473.3,1275.2 1476.6,1274.1 1480,1273 1483.3,1271.9 1486.7,1270.7 1490,1269.6 1493.4,1268.5 1496.7,1267.4 1500.1,1266.3 1503.5,1265.2 1506.8,1264.1 1510.2,1262.9 1513.5,1261.8 1516.9,1260.7 1520.2,1259.6 1523.6,1258.5 1526.9,1257.3 1530.3,1256.2 1533.6,1255.1 1537,1254 1540.3,1252.8 1543.7,1251.7 1547,1250.6 1550.3,1249.5 1553.7,1248.3 1557,1247.2 1560.4,1246.1 1563.7,1245 1567.1,1243.8 1570.4,1242.7 1573.8,1241.6 1577.1,1240.4 1580.5,1239.3 1583.8,1238.1 1587.2,1237 1590.5,1235.9 1593.8,1234.7 1597.2,1233.6 1600.5,1232.4 1603.9,1231.3 1607.2,1230.1 1610.6,1229 1613.9,1227.8 1617.2,1226.7 1620.6,1225.5 1623.9,1224.4 1627.2,1223.2 1630.6,1222.1 1633.9,1220.9 1637.3,1219.8 1638.3,1219.4"/>
<path d="M1140.1,1402.5 1143.6,1402.1 1147.1,1401.7 1150.6,1401.3 1154.1,1401 1157.6,1400.6 1161.1,1400.3 1164.7,1399.9 1168.2,1399.6 1171.7,1399.3 1175.2,1399 1178.7,1398.7 1182.2,1398.4 1185.8,1398.1 1189.3,1397.8 1192.8,1397.5 1196.3,1397.2 1199.8,1396.9 1203.4,1396.6 1206.9,1396.3 1210.4,1396 1213.9,1395.7 1217.5,1395.4 1221,1395.1 1224.5,1394.8 1228,1394.5 1231.5,1394.1 1235,1393.8 1238.5,1393.4 1242.1,1393.1 1245.6,1392.7 1249.1,1392.3 1252.6,1391.9 1256.1,1391.5 1259.6,1391 1263.1,1390.6 1266.6,1390.1 1270.1,1389.7 1273.6,1389.2 1277.1,1388.7 1280.5,1388.2 1284,1387.7 1287.5,1387.2 1291,1386.6 1294.5,1386.1 1298,1385.6 1301.5,1385 1305,1384.4 1308.4,1383.9 1311.9,1383.3 1315.4,1382.7 1318.9,1382.1 1322.3,1381.5 1325.8,1380.9 1329.3,1380.3 1332.8,1379.6 1336.2,1379 1339.7,1378.4 1343.2,1377.7 1346.7,1377.1 1350.1,1376.4 1353.6,1375.8 1357.1,1375.1 1360.5,1374.4 1364,1373.7 1367.5,1373 1370.9,1372.4 1374.4,1371.7 1377.8,1371 1381.3,1370.3 1384.8,1369.5 1388.2,1368.8 1391.7,1368.1 1395.1,1367.4 1398.6,1366.6 1402.1,1365.9 1405.5,1365.2 1409,1364.4 1412.4,1363.7 1415.9,1362.9 1419.3,1362.2 1422.8,1361.4 1426.2,1360.6 1429.6,1359.9 1433.1,1359.1 1436.5,1358.3 1440,1357.5 1443.4,1356.7 1446.8,1355.9 1450.3,1355.1 1453.7,1354.3 1457.2,1353.5 1460.6,1352.7 1464,1351.9 1467.4,1351.1 1470.9,1350.3 1474.3,1349.4 1477.7,1348.6 1481.1,1347.8 1484.6,1346.9 1488,1346.1 1491.4,1345.2 1494.8,1344.3 1498.2,1343.5 1501.7,1342.6 1505.1,1341.7 1508.5,1340.8 1511.9,1339.9 1515.3,1339 1518.7,1338.1 1522.1,1337.2 1525.5,1336.2 1528.9,1335.3 1532.3,1334.3 1535.7,1333.4 1539.1,1332.4 1542.5,1331.5 1545.9,1330.5 1549.3,1329.5 1552.7,1328.5 1556.1,1327.5 1559.4,1326.5 1562.8,1325.5 1566.2,1324.4 1569.6,1323.4 1572.9,1322.3 1576.3,1321.3 1579.7,1320.2 1583.1,1319.1 1586.4,1318 1589.8,1316.9 1593.1,1315.8 1596.5,1314.7 1599.8,1313.6 1603.2,1312.4 1606.5,1311.3 1609.8,1310.1 1613.2,1308.9 1616.5,1307.7 1619.8,1306.5 1623.1,1305.3 1626.4,1304 1629.7,1302.8 1633,1301.5 1636.3,1300.3 1639.6,1299 1642.9,1297.7 1646.2,1296.4 1649.4,1295 1652.7,1293.7 1656,1292.3 1659.2,1291 1662.5,1289.6 1665.7,1288.2 1668.9,1286.8 1672.1,1285.4 1675.4,1283.9 1678.6,1282.4 1681.8,1281 1685,1279.5 1688.2,1278 1691.3,1276.5 1694.5,1274.9 1697.7,1273.4 1700.8,1271.8 1704,1270.2 1707.1,1268.6 1710.3,1267 1713.4,1265.3 1716.5,1263.7 1719.6,1262 1722.7,1260.3 1725.8,1258.6 1728.9,1256.8 1731.9,1255.1 1735,1253.3 1738,1251.5 1741.1,1249.7 1744.1,1247.9 1747.1,1246.1 1750.1,1244.2 1753.1,1242.3 1756,1240.4 1759,1238.4 1761.9,1236.5 1764.8,1234.5 1767.7,1232.4 1770.6,1230.4 1773.4,1228.3 1776.3,1226.2 1779.1,1224.1 1781.9,1221.9 1784.6,1219.8 1787.3,1217.5 1790,1215.3 1792.7,1213 1795.4,1210.7 1798,1208.4 1800.6,1206 1803.1,1203.6 1805.7,1201.1 1808.2,1198.6 1810.6,1196.1 1813.1,1193.6 1815.5,1191 1817.8,1188.4 1820.2,1185.7 1822.5,1183.1 1824.8,1180.4 1827.1,1177.7 1829.3,1174.9 1831.6,1172.2 1833.8,1169.4 1836,1166.6 1838.2,1163.8 1840.4,1161 1842.6,1158.2 1844.7,1155.4 1846.9,1152.6 1849.1,1149.8 1851.2,1147 1853.4,1144.2 1855.5,1141.4 1857.7,1138.6 1859.8,1135.8 1862,1133 1864.1,1130.2 1866.2,1127.4 1866.9,1126.6"/>
<path d="M1140.1,1415.6 1143.6,1416.2 1147,1416.7 1150.5,1417.3 1153.9,1417.9 1157.4,1418.5 1160.9,1419.1 1164.3,1419.6 1167.8,1420.2 1171.3,1420.8 1174.7,1421.4 1178.2,1421.9 1181.6,1422.5 1185.1,1423.1 1188.6,1423.7 1192,1424.2 1195.5,1424.8 1199,1425.4 1202.4,1425.9 1205.9,1426.5 1209.4,1427.1 1212.8,1427.6 1216.3,1428.2 1219.8,1428.7 1223.2,1429.3 1226.7,1429.9 1230.2,1430.4 1233.6,1431 1237.1,1431.5 1240.6,1432 1244.1,1432.6 1247.5,1433.1 1251,1433.7 1254.5,1434.2 1257.9,1434.7 1261.4,1435.2 1264.9,1435.8 1268.4,1436.3 1271.8,1436.8 1275.3,1437.3 1278.8,1437.8 1282.3,1438.3 1285.7,1438.8 1289.2,1439.3 1292.7,1439.8 1296.2,1440.3 1299.7,1440.7 1303.1,1441.2 1306.6,1441.7 1310.1,1442.2 1313.6,1442.6 1317.1,1443.1 1320.5,1443.5 1324,1443.9 1327.5,1444.4 1331,1444.8 1334.5,1445.2 1338,1445.7 1341.4,1446.1 1344.9,1446.5 1348.4,1446.9 1351.9,1447.3 1355.4,1447.6 1358.9,1448 1362.4,1448.4 1365.9,1448.7 1369.4,1449.1 1372.8,1449.4 1376.3,1449.8 1379.8,1450.1 1383.3,1450.4 1386.8,1450.8 1390.3,1451.1 1393.8,1451.4 1397.3,1451.7 1400.8,1451.9 1404.3,1452.2 1407.8,1452.5 1411.3,1452.8 1414.8,1453 1418.3,1453.2 1421.8,1453.5 1425.3,1453.7 1428.8,1453.9 1432.3,1454.1 1435.8,1454.3 1439.3,1454.5 1442.8,1454.7 1446.3,1454.8 1449.9,1455 1453.4,1455.1 1456.9,1455.3 1460.4,1455.4 1463.9,1455.5 1467.4,1455.6 1470.9,1455.7 1474.4,1455.8 1478,1455.8 1481.5,1455.9 1485,1455.9 1488.5,1456 1492,1456 1495.5,1456 1499.1,1456 1502.6,1456 1506.1,1456 1509.6,1456 1513.1,1456 1516.7,1456 1520.2,1456 1523.7,1456 1527.2,1455.9 1530.7,1455.9 1534.3,1455.9 1537.8,1455.9 1541.3,1455.9 1544.8,1455.9 1548.3,1455.8 1551.8,1455.8 1555.3,1455.8 1558.8,1455.8 1562.3,1455.9 1565.8,1455.9 1569.3,1455.9 1572.8,1455.9 1576.3,1456 1579.8,1456 1583.3,1456.1 1586.8,1456.1 1590.3,1456.2 1593.8,1456.3 1597.3,1456.3 1600.8,1456.4 1604.3,1456.5 1607.7,1456.5 1611.2,1456.6 1614.7,1456.7 1618.2,1456.7 1621.7,1456.8 1625.2,1456.8 1628.7,1456.9 1632.2,1456.9 1635.7,1456.9 1639.2,1457 1642.8,1457 1646.3,1457 1649.8,1457 1653.3,1457 1656.8,1457 1660.4,1456.9 1663.9,1456.9 1667.4,1456.8 1671,1456.7 1674.5,1456.6 1678,1456.5 1681.6,1456.4 1685.1,1456.2 1688.7,1456.1 1692.2,1455.9 1695.7,1455.7 1699.2,1455.4 1702.8,1455.2 1706.3,1454.9 1709.8,1454.6 1713.3,1454.3 1716.8,1453.9 1720.3,1453.5 1723.8,1453.1 1727.3,1452.6 1730.8,1452.2 1734.3,1451.7 1737.7,1451.1 1741.2,1450.5 1744.6,1449.9 1748.1,1449.3 1751.5,1448.6 1754.9,1447.9 1758.3,1447.1 1761.7,1446.3 1765.1,1445.5 1768.5,1444.6 1771.9,1443.6 1775.2,1442.7 1778.5,1441.7 1781.8,1440.6 1785.2,1439.5 1788.4,1438.4 1791.7,1437.2 1795,1435.9 1798.2,1434.6 1801.4,1433.3 1804.6,1431.9 1807.8,1430.4 1811,1428.9 1814.1,1427.4 1817.2,1425.7 1820.3,1424.1 1823.4,1422.3 1826.5,1420.6 1829.5,1418.7 1832.5,1416.8 1835.4,1414.9 1838.3,1412.9 1841.2,1410.8 1844,1408.7 1846.8,1406.6 1849.6,1404.4 1852.3,1402.1 1854.9,1399.8 1857.5,1397.4 1860.1,1395 1862.6,1392.6 1865,1390.1 1867.4,1387.5 1869.8,1384.9 1872.1,1382.3 1874.4,1379.7 1876.7,1377 1878.9,1374.3 1881.1,1371.5 1883.3,1368.8 1885.4,1366 1887.5,1363.2 1889.6,1360.4 1891.6,1357.5 1893.7,1354.7 1895.7,1351.8 1897.7,1348.9 1899.7,1346 1901.6,1343.1 1903.6,1340.2 1905.5,1337.3 1907.5,1334.3 1909.4,1331.4 1911.3,1328.5 1913.3,1325.5 1915.2,1322.6 1917.1,1319.6 1919,1316.7 1920.8,1313.7 1922.7,1310.7 1924.6,1307.8 1926.4,1304.8 1928.2,1301.8 1930,1298.8 1931.8,1295.7 1933.6,1292.7 1935.4,1289.7 1937.1,1286.6 1938.9,1283.5 1940.6,1280.5 1942.3,1277.4 1944,1274.3 1945.6,1271.2 1947.3,1268.1 1948.9,1264.9 1950.5,1261.8 1952.1,1258.7 1953.6,1255.5 1955.1,1252.4 1956.7,1249.2 1958.1,1246 1959.6,1242.8 1961,1239.6 1962.4,1236.4 1963.8,1233.2 1965.2,1229.9 1966.5,1226.7 1967.8,1223.4 1969.1,1220.2 1970.4,1216.9 1971.6,1213.6 1972.8,1210.3 1973.9,1207 1975,1203.7 1976.1,1200.4 1977.2,1197.1 1978.2,1193.7 1979.2,1190.4 1980.2,1187 1981.1,1183.7 1982,1180.3 1982.9,1176.9 1983.7,1173.5 1984.5,1170.1 1985.3,1166.7 1986,1163.3 1986.7,1159.8 1987.3,1156.4 1987.9,1152.9 1988.5,1149.5 1989,1146 1989.5,1142.5 1989.9,1139.1 1990.3,1135.6 1990.7,1132.1 1991.1,1128.6 1991.4,1125.1 1991.7,1121.5 1992,1118 1992.4,1114.5 1992.7,1111 1993,1107.5 1993.3,1103.9 1993.6,1100.4 1993.9,1096.9 1994.2,1093.4 1994.5,1089.9 1994.8,1086.4 1995.1,1082.9 1995.4,1079.4 1995.7,1075.8 1996,1072.3 1996.2,1068.8 1996.4,1065.3 1996.6,1061.8 1996.7,1058.3 1996.9,1054.8 1996.9,1051.3 1997,1047.8 1997,1044.4 1996.9,1040.9 1996.8,1037.4 1996.7,1033.9 1996.5,1030.4 1996.3,1026.9 1996,1023.4 1995.7,1020 1995.3,1016.5 1994.9,1013 1994.4,1009.6 1993.9,1006.1 1993.3,1002.6 1992.8,999.2 1992.1,995.7 1991.5,992.3 1990.8,988.8 1990.2,985.4 1989.5,981.9 1988.9,978.5 1988.2,975 1987.6,971.6 1987,968.1 1986.4,964.7 1985.8,961.2 1985.3,957.8 1984.8,954.3 1984.3,950.9 1983.9,947.4 1983.5,943.9 1983.1,940.5 1982.7,937 1982.5,933.5 1982.2,930 1982,926.5 1981.8,923 1981.7,919.5 1981.6,916 1981.6,912.5 1981.6,909 1981.6,905.4 1981.7,901.9 1981.9,898.4 1982,894.9 1982.2,891.3 1982.5,887.8 1982.7,884.2 1983,880.7 1983.4,877.2 1983.8,873.6 1984.2,870.1 1984.7,866.6 1985.2,863.1 1985.8,859.6 1986.5,856.2 1987.2,852.7 1988,849.3 1988.9,845.9 1989.9,842.6 1990.9,839.3 1992.1,836.1 1993.3,832.9 1994.7,829.7 1996.2,826.6 1997.7,823.5 1999.4,820.5 2001.3,817.6 2001.8,816.8"/>
<path d="M1111.6,1417.2 1114.5,1419.3 1117.5,1421.4 1120.4,1423.4 1123.4,1425.5 1126.4,1427.5 1129.3,1429.6 1132.3,1431.6 1135.3,1433.6 1138.3,1435.6 1141.3,1437.6 1144.4,1439.5 1147.4,1441.5 1150.4,1443.4 1153.5,1445.3 1156.5,1447.2 1159.6,1449.1 1162.7,1451 1165.8,1452.8 1168.9,1454.7 1172,1456.5 1175.1,1458.3 1178.2,1460.1 1181.4,1461.9 1184.5,1463.6 1187.6,1465.4 1190.8,1467.1 1194,1468.8 1197.2,1470.5 1200.4,1472.1 1203.6,1473.8 1206.8,1475.4 1210,1477 1213.2,1478.6 1216.5,1480.1 1219.7,1481.7 1223,1483.2 1226.3,1484.7 1229.6,1486.2 1232.9,1487.6 1234.2,1488.2"/>
<path d="M1102.4,1417.2 1104.5,1420.1 1106.6,1423 1108.7,1425.9 1110.8,1428.9 1112.8,1431.8 1114.9,1434.8 1117,1437.8 1119,1440.8 1121.1,1443.8 1123.2,1446.8 1125.3,1449.8 1127.4,1452.8 1129.5,1455.8 1131.6,1458.8 1133.7,1461.8 1135.8,1464.8 1138,1467.8 1140.1,1470.8 1142.3,1473.7 1144.5,1476.6 1146.7,1479.5 1149,1482.4 1151.2,1485.3 1153.5,1488.1 1155.9,1490.9 1158.2,1493.7 1160.6,1496.4 1163,1499.1 1165.5,1501.8 1168,1504.4 1170.5,1507 1173,1509.5 1175.6,1512 1178.3,1514.4 1181,1516.8 1183.7,1519.1 1186.5,1521.4 1189.3,1523.6 1192.2,1525.7 1195.2,1527.8 1198.2,1529.8 1201.2,1531.7 1204.3,1533.5 1207.5,1535.3 1210.7,1537 1213.9,1538.7 1215.6,1539.4"/>
<path d="M1098.7,1417.2 1100,1420.6 1101.3,1423.9 1102.6,1427.2 1103.9,1430.5 1105.3,1433.8 1106.7,1437.1 1108.1,1440.3 1109.5,1443.6 1111,1446.8 1112.5,1450 1114,1453.2 1115.5,1456.4 1117,1459.5 1118.6,1462.7 1120.2,1465.8 1121.8,1468.9 1123.5,1472 1125.1,1475.1 1126.8,1478.1 1128.6,1481.2 1130.3,1484.2 1132.1,1487.3 1133.9,1490.3 1135.7,1493.3 1137.6,1496.2 1139.5,1499.2 1141.4,1502.2 1143.3,1505.1 1145.3,1508.1 1147.3,1511 1149.3,1513.9 1151.4,1516.8 1153.5,1519.6 1155.6,1522.5 1157.7,1525.4 1159.9,1528.2 1162.1,1531 1164.4,1533.8 1166.6,1536.6 1168.9,1539.3 1171.3,1542 1173.6,1544.7 1176,1547.3 1178.5,1549.9 1180.9,1552.5 1183.4,1555.1 1186,1557.6 1188.5,1560 1191.2,1562.4 1193.8,1564.8 1196.5,1567.1 1199.2,1569.4 1201.9,1571.6 1204.7,1573.8 1207.5,1575.9 1210.4,1577.9 1213.3,1579.9 1216.2,1581.8 1219.2,1583.7 1222.2,1585.5 1225.3,1587.2 1228.3,1588.9 1231.5,1590.5 1234.6,1592 1237.9,1593.5 1241.1,1594.8 1244.4,1596.1 1247.7,1597.3 1251,1598.4 1254.4,1599.4 1257.8,1600.4 1261.2,1601.2 1264.6,1601.9 1268.1,1602.6 1271.6,1603.1 1275.1,1603.6 1278.6,1604 1282.1,1604.3 1285.6,1604.5 1289.1,1604.7 1292.7,1604.8 1296.2,1604.8 1299.7,1604.8 1303.3,1604.7 1306.8,1604.5 1310.3,1604.3 1313.9,1604.1 1317.4,1603.8 1320.9,1603.5 1324.5,1603.1 1328,1602.8 1331.6,1602.4 1335.1,1601.9 1338.6,1601.5 1342.2,1601 1345.7,1600.6 1349.2,1600.1 1352.8,1599.6 1356.3,1599.1 1359.8,1598.6 1363.3,1598.1 1366.8,1597.6 1370.3,1597 1373.8,1596.4 1377.3,1595.8 1380.8,1595.2 1384.2,1594.5 1387.7,1593.8 1391.1,1593.1 1394.5,1592.3 1398,1591.5 1401.4,1590.6 1404.8,1589.7 1408.1,1588.8 1411.5,1587.8 1414.9,1586.7 1418.2,1585.6 1421.5,1584.5 1424.8,1583.3 1428.1,1582 1431.4,1580.7 1434.6,1579.3 1437.8,1577.8 1441,1576.3 1442.2,1575.7"/>
<path d="M1096.9,1417.2 1097.8,1420.6 1098.7,1424 1099.6,1427.4 1100.5,1430.8 1101.4,1434.3 1102.3,1437.7 1103.2,1441.1 1104.1,1444.5 1105,1448 1105.9,1451.4 1106.8,1454.8 1107.7,1458.2 1108.7,1461.6 1109.6,1465.1 1110.6,1468.5 1111.6,1471.9 1112.6,1475.3 1113.6,1478.6 1114.7,1482 1115.8,1485.4 1116.9,1488.7 1118,1492.1 1119.1,1495.4 1120.3,1498.8 1121.5,1502.1 1122.8,1505.4 1124.1,1508.7 1125.4,1511.9 1126.7,1515.2 1128.1,1518.4 1129.6,1521.7 1131.1,1524.9 1132.6,1528.1 1134.1,1531.2 1135.7,1534.4 1137.4,1537.5 1139.1,1540.6 1140.8,1543.7 1142.6,1546.8 1144.4,1549.8 1146.3,1552.8 1148.2,1555.8 1150.2,1558.7 1152.2,1561.7 1154.2,1564.6 1156.3,1567.4 1158.4,1570.3 1160.6,1573.1 1162.8,1575.9 1165,1578.6 1167.3,1581.3 1169.6,1584 1171.9,1586.6 1174.3,1589.2 1176.8,1591.8 1179.2,1594.3 1181.7,1596.8 1184.3,1599.3 1186.9,1601.7 1189.5,1604.1 1192.1,1606.4 1194.8,1608.7 1197.6,1610.9 1200.3,1613.1 1203.1,1615.3 1205.9,1617.4 1208.8,1619.4 1211.7,1621.4 1214.7,1623.4 1217.6,1625.3 1220.6,1627.1 1223.7,1628.9 1226.7,1630.6 1229.9,1632.3 1233,1633.9 1236.2,1635.4 1239.4,1636.9 1242.6,1638.3 1245.9,1639.6 1249.1,1641 1252.4,1642.3 1255.7,1643.5 1259,1644.7 1262.3,1646 1265.7,1647.1 1269,1648.3 1272.4,1649.5 1275.7,1650.6 1279.1,1651.7 1282.4,1652.9 1285.8,1654 1289.1,1655.1 1292.5,1656.2 1295.9,1657.2 1299.3,1658.3 1302.6,1659.3 1306,1660.4 1309.4,1661.4 1312.8,1662.4 1316.2,1663.3 1319.6,1664.2 1323,1665.2 1326.4,1666 1329.9,1666.9 1333.3,1667.7 1336.8,1668.5 1340.2,1669.3 1343.6,1670.1 1347.1,1670.8 1350.6,1671.6 1354,1672.3 1357.5,1672.9 1361,1673.6 1364.5,1674.2 1367.9,1674.8 1371.4,1675.4 1374.9,1675.9 1378.4,1676.4 1381.9,1676.9 1385.4,1677.4 1388.9,1677.8 1392.4,1678.3 1396,1678.7 1399.5,1679 1403,1679.4 1406.5,1679.7 1410,1680 1413.6,1680.3 1414.7,1680.3"/>
<path d="M1096,1417.2 1096.3,1420.7 1096.7,1424.3 1097,1427.8 1097.4,1431.3 1097.7,1434.9 1098.1,1438.4 1098.5,1441.9 1098.9,1445.5 1099.3,1449 1099.7,1452.5 1100.2,1456.1 1100.6,1459.6 1101.1,1463.1 1101.6,1466.6 1102.1,1470.2 1102.7,1473.7 1103.3,1477.2 1103.9,1480.7 1104.5,1484.2 1105.2,1487.7 1105.9,1491.1 1106.6,1494.6 1107.4,1498 1108.2,1501.5 1109,1504.9 1109.8,1508.3 1110.7,1511.8 1111.7,1515.2 1112.6,1518.6 1113.6,1521.9 1114.6,1525.3 1115.7,1528.7 1116.8,1532 1117.9,1535.4 1119,1538.7 1120.2,1542 1121.4,1545.4 1122.6,1548.7 1123.9,1552 1125.1,1555.3 1126.4,1558.6 1127.7,1561.9 1129.1,1565.2 1130.4,1568.5 1131.8,1571.7 1133.2,1575 1134.6,1578.3 1136,1581.6 1137.5,1584.8 1138.9,1588.1 1140.4,1591.3 1141.9,1594.6 1143.4,1597.8 1145,1601 1146.5,1604.3 1148.1,1607.5 1149.7,1610.7 1151.4,1613.8 1153.1,1617 1154.8,1620.1 1156.5,1623.2 1158.3,1626.3 1160.1,1629.4 1161.9,1632.5 1163.8,1635.5 1165.7,1638.5 1167.6,1641.5 1169.6,1644.4 1171.6,1647.4 1173.7,1650.2 1175.8,1653.1 1177.9,1655.9 1180.1,1658.7 1182.3,1661.5 1184.6,1664.2 1186.9,1666.8 1189.3,1669.4 1191.7,1672 1194.2,1674.4 1196.8,1676.8 1199.4,1679.1 1202,1681.3 1204.8,1683.5 1207.6,1685.5 1210.4,1687.5 1213.4,1689.3 1216.4,1691.1 1219.5,1692.7 1222.7,1694.2 1225.9,1695.5 1229.2,1696.8 1230.8,1697.3"/>
<path d="M1319.4,1704L1414.8,1692.1"/>
<path d="M1093.2,1417.2 1093.2,1420.7 1093.3,1424.2 1093.3,1427.7 1093.3,1431.2 1093.3,1434.7 1093.3,1438.2 1093.3,1441.7 1093.3,1445.3 1093.4,1448.8 1093.4,1452.3 1093.4,1455.9 1093.4,1459.4 1093.5,1462.9 1093.5,1466.5 1093.6,1470 1093.7,1473.6 1093.7,1477.1 1093.9,1480.6 1094,1484.2 1094.1,1487.7 1094.3,1491.3 1094.5,1494.8 1094.7,1498.3 1094.9,1501.9 1095.2,1505.4 1095.5,1508.9 1095.8,1512.4 1096.2,1515.9 1096.6,1519.4 1097,1522.9 1097.4,1526.4 1097.9,1529.9 1098.5,1533.4 1099.1,1536.8 1099.7,1540.3 1100.3,1543.7 1101,1547.2 1101.8,1550.6 1102.5,1554 1103.3,1557.5 1104.2,1560.9 1105.1,1564.3 1106,1567.6 1106.9,1571 1107.9,1574.4 1108.9,1577.8 1110,1581.1 1111,1584.5 1112.2,1587.8 1113.3,1591.1 1114.5,1594.4 1115.7,1597.7 1116.9,1601 1118.2,1604.3 1119.5,1607.6 1120.8,1610.9 1122.2,1614.1 1123.6,1617.4 1125,1620.6 1126.4,1623.8 1127.9,1627 1129.4,1630.2 1130.9,1633.4 1132.4,1636.6 1134,1639.8 1135.6,1642.9 1137.2,1646.1 1138.8,1649.2 1140.5,1652.4 1142.1,1655.5 1143.9,1658.6 1145.6,1661.7 1147.3,1664.7 1149.1,1667.8 1150.9,1670.8 1152.8,1673.8 1154.7,1676.8 1156.6,1679.8 1158.5,1682.8 1160.4,1685.7 1162.4,1688.6 1164.4,1691.5 1166.5,1694.4 1168.5,1697.2 1170.7,1700 1172.8,1702.8 1175,1705.6 1177.2,1708.3 1179.4,1711 1181.7,1713.6 1184,1716.3 1186.4,1718.9 1188.8,1721.4 1191.2,1723.9 1193.7,1726.4 1196.2,1728.8 1198.7,1731.2 1201.3,1733.5 1204,1735.8 1206.7,1738.1 1209.4,1740.3 1212.2,1742.4 1215,1744.5 1217.9,1746.6 1220.8,1748.6 1223.7,1750.5 1226.7,1752.4 1229.7,1754.3 1232.8,1756.1 1235.8,1757.9 1238.9,1759.7 1242,1761.4 1245.2,1763 1248.4,1764.6 1251.5,1766.2 1254.7,1767.7 1258,1769.2 1261.2,1770.7 1264.5,1772.1 1267.7,1773.5 1271,1774.8 1274.3,1776.1 1277.6,1777.3 1281,1778.5 1284.3,1779.6 1287.6,1780.6 1291,1781.6 1294.4,1782.5 1297.8,1783.4 1301.2,1784.2 1304.6,1784.9 1308,1785.5 1311.5,1786.1 1314.9,1786.6 1318.4,1787 1321.9,1787.4 1325.3,1787.6 1328.8,1787.9 1332.3,1788 1335.8,1788.1 1339.3,1788.1 1342.8,1788.1 1346.3,1788 1349.8,1787.8 1353.3,1787.6 1356.9,1787.3 1360.4,1787 1363.9,1786.6 1367.4,1786.2 1370.9,1785.7 1374.4,1785.1 1377.9,1784.6 1381.4,1783.9 1384.9,1783.3 1388.4,1782.6 1391.9,1781.8 1395.3,1781 1398.8,1780.2 1402.3,1779.3 1405.7,1778.5 1409.1,1777.5 1412.5,1776.6 1415.9,1775.6 1419.3,1774.6 1422.7,1773.5 1426.1,1772.5 1429.4,1771.4 1432.8,1770.2 1436.1,1769.1 1439.4,1767.9 1442.7,1766.8 1446,1765.5 1449.3,1764.3 1452.5,1763.1 1455.8,1761.8 1459.1,1760.5 1462.3,1759.2 1465.6,1757.9 1468.8,1756.6 1472,1755.2 1475.3,1753.9 1478.5,1752.5 1481.7,1751.1 1484.9,1749.7 1488.2,1748.3 1491.4,1746.9 1494.6,1745.4 1497.8,1744 1501,1742.5 1504.2,1741 1507.4,1739.5 1510.6,1738 1513.7,1736.4 1516.9,1734.9 1520.1,1733.3 1523.2,1731.7 1526.4,1730 1529.5,1728.4 1532.6,1726.7 1535.7,1725 1538.8,1723.3 1541.9,1721.5 1544.9,1719.8 1548,1718 1551,1716.1 1554,1714.3 1557,1712.4 1560,1710.5 1563,1708.6 1565.9,1706.6 1568.8,1704.7 1571.7,1702.6 1574.6,1700.6 1577.4,1698.5 1580.3,1696.4 1583,1694.3 1585.8,1692.1 1588.6,1689.9 1591.3,1687.7 1593.9,1685.4 1596.6,1683.2 1599.2,1680.8 1601.8,1678.5 1604.4,1676.1 1606.9,1673.6 1609.4,1671.2 1611.8,1668.7 1614.2,1666.1 1616.6,1663.5 1618.9,1660.9 1621.2,1658.3 1623.5,1655.6 1625.7,1652.8 1627.9,1650.1 1630.1,1647.3 1632.2,1644.5 1634.3,1641.6 1636.4,1638.8 1638.4,1635.9 1640.4,1633 1642.4,1630 1644.3,1627.1 1646.3,1624.1 1648.2,1621.1 1650.1,1618.1 1652,1615.1 1653.8,1612 1655.7,1609 1657.5,1606 1659.3,1602.9 1661.1,1599.9 1662.9,1596.8 1664.6,1593.7 1666.4,1590.7 1668.1,1587.6 1669.9,1584.6 1671.6,1581.5 1672.1,1580.7"/>
<path d="M1548.4,1544.3 1551.8,1543.7 1555.3,1543 1558.7,1542.4 1562.1,1541.7 1565.6,1540.9 1569,1540.2 1572.4,1539.4 1575.9,1538.7 1579.3,1537.9 1582.8,1537.1 1586.2,1536.3 1589.7,1535.6 1593.1,1534.8 1596.6,1534 1600,1533.3 1603.5,1532.6 1606.9,1531.9 1610.4,1531.3 1613.9,1530.7 1617.3,1530.1 1620.8,1529.6 1624.3,1529.1 1627.7,1528.6 1631.2,1528.2 1634.7,1527.8 1638.2,1527.4 1641.7,1527.1 1645.1,1526.8 1648.6,1526.5 1652.1,1526.3 1655.6,1526.1 1659.1,1525.8 1662.6,1525.6 1666.1,1525.5 1669.6,1525.3 1673.1,1525.1 1676.6,1524.9 1680.1,1524.8 1683.6,1524.6 1687.1,1524.5 1690.7,1524.3 1694.2,1524.2 1697.7,1524 1701.2,1523.9 1704.7,1523.7 1708.2,1523.5 1711.8,1523.4 1715.3,1523.2 1718.8,1523 1722.3,1522.9 1725.8,1522.7 1729.4,1522.5 1732.9,1522.3 1736.4,1522.2 1739.9,1522 1743.4,1521.8 1747,1521.6 1750.5,1521.4 1754,1521.2 1757.5,1520.9 1761,1520.7 1764.5,1520.5 1768.1,1520.3 1771.6,1520 1775.1,1519.8 1778.6,1519.5 1782.1,1519.3 1785.6,1519 1789.1,1518.7 1792.6,1518.4 1796.1,1518.1 1799.5,1517.8 1803,1517.5 1806.5,1517.2 1810,1516.9 1813.5,1516.5 1816.9,1516.2 1820.4,1515.8 1823.9,1515.4 1827.3,1515 1830.8,1514.6 1834.2,1514.2 1837.7,1513.8 1841.1,1513.3 1844.6,1512.8 1848.1,1512.3 1851.5,1511.8 1855,1511.3 1858.4,1510.7 1861.9,1510.1 1865.3,1509.5 1868.8,1508.9 1872.3,1508.2 1875.8,1507.5 1879.2,1506.8 1882.7,1506 1886.2,1505.2 1889.7,1504.4 1893.2,1503.5 1896.7,1502.6 1900.2,1501.6 1903.7,1500.6 1907.1,1499.5 1910.5,1498.4 1913.9,1497.2 1917.2,1495.9 1920.5,1494.5 1923.7,1493.1 1926.8,1491.6 1929.9,1490 1932.9,1488.3 1935.9,1486.6 1938.7,1484.7 1941.4,1482.7 1944.1,1480.6 1946.6,1478.4 1949,1476.1 1951.3,1473.6 1953.5,1471.1 1955.6,1468.4 1957.6,1465.7 1959.5,1462.8 1961.3,1459.9 1963,1456.9 1964.6,1453.8 1966.1,1450.6 1967.6,1447.4 1968.9,1444.1 1970.3,1440.8 1971.5,1437.4 1972.7,1434 1973.8,1430.6 1974.9,1427.1 1975.9,1423.6 1976.9,1420.1 1977.8,1416.6 1978.8,1413.1 1979.6,1409.6 1980.5,1406.2 1981.3,1402.7 1982.1,1399.2 1982.9,1395.8 1983.7,1392.3 1984.4,1388.9 1985.1,1385.4 1985.8,1382 1986.4,1378.5 1987,1375.1 1987.6,1371.7 1988.2,1368.2 1988.7,1364.8 1989.3,1361.4 1989.8,1357.9 1990.2,1354.5 1990.7,1351 1991.1,1347.6 1991.5,1344.1 1991.9,1340.7 1992.2,1337.2 1992.5,1333.8 1992.8,1330.3 1993.1,1326.8 1993.4,1323.3 1993.6,1319.8 1993.8,1316.4 1994,1312.9 1994.2,1309.4 1994.4,1305.9 1994.5,1302.4 1994.7,1298.9 1994.8,1295.4 1994.9,1291.8 1994.9,1288.3 1995,1284.8 1995.1,1281.3 1995.1,1277.8 1995.1,1274.3 1995.1,1270.7 1995.1,1267.2 1995.1,1263.7 1995,1260.2 1995,1256.6 1994.9,1253.1 1994.9,1249.6 1994.8,1246.1 1994.7,1242.5 1994.6,1239 1994.5,1235.5 1994.4,1232 1994.2,1228.4 1994.1,1224.9 1994,1221.4 1993.8,1217.9 1993.7,1214.3 1993.5,1210.8 1993.4,1207.3 1993.2,1203.8 1993,1200.3 1992.8,1196.8 1992.7,1193.2 1992.5,1189.7 1992.3,1186.2 1992.1,1182.7 1991.9,1179.2 1991.7,1175.7 1991.5,1172.2 1991.3,1168.7 1991.1,1165.2 1990.8,1161.7 1990.6,1158.2 1990.4,1154.7 1990.2,1151.2 1990,1147.7 1989.7,1144.2 1989.5,1140.7 1989.2,1137.2 1989,1133.7 1988.8,1130.2 1988.5,1126.7 1988.3,1123.2 1988,1119.7 1987.8,1116.2 1987.5,1112.7 1987.3,1109.2 1987,1105.7 1986.7,1102.2 1986.5,1098.7 1986.2,1095.2 1986,1091.7 1985.7,1088.2 1985.4,1084.7 1985.2,1081.2 1984.9,1077.7 1984.6,1074.2 1984.3,1070.7 1984.1,1067.2 1983.8,1063.7 1983.5,1060.2 1983.2,1056.7 1982.9,1053.2 1982.6,1049.7 1982.3,1046.2 1982,1042.7 1981.7,1039.2 1981.4,1035.7 1981.1,1032.2 1980.7,1028.7 1980.4,1025.2 1980,1021.7 1979.6,1018.2 1979.2,1014.7 1978.8,1011.2 1978.4,1007.7 1977.9,1004.2 1977.5,1000.7 1977,997.2 1976.5,993.7 1976,990.2 1975.6,986.7 1975.1,983.2 1974.6,979.7 1974.2,976.2 1973.7,972.8 1973.3,969.3 1972.9,965.8 1972.6,962.3 1972.3,958.8 1972,955.3 1971.7,951.8 1971.5,948.3 1971.4,944.8 1971.3,941.4 1971.3,937.9 1971.3,934.4 1971.3,930.9 1971.5,927.4 1971.7,923.9 1971.9,920.4 1972.2,916.9 1972.5,913.4 1972.9,909.9 1973.3,906.4 1973.7,902.9 1974.2,899.4 1974.7,896 1975.2,892.5 1975.8,889 1976.4,885.5 1977,882 1977.7,878.5 1978.3,875 1979,871.6 1979.7,868.1 1980.4,864.6 1981.2,861.1 1982,857.7 1982.8,854.3 1983.7,850.9 1984.6,847.5 1985.6,844.2 1986.8,840.9 1988,837.6 1989.3,834.4 1990.7,831.3 1992.2,828.2 1993.9,825.2 1995.7,822.3 1997.6,819.5 1999.7,816.7 2000.6,815.7"/>
<path d="M1748,1567.6 1751.5,1568.1 1755.1,1568.5 1758.6,1569 1762.1,1569.4 1765.6,1569.8 1769.2,1570.1 1772.7,1570.5 1776.2,1570.8 1779.7,1571.1 1783.2,1571.4 1786.7,1571.6 1790.2,1571.8 1793.6,1572 1797.1,1572.2 1800.6,1572.3 1804.1,1572.4 1807.6,1572.4 1811.1,1572.4 1814.6,1572.4 1818,1572.4 1821.5,1572.3 1825,1572.2 1828.5,1572 1832,1571.8 1835.5,1571.5 1838.9,1571.2 1842.4,1570.9 1845.9,1570.5 1849.4,1570.1 1852.9,1569.7 1856.4,1569.1 1859.9,1568.6 1863.4,1568 1867,1567.3 1870.5,1566.6 1874,1565.8 1877.5,1565 1881,1564.1 1884.5,1563.2 1887.9,1562.2 1891.4,1561.2 1894.8,1560.1 1898.2,1558.9 1901.5,1557.7 1904.8,1556.4 1908.1,1555 1911.4,1553.6 1914.6,1552.1 1917.7,1550.5 1920.8,1548.9 1923.9,1547.2 1926.8,1545.4 1929.8,1543.5 1932.6,1541.6 1935.4,1539.6 1938.1,1537.5 1940.8,1535.3 1943.4,1533.1 1945.8,1530.8 1948.2,1528.3 1950.6,1525.8 1952.8,1523.2 1954.9,1520.6 1956.9,1517.8 1958.9,1514.9 1960.7,1512 1962.4,1509 1964,1505.8 1965.6,1502.7 1967,1499.4 1968.4,1496.1 1969.6,1492.8 1970.8,1489.4 1972,1486 1973,1482.6 1974,1479.2 1974.9,1475.7 1975.8,1472.2 1976.6,1468.7 1977.4,1465.2 1978.1,1461.7 1978.8,1458.2 1979.5,1454.7 1980.1,1451.2 1980.7,1447.7 1981.3,1444.2 1981.8,1440.8 1982.4,1437.3 1982.9,1433.8 1983.4,1430.3 1983.9,1426.9 1984.4,1423.4 1984.8,1419.9 1985.3,1416.4 1985.7,1413 1986.1,1409.5 1986.5,1406 1986.9,1402.5 1987.4,1399 1987.8,1395.6 1988.2,1392.1 1988.6,1388.6 1989,1385.1 1989.4,1381.6 1989.7,1378.1 1990.1,1374.6 1990.5,1371.1 1990.9,1367.6 1991.3,1364.1 1991.6,1360.7 1992,1357.2 1992.4,1353.7 1992.7,1350.1 1993.1,1346.6 1993.5,1343.1 1993.8,1339.6 1994.2,1336.1 1994.5,1332.6 1994.8,1329.1 1995.2,1325.6 1995.5,1322.1 1995.9,1318.6 1996.2,1315.1 1996.5,1311.6 1996.9,1308.1 1997.2,1304.6 1997.5,1301.1 1997.8,1297.5 1998.1,1294 1998.5,1290.5 1998.8,1287 1999.1,1283.5 1999.4,1280 1999.7,1276.5 2000,1273 2000.3,1269.5 2000.6,1265.9 2000.9,1262.4 2001.2,1258.9 2001.5,1255.4 2001.8,1251.9 2002,1248.4 2002.3,1244.9 2002.6,1241.4 2002.9,1237.9 2003.2,1234.3 2003.4,1230.8 2003.7,1227.3 2004,1223.8 2004.2,1220.3 2004.5,1216.8 2004.8,1213.3 2005,1209.8 2005.3,1206.2 2005.6,1202.7 2005.8,1199.2 2006.1,1195.7 2006.3,1192.2 2006.6,1188.7 2006.8,1185.2 2007.1,1181.7 2007.3,1178.1 2007.6,1174.6 2007.8,1171.1 2008,1167.6 2008.3,1164.1 2008.5,1160.6 2008.7,1157.1 2009,1153.5 2009.2,1150 2009.4,1146.5 2009.6,1143 2009.9,1139.5 2010.1,1136 2010.3,1132.5 2010.5,1128.9 2010.7,1125.4 2011,1121.9 2011.2,1118.4 2011.4,1114.9 2011.6,1111.4 2011.8,1107.9 2012,1104.3 2012.2,1100.8 2012.4,1097.3 2012.6,1093.8 2012.8,1090.3 2013,1086.8 2013.2,1083.3 2013.4,1079.7 2013.6,1076.2 2013.8,1072.7 2014,1069.2 2014.2,1065.7 2014.4,1062.2 2014.5,1058.6 2014.7,1055.1 2014.9,1051.6 2015.1,1048.1 2015.3,1044.6 2015.5,1041.1 2015.6,1037.5 2015.8,1034 2016,1030.5 2016.2,1027 2016.3,1023.5 2016.5,1020 2016.7,1016.4 2016.8,1012.9 2017,1009.4 2017.2,1005.9 2017.3,1002.4 2017.5,998.9 2017.7,995.3 2017.8,991.8 2018,988.3 2018.1,984.8 2018.3,981.3 2018.5,977.8 2018.6,974.2 2018.8,970.7 2018.9,967.2 2019.1,963.7 2019.2,960.2 2019.4,956.6 2019.5,953.1 2019.7,949.6 2019.8,946.1 2020,942.6 2020.1,939.1 2020.3,935.5 2020.4,932 2020.6,928.5 2020.7,925 2020.9,921.5 2021,917.9 2021.1,914.4 2021.3,910.9 2021.4,907.4 2021.6,903.9 2021.7,900.3 2021.8,896.8 2022,893.3 2022.1,889.8 2022.2,886.3 2022.4,882.7 2022.5,879.2 2022.6,875.7 2022.8,872.2 2022.8,871.1"/>
<path d="M1219.5,1169.5L985.7,1145.8"/>
<path d="M1253.2,1162.6 1250.2,1160.1 1247.8,1157 1246.2,1153.6 1245.8,1150.2 1246.9,1147.3 1249.2,1144.7 1252.3,1142.6 1255.9,1140.9 1259.6,1139.8 1263.3,1139 1266.9,1138.5 1270.5,1138.4 1274.1,1138.4 1277.8,1138.5 1281.5,1138.6 1285.3,1138.6 1289.1,1138.6 1293,1138.6 1296.8,1138.7 1300.5,1139.1 1304.1,1139.8 1307.4,1141 1310.5,1142.8 1313.1,1145.2 1315.1,1148.2 1315.7,1149.7"/>
<path d="M1308.9,1162.6 1311.5,1160.2 1314.3,1157.9 1317,1155.7 1319.8,1153.4 1322.7,1151.2 1325.6,1149 1328.5,1146.8 1331.3,1144.6 1334.2,1142.4 1337.1,1140.2 1339.9,1137.9 1342.7,1135.6 1345.4,1133.2 1348,1130.7 1350.6,1128.2 1353,1125.6 1355.4,1123 1357.7,1120.2 1359.9,1117.4 1361.9,1114.5 1363.9,1111.5 1365.8,1108.5 1367.6,1105.4 1369.3,1102.2 1370.9,1099 1372.4,1095.8 1373.7,1092.5 1375,1089.1 1376.2,1085.7 1377.3,1082.3 1378.4,1078.9 1379.3,1075.4 1380.3,1071.9 1381.3,1068.5 1382.4,1065.1 1383.6,1061.7 1385,1058.3 1386.5,1055.1 1388.3,1051.9 1390.1,1048.8 1392.2,1045.8 1394.3,1042.9 1396.6,1040.1 1399,1037.4 1401.5,1034.8 1404.1,1032.3 1406.8,1029.9 1409.5,1027.7 1412.4,1025.6 1415.3,1023.5 1418.3,1021.7 1421.4,1019.9 1424.5,1018.3 1427.8,1016.7 1429.2,1016.2"/>
<path d="M1289.5,1162.6 1291.1,1159.5 1292.7,1156.4 1294.4,1153.2 1296,1150.1 1297.6,1147 1299.2,1143.9 1300.9,1140.7 1302.5,1137.6 1304.1,1134.5 1305.7,1131.4 1307.4,1128.2 1309,1125.1 1310.6,1122 1312.2,1118.8 1313.9,1115.7 1315.5,1112.6 1317.1,1109.5 1318.7,1106.3 1320.3,1103.2 1321.9,1100 1323.5,1096.9 1325.1,1093.8 1326.7,1090.6 1328.3,1087.5 1329.9,1084.3 1331.4,1081.2 1333,1078 1334.6,1074.9 1336.1,1071.7 1337.7,1068.5 1339.2,1065.4 1340.8,1062.2 1342.3,1059 1343.8,1055.9 1345.3,1052.7 1346.8,1049.5 1348.3,1046.3 1349.8,1043.1 1351.3,1039.9 1352.8,1036.7 1354.2,1033.5 1355.7,1030.3 1357.1,1027.1 1358.6,1023.9 1360,1020.7 1361.4,1017.5 1362.8,1014.2 1364.2,1011 1365.6,1007.7 1366.9,1004.5 1368.3,1001.3 1369.6,998 1371,994.7 1372.3,991.5 1373.6,988.2 1374.9,985 1376.2,981.7 1377.5,978.4 1378.8,975.1 1380.1,971.9 1381.4,968.6 1382.6,965.3 1383.9,962 1385.1,958.7 1386.3,955.4 1387.5,952.1 1388.8,948.8 1390,945.5 1391.2,942.2 1392.3,938.8 1393.5,935.5 1394.7,932.2 1395.8,928.9 1397,925.5 1398.1,922.2 1399.3,918.9 1400.4,915.5 1401.5,912.2 1402.6,908.9 1403.7,905.5 1404.8,902.2 1405.9,898.8 1407,895.5 1408.1,892.1 1409.1,888.8 1410.2,885.4 1411.2,882 1412.3,878.7 1413.3,875.3 1414.3,871.9 1415.4,868.6 1416.4,865.2 1417.4,861.8 1418.4,858.5 1419.4,855.1 1420.4,851.7 1421.4,848.3 1422.3,844.9 1423.3,841.6 1424.3,838.2 1425.3,834.8 1426.2,831.4 1427.2,828 1428.1,824.6 1429.1,821.2 1430,817.8 1430.9,814.4 1431.9,811 1432.8,807.6 1433.7,804.2 1434.6,800.8 1435.6,797.4 1436.5,794 1437.4,790.6 1438.3,787.2 1439.2,783.8 1440.1,780.4 1441,777 1441.9,773.6 1442.8,770.2 1443.7,766.8 1444.6,763.4 1445.4,760 1446.3,756.6 1447.2,753.1 1448.1,749.7 1449,746.3 1449.9,742.9 1450.7,739.5 1451.6,736.1 1452.5,732.7 1453.4,729.3 1454.2,725.8 1455.1,722.4 1456,719 1456.8,715.6 1457.7,712.2 1458.6,708.8 1459.5,705.4 1460.3,701.9 1461.2,698.5 1462.1,695.1 1463,691.7 1463.8,688.3 1464.7,684.9 1465.6,681.5 1466.5,678.1 1467.4,674.7 1468.2,671.2 1469.1,667.8 1470,664.4 1470.9,661 1471.8,657.6 1472.7,654.2 1473.6,650.8 1474.5,647.4 1474.8,646.4"/>
<path d="M1291.5,1162.6 1293.1,1159.4 1294.7,1156.3 1296.3,1153.1 1297.9,1150 1299.5,1146.8 1301,1143.6 1302.6,1140.5 1304.2,1137.3 1305.7,1134.2 1307.3,1131 1308.8,1127.8 1310.4,1124.7 1311.9,1121.5 1313.5,1118.3 1315,1115.2 1316.5,1112 1318.1,1108.8 1319.6,1105.7 1321.1,1102.5 1322.7,1099.3 1324.2,1096.2 1325.7,1093 1327.3,1089.8 1328.8,1086.6 1330.3,1083.5 1331.9,1080.3 1333.4,1077.1 1334.9,1074 1336.5,1070.8 1338,1067.6 1339.6,1064.5 1341.1,1061.3 1342.7,1058.1 1344.2,1054.9 1345.8,1051.8 1347.4,1048.6 1349,1045.4 1350.5,1042.3 1352.1,1039.1 1353.7,1035.9 1355.4,1032.8 1357,1029.6 1358.6,1026.5 1360.3,1023.4 1361.9,1020.2 1363.6,1017.1 1365.3,1014 1367.1,1010.9 1368.8,1007.9 1370.6,1004.8 1372.3,1001.7 1374.2,998.7 1376,995.7 1377.9,992.7 1379.7,989.8 1381.7,986.8 1383.6,983.9 1385.6,981 1387.6,978.1 1389.6,975.3 1391.7,972.5 1393.8,969.7 1396,966.9 1398.2,964.2 1400.4,961.5 1402.7,958.8 1405,956.2 1407.3,953.6 1409.7,951.1 1412.2,948.6 1414.6,946.1 1417.2,943.7 1419.8,941.3 1422.4,938.9 1425.1,936.6 1427.8,934.3 1430.5,932.1 1433.3,929.9 1436.1,927.7 1439,925.6 1441.8,923.5 1444.7,921.4 1447.6,919.4 1450.6,917.4 1453.6,915.4 1456.5,913.5 1459.5,911.5 1462.5,909.6 1465.6,907.8 1468.6,905.9 1471.6,904.1 1474.7,902.3 1477.7,900.5 1480.8,898.8 1483.9,897 1486.9,895.3 1490,893.7 1493.1,892 1496.2,890.4 1499.4,888.8 1502.5,887.2 1505.6,885.6 1508.8,884.1 1512,882.6 1515.2,881.2 1518.4,879.7 1521.6,878.3 1524.8,876.9 1528,875.6 1531.3,874.2 1534.5,872.9 1537.8,871.6 1541.1,870.4 1544.4,869.1 1547.7,867.9 1551,866.7 1554.3,865.5 1557.7,864.3 1561,863.2 1564.4,862 1567.7,860.9 1571.1,859.8 1574.4,858.7 1577.8,857.6 1581.2,856.5 1584.6,855.5 1587.9,854.4 1591.3,853.3 1594.7,852.3 1598.1,851.2 1601.4,850.2 1604.8,849.1 1608.2,848.1 1611.6,847 1614.9,846 1618.3,844.9 1621.7,843.9 1625,842.8 1626,842.5"/>
<path d="M1300.9,1162.6 1303.9,1160.7 1306.9,1158.8 1309.9,1156.9 1313,1155.1 1316,1153.2 1319.1,1151.4 1322.2,1149.6 1325.2,1147.7 1328.3,1145.9 1331.3,1144 1334.3,1142 1337.3,1140.1 1340.2,1138 1343.1,1136 1345.9,1133.8 1348.7,1131.6 1351.5,1129.3 1354.2,1127 1356.8,1124.7 1359.5,1122.3 1362.1,1119.9 1364.7,1117.4 1367.3,1115 1369.9,1112.5 1372.5,1110.1 1375.1,1107.6 1377.7,1105.2 1380.3,1102.7 1383,1100.4 1385.6,1098 1388.3,1095.8 1391.1,1093.6 1393.9,1091.5 1396.8,1089.6 1399.8,1087.8 1402.9,1086.1 1406.1,1084.5 1409.3,1083 1412.5,1081.6 1415.8,1080.2 1419.1,1078.9 1422.4,1077.6 1425.7,1076.4 1429.1,1075.1 1432.4,1073.8 1435.8,1072.6 1439.1,1071.3 1442.5,1070.1 1445.8,1068.8 1449.1,1067.5 1452.4,1066.1 1455.7,1064.8 1459,1063.4 1462.3,1061.9 1465.5,1060.4 1468.7,1058.9 1471.9,1057.3 1475.1,1055.8 1478.3,1054.2 1481.5,1052.6 1484.7,1051.1 1488,1049.6 1491.2,1048.2 1494.5,1046.8 1497.8,1045.5 1501.1,1044.2 1504.5,1042.9 1507.8,1041.8 1511.2,1040.7 1514.6,1039.6 1518,1038.6 1521.4,1037.6 1524.9,1036.7 1528.3,1035.8 1531.8,1034.9 1535.2,1034.1 1538.7,1033.3 1542.2,1032.4 1545.7,1031.6 1549.1,1030.8 1552.6,1030 1556.1,1029.2 1559.6,1028.4 1563,1027.6 1566.5,1026.7 1570,1025.9 1573.4,1025 1576.9,1024.2 1580.3,1023.3 1583.8,1022.5 1587.3,1021.6 1590.7,1020.8 1594.2,1019.9 1597.6,1019 1601.1,1018.2 1604.5,1017.3 1608,1016.4 1611.4,1015.6 1614.9,1014.7 1618.3,1013.9 1621.8,1013 1625.3,1012.2 1628.7,1011.3 1630,1011"/>
<path d="M1342.7,1179.6 1346.2,1179.8 1349.8,1180.1 1353.3,1180.3 1356.9,1180.5 1360.4,1180.7 1364,1181 1367.5,1181.2 1371.1,1181.4 1374.6,1181.7 1378.2,1181.9 1381.7,1182.1 1385.3,1182.4 1388.8,1182.6 1392.4,1182.8 1395.9,1183 1399.5,1183.3 1403,1183.5 1406.6,1183.7 1410.1,1184 1413.7,1184.2 1417.2,1184.4 1420.8,1184.7 1424.3,1184.9 1427.9,1185.1 1431.4,1185.3 1435,1185.6 1438.5,1185.8 1442,1186 1445.6,1186.3 1449.1,1186.5 1452.7,1186.7 1456.2,1187 1459.8,1187.2 1463.3,1187.4 1466.9,1187.7 1470.4,1187.9 1474,1188.1 1477.5,1188.3 1481.1,1188.6 1484.6,1188.8 1488.2,1189 1491.7,1189.3 1495.3,1189.5 1498.8,1189.7 1502.4,1190 1505.9,1190.2 1509.5,1190.4 1513,1190.7 1516.6,1190.9 1520.1,1191.1 1523.7,1191.3 1527.2,1191.6 1530.8,1191.8 1534.3,1192 1537.9,1192.3 1541.4,1192.5 1544.9,1192.7 1548.5,1193 1552,1193.2 1555.6,1193.4 1559.1,1193.7 1562.7,1193.9 1566.2,1194.1 1569.8,1194.4 1573.3,1194.6 1576.9,1194.8 1580.4,1195 1584,1195.3 1587.5,1195.5 1591.1,1195.7 1594.6,1196 1598.2,1196.2 1601.7,1196.4 1605.3,1196.7 1608.8,1196.9 1612.4,1197.1 1615.9,1197.4 1617.1,1197.4"/>
<path d="M1296.3,1188L1665.2,1535.4"/>
<path d="M1311.9,1188 1315.1,1189.3 1318.4,1190.7 1321.7,1192 1324.9,1193.3 1328.2,1194.6 1331.4,1195.9 1334.7,1197.2 1338,1198.5 1341.3,1199.7 1344.6,1201 1347.8,1202.3 1351.1,1203.5 1354.4,1204.8 1357.7,1206 1361,1207.2 1364.3,1208.4 1367.6,1209.6 1370.9,1210.8 1374.2,1212 1377.6,1213.2 1380.9,1214.4 1384.2,1215.5 1387.5,1216.7 1390.9,1217.8 1394.2,1219 1397.5,1220.1 1400.9,1221.2 1404.2,1222.3 1407.5,1223.4 1410.9,1224.5 1414.2,1225.6 1417.6,1226.7 1421,1227.8 1424.3,1228.8 1427.7,1229.9 1431,1230.9 1434.4,1231.9 1437.8,1232.9 1441.2,1233.9 1444.5,1234.9 1447.9,1235.9 1451.3,1236.9 1454.7,1237.9 1458.1,1238.8 1461.5,1239.8 1464.9,1240.7 1468.3,1241.6 1471.7,1242.5 1475.1,1243.4 1478.5,1244.3 1481.9,1245.2 1485.3,1246.1 1488.7,1246.9 1492.1,1247.8 1495.5,1248.6 1499,1249.4 1502.4,1250.3 1505.8,1251.1 1509.2,1251.9 1512.7,1252.6 1516.1,1253.4 1519.5,1254.2 1523,1254.9 1526.4,1255.7 1529.9,1256.4 1533.3,1257.1 1536.7,1257.8 1540.2,1258.5 1543.6,1259.2 1547.1,1259.8 1550.6,1260.5 1554,1261.1 1557.5,1261.8 1560.9,1262.4 1564.4,1263 1567.9,1263.6 1571.3,1264.2 1574.8,1264.7 1578.3,1265.3 1581.7,1265.8 1585.2,1266.4 1588.7,1266.9 1592.2,1267.4 1595.7,1267.9 1599.1,1268.4 1602.6,1268.8 1606.1,1269.3 1609.6,1269.7 1613.1,1270.1 1616.6,1270.5 1620.1,1270.9 1623.6,1271.3 1627.1,1271.6 1630.6,1271.9 1634.1,1272.3 1637.6,1272.6 1641.1,1272.8 1644.6,1273.1 1648.1,1273.4 1651.6,1273.6 1655.1,1273.8 1658.6,1274 1662.1,1274.2 1665.7,1274.3 1669.2,1274.5 1672.7,1274.6 1676.2,1274.7 1679.7,1274.8 1683.2,1274.8 1686.8,1274.9 1690.3,1274.9 1693.8,1274.9 1697.3,1274.9 1700.9,1274.9 1704.4,1274.8 1707.9,1274.7 1711.4,1274.6 1715,1274.5 1718.5,1274.3 1722,1274.1 1725.5,1273.9 1729.1,1273.7 1732.6,1273.5 1736.1,1273.2 1739.6,1272.9 1743.1,1272.6 1746.6,1272.2 1750.1,1271.9 1753.6,1271.5 1757.1,1271 1760.6,1270.6 1764.1,1270.1 1767.6,1269.6 1771.1,1269.1 1774.5,1268.5 1778,1267.9 1781.5,1267.3 1784.9,1266.6 1788.4,1265.9 1791.8,1265.2 1795.2,1264.5 1798.6,1263.7 1802.1,1262.9 1805.5,1262 1808.9,1261.2 1812.2,1260.3 1815.6,1259.3 1819,1258.4 1822.3,1257.3 1825.7,1256.3 1829,1255.2 1832.4,1254.1 1835.7,1253 1839,1251.8 1842.3,1250.6 1845.6,1249.3 1848.8,1248 1852.1,1246.7 1855.4,1245.3 1858.6,1243.9 1861.8,1242.5 1865.1,1241 1868.3,1239.5 1871.4,1238 1874.6,1236.4 1877.7,1234.7 1880.8,1233 1883.9,1231.3 1886.9,1229.5 1889.9,1227.7 1892.9,1225.9 1895.9,1223.9 1898.8,1222 1901.6,1220 1904.5,1218 1907.3,1215.9 1910.1,1213.8 1912.8,1211.6 1915.6,1209.4 1918.3,1207.2 1920.9,1204.9 1923.6,1202.6 1926.2,1200.2 1928.7,1197.8 1931.3,1195.4 1933.8,1192.9 1936.3,1190.4 1938.7,1187.9 1941.2,1185.3 1943.5,1182.7 1945.9,1180 1948.2,1177.3 1950.5,1174.6 1952.7,1171.9 1954.9,1169.1 1957.1,1166.3 1959.2,1163.5 1961.2,1160.7 1963.2,1157.8 1965.1,1154.9 1967,1152 1968.8,1149 1970.6,1146 1972.3,1143 1973.9,1139.9 1975.5,1136.8 1977,1133.6 1978.5,1130.5 1979.9,1127.2 1981.2,1124 1982.5,1120.7 1983.8,1117.4 1985,1114.1 1986.1,1110.7 1987.2,1107.4 1988.2,1104 1989.1,1100.6 1990,1097.1 1990.9,1093.7 1991.6,1090.2 1992.3,1086.8 1993,1083.3 1993.5,1079.8 1994.1,1076.3 1994.5,1072.8 1994.9,1069.3 1995.2,1065.8 1995.5,1062.3 1995.7,1058.8 1995.8,1055.3 1995.9,1051.8 1995.9,1048.3 1995.9,1044.8 1995.8,1041.3 1995.7,1037.8 1995.5,1034.3 1995.2,1030.8 1995,1027.4 1994.7,1023.9 1994.3,1020.4 1993.9,1016.9 1993.5,1013.4 1993,1009.9 1992.5,1006.4 1991.9,1002.9 1991.4,999.5 1990.8,996 1990.2,992.5 1989.5,989 1988.9,985.6 1988.2,982.1 1987.6,978.6 1986.9,975.2 1986.3,971.7 1985.6,968.2 1985,964.8 1984.4,961.3 1983.9,957.8 1983.3,954.3 1982.8,950.9 1982.4,947.4 1981.9,943.9 1981.6,940.4 1981.3,936.9 1981,933.4 1980.8,929.9 1980.7,926.4 1980.6,922.9 1980.6,919.4 1980.6,915.9 1980.7,912.4 1980.8,908.9 1980.9,905.4 1981.1,901.9 1981.3,898.3 1981.6,894.8 1981.9,891.3 1982.2,887.8 1982.6,884.3 1982.9,880.7 1983.4,877.2 1983.8,873.7 1984.2,870.2 1984.7,866.6 1985.2,863.1 1985.7,859.6 1986.2,856.1 1986.9,852.6 1987.5,849.2 1988.3,845.8 1989.2,842.4 1990.1,839.1 1991.2,835.8 1992.3,832.5 1993.6,829.3 1995.1,826.2 1996.7,823.2 1998.4,820.2 2000.3,817.3 2001.1,816.2"/>
<path d="M1490.7,1012.3L1678.8,1532.1"/>
<path d="M1493,1012.3 1494.7,1015.4 1496.3,1018.5 1498,1021.6 1499.6,1024.7 1501.3,1027.8 1503,1030.9 1504.7,1034 1506.4,1037.2 1508.1,1040.3 1509.8,1043.4 1511.5,1046.6 1513.2,1049.7 1514.9,1052.8 1516.7,1056 1518.4,1059.1 1520.2,1062.2 1522,1065.3 1523.8,1068.5 1525.6,1071.6 1527.4,1074.7 1529.3,1077.7 1531.1,1080.8 1533,1083.9 1534.9,1086.9 1536.9,1090 1538.8,1093 1540.8,1096 1542.8,1099 1544.8,1102 1546.8,1104.9 1548.9,1107.8 1550.9,1110.7 1553.1,1113.6 1555.2,1116.5 1557.4,1119.3 1559.5,1122.1 1561.8,1124.9 1564,1127.7 1566.3,1130.4 1568.6,1133.1 1570.9,1135.8 1573.3,1138.4 1575.7,1141 1578.2,1143.5 1580.6,1146.1 1583.1,1148.5 1585.7,1151 1588.3,1153.4 1590.9,1155.8 1593.5,1158.1 1596.2,1160.3 1599,1162.6 1601.7,1164.8 1604.5,1166.9 1607.4,1169 1610.3,1171 1613.2,1173 1616.2,1174.9 1619.2,1176.8 1622.2,1178.7 1625.3,1180.4 1628.5,1182.1 1631.7,1183.8 1633,1184.5"/>
<path d="M1936.5,1090.7 1939.2,1088.5 1941.9,1086.2 1944.5,1083.8 1947.1,1081.4 1949.6,1078.9 1952,1076.3 1954.4,1073.6 1956.7,1070.9 1958.9,1068.1 1961.1,1065.2 1963.1,1062.3 1965.1,1059.3 1967,1056.3 1968.8,1053.2 1970.6,1050.1 1972.2,1046.9 1973.8,1043.7 1975.3,1040.5 1976.6,1037.2 1977.9,1033.9 1979.1,1030.5 1980.2,1027.2 1981.1,1023.8 1982,1020.4 1982.8,1016.9 1983.5,1013.5 1984.2,1010 1984.7,1006.5 1985.2,1003 1985.6,999.5 1985.9,996 1986.2,992.4 1986.4,988.9 1986.5,985.3 1986.6,981.7 1986.7,978.2 1986.7,974.6 1986.7,971 1986.6,967.4 1986.5,963.9 1986.4,960.3 1986.2,956.7 1986.1,953.2 1985.9,949.6 1985.7,946 1985.5,942.5 1985.3,938.9 1985.1,935.4 1984.8,931.8 1984.6,928.3 1984.5,924.8 1984.3,921.2 1984.1,917.7 1984,914.2 1983.9,910.7 1983.8,907.1 1983.8,903.6 1983.8,900.1 1983.8,896.5 1983.9,893 1984.1,889.5 1984.3,885.9 1984.5,882.4 1984.9,878.9 1985.3,875.3 1985.7,871.8 1986.2,868.2 1986.8,864.7 1987.3,861.1 1987.9,857.6 1988.5,854.1 1989.1,850.5 1989.8,847 1990.5,843.6 1991.3,840.1 1992.2,836.7 1993.2,833.3 1994.3,830 1995.6,826.8 1997,823.6 1998.7,820.5 2000.5,817.5 2001.3,816.3"/>
<path d="M1728.6,950.7 1732,951.7 1735.4,952.7 1738.8,953.9 1742.2,955.2 1745.6,956.6 1748.9,958.1 1752.2,959.7 1755.4,961.5 1758.6,963.3 1761.7,965.3 1764.6,967.4 1767.5,969.6 1770.2,972 1772.8,974.4 1775.3,977 1777.5,979.7 1779.7,982.6 1781.7,985.5 1783.6,988.5 1785.3,991.6 1786.9,994.8 1788.4,998.1 1789.7,1001.4 1790.9,1004.8 1792,1008.3 1793,1011.8 1793.8,1015.3 1794.6,1018.9 1795.2,1022.5 1795.8,1026.1 1796.3,1029.8 1796.8,1033.4 1797.3,1037 1797.9,1040.6 1798.5,1044.2 1799.3,1047.7 1800.1,1051.1 1801.1,1054.5 1802.3,1057.8 1803.7,1061 1805.3,1064.1 1807.2,1067.1 1809.2,1070 1811.5,1072.7 1813.9,1075.4 1816.5,1077.9 1819.3,1080.2 1822.2,1082.4 1825.3,1084.4 1826.7,1085.3"/>
<path d="M1726.9,987.2L1817.5,953.6"/>
<path d="M1738.2,998.3L1805.3,996.6"/>
<path d="M1737.6,1012.2L1830.4,1037.2"/>
</g>
<g fill="#191970" stroke="#191970" stroke-width="1">
<polygon points="2023,781.3 2018.1,768.5 2027.1,768.2"/>
<polygon points="382.5,177.3 372.5,186.7 368.8,178.5"/>
<polygon points="360,270 347.4,275.4 346.7,266.5"/>
<polygon points="181.5,316.9 168.5,321.4 168.5,312.4"/>
<polygon points="714.8,567.5 701.5,571.2 702.1,562.2"/>
<polygon points="920.8,1125.7 912.3,1114.9 920.9,1111.9"/>
<polygon points="207.4,658.8 193.9,656.1 198.5,648.3"/>
<polygon points="369.5,278.8 358.4,286.9 355.8,278.3"/>
<polygon points="351.4,316.9 338.4,321.4 338.4,312.4"/>
<polygon points="394.3,430.9 381.2,426.6 386.7,419.4"/>
<polygon points="2023,781.3 2018.2,768.4 2027.2,768.2"/>
<polygon points="554.2,164.8 541.2,169.2 541.2,160.2"/>
<polygon points="2023,781.3 2018.1,768.4 2027.1,768.2"/>
<polygon points="531,266.2 518,270.8 518,261.8"/>
<polygon points="553.8,226.2 543.4,235.3 540,227"/>
<polygon points="562.2,316.9 549.2,321.4 549.2,312.4"/>
<polygon points="729.2,382.5 715.6,384.3 717.4,375.5"/>
<polygon points="729.2,398.8 717,405 715.7,396.1"/>
<polygon points="522.2,458.5 508.7,461.2 509.9,452.3"/>
<polygon points="2022.5,781.3 2016.7,768.8 2025.6,767.9"/>
<polygon points="739.2,185 725.8,187.7 727,178.8"/>
<polygon points="739.2,196.2 727,202.4 725.8,193.5"/>
<polygon points="733,266.2 720,270.8 720,261.8"/>
<polygon points="740,405.3 729.9,414.6 726.3,406.4"/>
<polygon points="747.1,557.7 733.6,555.3 738,547.4"/>
<polygon points="2023,781.3 2018,768.5 2027,768.1"/>
<polygon points="1642.3,304.6 1628.8,307.3 1630,298.4"/>
<polygon points="1037.5,413.6 1024.5,418.1 1024.5,409.1"/>
<polygon points="904.4,481.8 896.1,492.8 891.1,485.3"/>
<polygon points="1031.5,469 1018.5,473.5 1018.5,464.5"/>
<polygon points="1049.5,507 1035.7,507.3 1038.5,498.7"/>
<polygon points="1049.2,526 1037.1,532.4 1035.7,523.5"/>
<polygon points="2011.9,780.5 2000.2,773.2 2007.2,767.6"/>
<polygon points="1441.5,620.5 1428.4,624.7 1428.6,615.7"/>
<polygon points="1680.3,814.5 1668.9,806.8 1676.1,801.4"/>
<polygon points="1637.7,865.6 1624,864 1628,855.9"/>
<polygon points="1656.1,928.4 1642.7,925.3 1647.5,917.7"/>
<polygon points="1657,987.3 1643.3,986.4 1646.8,978.1"/>
<polygon points="1644.9,1189.8 1631.2,1191.1 1633.3,1182.4"/>
<polygon points="913.2,1125.7 901.9,1117.9 909.1,1112.6"/>
<polygon points="1685,1569.4 1688.1,1582.8 1679.1,1581.8"/>
<polygon points="1620.2,310.7 1606.8,313.8 1607.7,304.9"/>
<polygon points="1233,380.3 1221.7,388.1 1219.3,379.5"/>
<polygon points="1213.1,418.3 1200.1,422.8 1200.1,413.8"/>
<polygon points="1233.7,456.5 1220,457.4 1222.4,448.7"/>
<polygon points="1233,380.3 1221.6,388 1219.3,379.3"/>
<polygon points="1233,430.9 1221.7,438.7 1219.3,430.1"/>
<polygon points="1222.3,469 1209.3,473.5 1209.3,464.5"/>
<polygon points="2022.5,781.3 2015.9,769.2 2024.8,767.7"/>
<polygon points="1516.5,608.6 1519.1,595.1 1526.9,599.6"/>
<polygon points="1611.1,621.1 1598.1,625.6 1598.1,616.6"/>
<polygon points="2049.2,781.3 2046.2,767.9 2055.1,768.9"/>
<polygon points="2049.5,787.4 2062,781.7 2062.9,790.7"/>
<polygon points="2099.1,803.5 2085.8,807.1 2086.4,798.1"/>
<polygon points="2049.5,796.6 2063.2,797.2 2060,805.5"/>
<polygon points="2103,832.7 2089.3,831.7 2092.9,823.4"/>
<polygon points="2124.7,807.1 2114.2,815.9 2111,807.5"/>
<polygon points="2103,845 2090,849.5 2090,840.5"/>
<polygon points="2000.5,792 1987.2,795.4 1987.9,786.4"/>
<polygon points="2000.5,801.2 1988.9,808.6 1986.8,799.9"/>
<polygon points="2009.9,806.6 2003.7,818.9 1997.4,812.4"/>
<polygon points="1516.4,987.2 1518.5,973.6 1526.4,977.8"/>
<polygon points="1442.6,999.7 1429.6,1004.2 1429.6,995.2"/>
<polygon points="963.9,1125.5 974.3,1116.5 977.6,1124.9"/>
<polygon points="1684,329.4 1684.8,343.1 1676.2,340.7"/>
<polygon points="1638.4,838.5 1628,847.5 1624.7,839.2"/>
<polygon points="1659.7,891 1650.3,901 1646.1,893.1"/>
<polygon points="1652.3,951.9 1641,959.8 1638.6,951.2"/>
<polygon points="1642.6,999.7 1629.6,1004.2 1629.6,995.2"/>
<polygon points="2009.9,806.6 2004.9,819.4 1998,813.6"/>
<polygon points="1264,1012.5 1256.6,1024.1 1251,1017.1"/>
<polygon points="1442.6,1009 1430.6,1015.7 1429,1006.9"/>
<polygon points="1228,1188 1219.5,1198.8 1214.6,1191.3"/>
<polygon points="946.2,1151.2 956.6,1160.2 948.8,1164.7"/>
<polygon points="1080.5,1392.2 1070,1383.4 1077.7,1378.7"/>
<polygon points="1121,1392.2 1117.9,1378.8 1126.8,1379.7"/>
<polygon points="1660.5,1012.4 1652.3,1023.4 1647.2,1016"/>
<polygon points="1650.6,1215.1 1639.8,1223.6 1636.8,1215.1"/>
<polygon points="1874.8,1116.3 1870.4,1129.3 1863.3,1123.9"/>
<polygon points="2009.9,806.6 2005.4,819.6 1998.3,814"/>
<polygon points="1246.2,1493.2 1232.5,1492.3 1235.9,1484"/>
<polygon points="1227.7,1544.3 1214,1543.6 1217.3,1535.3"/>
<polygon points="1453.6,1569.4 1444.4,1579.6 1440,1571.7"/>
<polygon points="1427.7,1681.1 1414.5,1684.8 1415,1675.8"/>
<polygon points="1243.4,1700.3 1229.7,1701.6 1231.8,1692.9"/>
<polygon points="1427.7,1690.5 1415.4,1696.6 1414.2,1687.6"/>
<polygon points="1678.5,1569.4 1676,1582.9 1668.2,1578.5"/>
<polygon points="2009.9,806.6 2003.7,818.9 1997.5,812.5"/>
<polygon points="2023.3,858.1 2027.3,871.3 2018.3,870.9"/>
<polygon points="972.8,1144.5 986.2,1141.3 985.3,1150.3"/>
<polygon points="1313.9,1162.6 1311.2,1149.1 1320.1,1150.4"/>
<polygon points="1441.5,1012 1430.6,1020.4 1427.7,1011.9"/>
<polygon points="1478.1,633.8 1479.1,647.5 1470.4,645.2"/>
<polygon points="1638.4,838.5 1627.4,846.8 1624.6,838.2"/>
<polygon points="1642.6,1008 1631,1015.4 1628.9,1006.7"/>
<polygon points="1630.1,1198.3 1616.8,1201.9 1617.4,1193"/>
<polygon points="1674.7,1544.3 1662.2,1538.7 1668.3,1532.1"/>
<polygon points="2009.9,806.6 2004.5,819.2 1997.8,813.2"/>
<polygon points="1683.2,1544.3 1674.5,1533.6 1683,1530.5"/>
<polygon points="1644.9,1189.8 1631.2,1188.6 1634.9,1180.4"/>
<polygon points="2009.9,806.6 2004.6,819.3 1997.9,813.3"/>
<polygon points="1838.5,1090.8 1824.8,1089.4 1828.6,1081.2"/>
<polygon points="1829.7,949.1 1819.1,957.8 1815.9,949.4"/>
<polygon points="1818.3,996.3 1805.4,1001.1 1805.2,992.1"/>
<polygon points="1843,1040.6 1829.3,1041.6 1831.6,1032.9"/>
</g>
<g stroke-width="1.15">
<rect x="5.4" y="304.3" width="128" height="25.1" fill="#bfbfbf" stroke="#000000"/>
<rect x="181.6" y="304.3" width="121.5" height="25.1" fill="#ffffff" stroke="#000000"/>
<rect x="198.2" y="659" width="88.5" height="25.1" fill="#ffffff" stroke="#000000"/>
<rect x="357.6" y="152.2" width="111" height="25.1" fill="#ffffff" stroke="#000000"/>
<rect x="360.1" y="253.7" width="106" height="25.1" fill="#ffffff" stroke="#000000"/>
<rect x="351.4" y="304.3" width="123" height="25.1" fill="#ffffff" stroke="#000000"/>
<rect x="359.5" y="430.8" width="107.3" height="25.1" fill="#ffffff" stroke="#000000"/>
<rect x="554.2" y="152.2" width="80.5" height="25.1" fill="#ffffff" stroke="#000000"/>
<rect x="553.7" y="202.9" width="81.8" height="25.1" fill="#ffffff" stroke="#ff0000"/>
<rect x="531" y="253.7" width="127" height="25.1" fill="#ffffff" stroke="#000000"/>
<rect x="562.2" y="304.3" width="64.5" height="25.1" fill="#ffffff" stroke="#000000"/>
<rect x="522.2" y="456.4" width="144.4" height="25.1" fill="#ffffff" stroke="#ff0000"/>
<rect x="739.2" y="177.4" width="62.8" height="25.1" fill="#ffffff" stroke="#000000"/>
<rect x="733" y="253.7" width="75.2" height="25.1" fill="#ffffff" stroke="#000000"/>
<rect x="729.2" y="379.9" width="83" height="25.1" fill="#ffffff" stroke="#ff0000"/>
<rect x="714.8" y="557.7" width="111.4" height="25.1" fill="#ffffff" stroke="#000000"/>
<rect x="874.2" y="456.4" width="110" height="25.1" fill="#ffffff" stroke="#000000"/>
<rect x="885.3" y="1125.7" width="87.5" height="25.1" fill="#ffffff" stroke="#000000"/>
<rect x="1037.5" y="405.8" width="111" height="25.1" fill="#ffffff" stroke="#ff0000"/>
<rect x="1031.5" y="456.4" width="123" height="25.1" fill="#ffffff" stroke="#ff0000"/>
<rect x="1049.2" y="507.1" width="87.5" height="25.1" fill="#ffffff" stroke="#000000"/>
<rect x="1046.3" y="1392.2" width="93.8" height="25.1" fill="#ffffff" stroke="#000000"/>
<rect x="1232.3" y="354.9" width="98" height="25.1" fill="#ffffff" stroke="#ff0000"/>
<rect x="1213.1" y="405.8" width="136.4" height="25.1" fill="#ffffff" stroke="#ff0000"/>
<rect x="1222.3" y="456.4" width="117.9" height="25.1" fill="#ffffff" stroke="#ff0000"/>
<rect x="1228.3" y="987.2" width="105.8" height="25.1" fill="#ffffff" stroke="#ff0000"/>
<rect x="1219.5" y="1162.8" width="123.2" height="25.1" fill="#ffffff" stroke="#ff0000"/>
<rect x="1229" y="1493.2" width="103.5" height="25.1" fill="#ffffff" stroke="#ff0000"/>
<rect x="1202.5" y="1544.2" width="156.5" height="25.1" fill="#ffffff" stroke="#000000"/>
<rect x="1242.5" y="1695.7" width="76.5" height="25.1" fill="#ffffff" stroke="#ff0000"/>
<rect x="1441.5" y="608.6" width="87.4" height="25.1" fill="#ffffff" stroke="#000000"/>
<rect x="1442.6" y="987.2" width="85.4" height="25.1" fill="#ffffff" stroke="#ff0000"/>
<rect x="1407.5" y="1544.2" width="154.5" height="25.1" fill="#ffffff" stroke="#000000"/>
<rect x="1427.5" y="1670.2" width="115" height="25.1" fill="#ffffff" stroke="#000000"/>
<rect x="1620" y="304.3" width="141.5" height="25.1" fill="#ffffff" stroke="#000000"/>
<rect x="1611" y="608.6" width="159" height="25.1" fill="#ffffff" stroke="#ff0000"/>
<rect x="1638.4" y="814.8" width="104.1" height="25.1" fill="#ffffff" stroke="#000000"/>
<rect x="1634.4" y="865.7" width="111.9" height="25.1" fill="#ffffff" stroke="#ff0000"/>
<rect x="1652.3" y="928.4" width="76.3" height="25.1" fill="#ffffff" stroke="#ff0000"/>
<rect x="1642.6" y="987.2" width="95.6" height="25.1" fill="#ffffff" stroke="#000000"/>
<rect x="1630.1" y="1189.9" width="120.5" height="25.1" fill="#ffffff" stroke="#000000"/>
<rect x="1633" y="1544.2" width="115" height="25.1" fill="#ffffff" stroke="#000000"/>
<rect x="1818.3" y="909" width="134.2" height="40" fill="#ffffff" stroke="#ff0000"/>
<rect x="1818.3" y="974.3" width="134.2" height="40" fill="#ffffff" stroke="#ff0000"/>
<rect x="1843" y="1040.5" width="84.6" height="25.1" fill="#ffffff" stroke="#000000"/>
<rect x="1823.4" y="1091" width="123.4" height="25.1" fill="#ffffff" stroke="#000000"/>
<rect x="2000.5" y="781.8" width="49" height="25.1" fill="#ffffff" stroke="#000000"/>
<rect x="2001.5" y="832.4" width="47" height="25.1" fill="#ffffff" stroke="#000000"/>
<rect x="2099.1" y="781.8" width="118.7" height="25.1" fill="#ffffff" stroke="#ff0000"/>
<rect x="2103" y="832.4" width="110.9" height="25.1" fill="#ffffff" stroke="#ff0000"/>
</g>
<g font-family="Liberation Sans, sans-serif" font-size="13.5" text-anchor="middle" fill="#000000" opacity="0.999">
<text transform="translate(69.4,320.2) scale(0.940,1)">second_arch_pass</text>
<text transform="translate(242.3,320.2) scale(0.962,1)">create_archetype</text>
<text transform="translate(242.4,674.8) scale(0.973,1)">load_object</text>
<text transform="translate(413.1,168.1) scale(0.934,1)">find_treasurelist</text>
<text transform="translate(413.1,269.6) scale(0.954,1)">find_archetype</text>
<text transform="translate(412.9,320.2) scale(0.957,1)">create_singularity</text>
<text transform="translate(413.1,446.7) scale(0.967,1)">arch_to_object</text>
<text transform="translate(594.5,168.1) scale(0.951,1)">find_string</text>
<text transform="translate(594.6,218.8) scale(0.965,1)">add_string</text>
<text transform="translate(594.5,269.6) scale(0.950,1)">try_find_archetype</text>
<text transform="translate(594.5,320.2) scale(0.961,1)">snprintf</text>
<text transform="translate(594.4,472.3) scale(0.956,1)">copy_object_with_inv</text>
<text transform="translate(770.6,193.3) scale(0.938,1)">hashstr</text>
<text transform="translate(770.6,269.6) scale(0.986,1)">hasharch</text>
<text transform="translate(770.8,395.8) scale(0.985,1)">get_object</text>
<text transform="translate(770.5,573.5) scale(0.942,1)">insert_ob_in_ob</text>
<text transform="translate(929.2,472.3) scale(0.954,1)">increase_ob_nr</text>
<text transform="translate(929,1141.5) scale(0.980,1)">free_object</text>
<text transform="translate(1093,421.6) scale(0.945,1)">esrv_send_item</text>
<text transform="translate(1093,472.3) scale(0.951,1)">esrv_update_item</text>
<text transform="translate(1093,522.9) scale(0.953,1)">add_weight</text>
<text transform="translate(1093.2,1408) scale(0.974,1)">free_object2</text>
<text transform="translate(1281.3,370.8) scale(0.998,1)">SockList_Init</text>
<text transform="translate(1281.3,421.6) scale(0.981,1)">SockList_AddString</text>
<text transform="translate(1281.2,472.3) scale(0.987,1)">SockList_AddInt</text>
<text transform="translate(1281.2,1003) scale(0.958,1)">execute_event</text>
<text transform="translate(1281.1,1178.6) scale(0.953,1)">insert_ob_in_map</text>
<text transform="translate(1280.8,1509) scale(0.952,1)">find_free_spot</text>
<text transform="translate(1280.8,1560.1) scale(0.958,1)">free_dialog_information</text>
<text transform="translate(1280.8,1711.5) scale(0.968,1)">free_arch</text>
<text transform="translate(1485.2,624.4) scale(0.981,1)">can_merge</text>
<text transform="translate(1485.3,1003) scale(0.955,1)">remove_ob</text>
<text transform="translate(1484.8,1560.1) scale(0.954,1)">remove_friendly_object</text>
<text transform="translate(1485,1686) scale(0.949,1)">free_key_values</text>
<text transform="translate(1690.8,320.2) scale(0.951,1)">get_player_container</text>
<text transform="translate(1690.5,624.4) scale(0.946,1)">compare_ob_value_lists</text>
<text transform="translate(1690.5,830.6) scale(0.954,1)">update_all_los</text>
<text transform="translate(1690.3,881.5) scale(0.957,1)">update_position</text>
<text transform="translate(1690.5,944.2) scale(0.952,1)">fix_object</text>
<text transform="translate(1690.4,1003) scale(0.956,1)">dump_object</text>
<text transform="translate(1690.3,1205.7) scale(0.933,1)">stringbuffer_finish</text>
<text transform="translate(1690.5,1560.1) scale(0.932,1)">stringbuffer_new</text>
<text transform="translate(1885.4,924.8) scale(0.942,1)">stringbuffer_append</text>
<text transform="translate(1885.4,939.8) scale(0.942,1)">_printf</text>
<text transform="translate(1885.4,990.1) scale(0.942,1)">stringbuffer_append</text>
<text transform="translate(1885.4,1005.1) scale(0.942,1)">_string</text>
<text transform="translate(1885.3,1056.3) scale(0.940,1)">get_ob_diff</text>
<text transform="translate(1885.1,1106.9) scale(0.951,1)">update_ob_speed</text>
<text transform="translate(2025,797.6) scale(1.012,1)">LOG</text>
<text transform="translate(2025,848.2) scale(1.011,1)">fatal</text>
<text transform="translate(2158.4,797.6) scale(0.949,1)">emergency_save</text>
<text transform="translate(2158.4,848.2) scale(0.955,1)">clean_tmp_files</text>
</g>
</svg>
</body></html>
